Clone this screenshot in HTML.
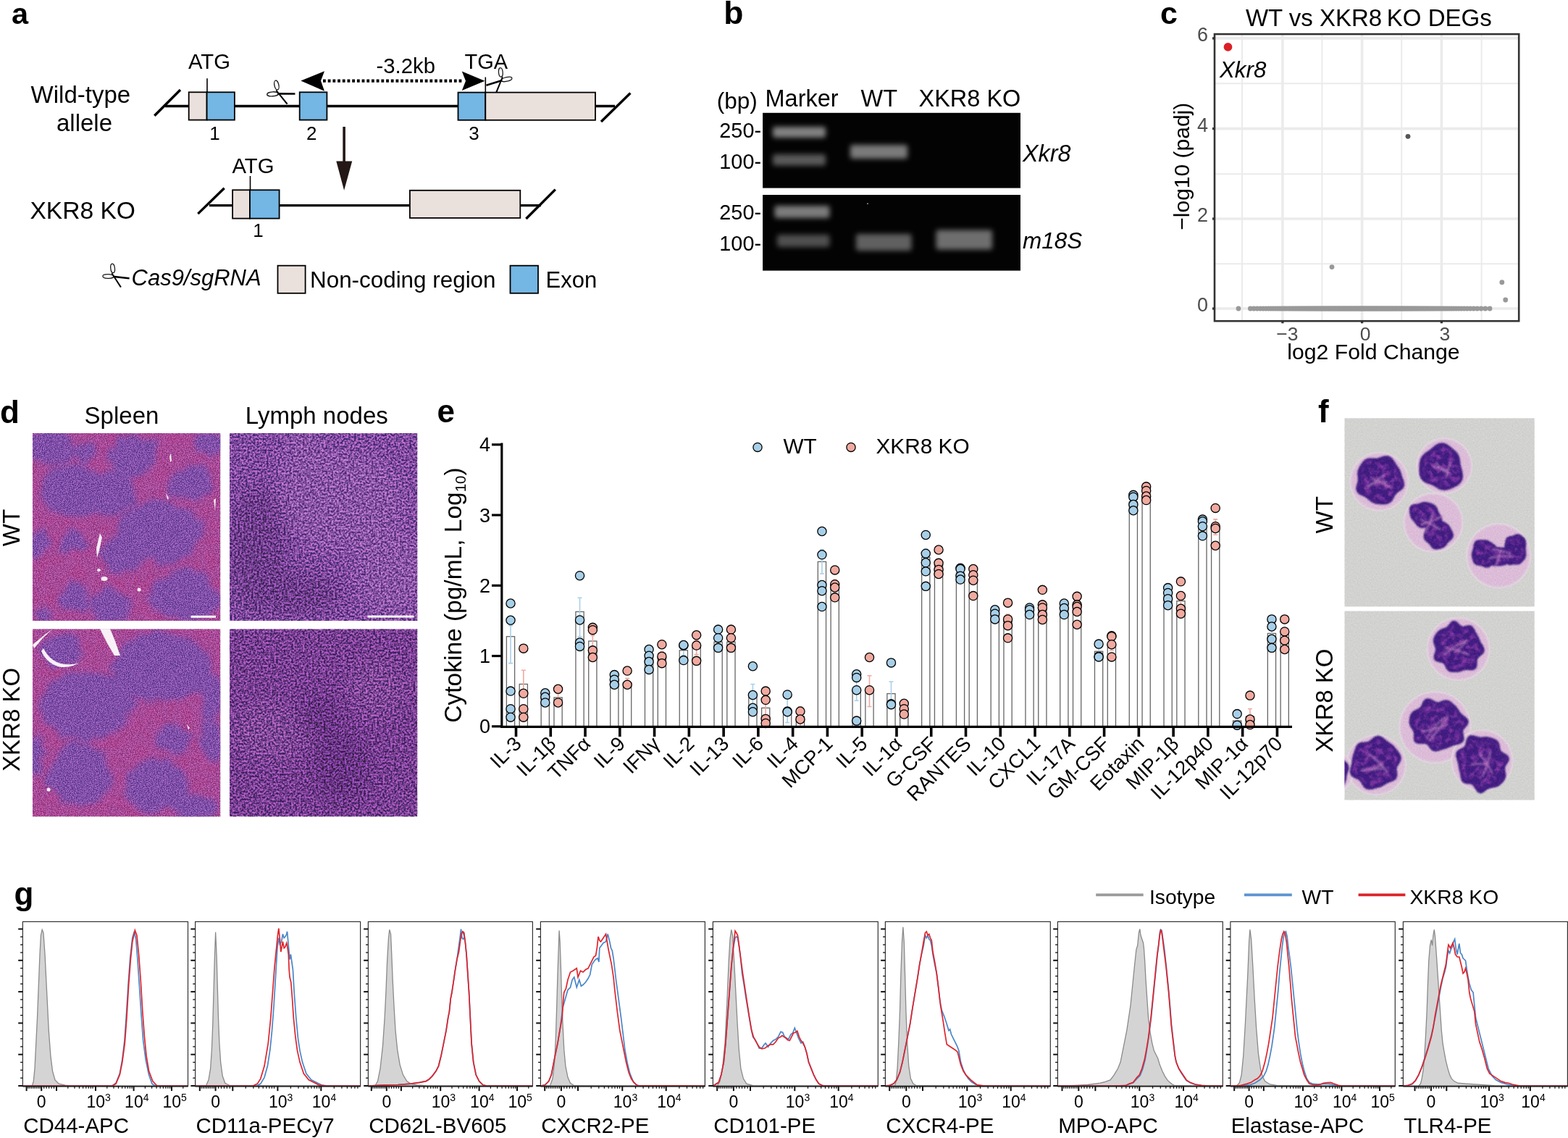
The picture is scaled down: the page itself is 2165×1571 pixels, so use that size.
<!DOCTYPE html>
<html><head><meta charset="utf-8"><title>Figure</title>
<style>
html,body{margin:0;padding:0;background:#fff;}
body{width:2165px;height:1571px;overflow:hidden;}
svg{display:block;}
</style></head>
<body>
<svg width="2165" height="1571" viewBox="0 0 2165 1571" font-family="'Liberation Sans', Arial, Helvetica, sans-serif">
<rect width="2165" height="1571" fill="#fff"/>
<defs>

<filter id="bandblur" x="-20%" y="-80%" width="140%" height="260%"><feGaussianBlur stdDeviation="3.6"/></filter>
<filter id="soft" x="-30%" y="-30%" width="160%" height="160%">
  <feTurbulence type="fractalNoise" baseFrequency="0.045" numOctaves="3" seed="7" result="t"/>
  <feDisplacementMap in="SourceGraphic" in2="t" scale="22" xChannelSelector="R" yChannelSelector="G" result="d"/>
  <feGaussianBlur in="d" stdDeviation="3.5"/>
</filter>
<filter id="soft2" x="-30%" y="-30%" width="160%" height="160%"><feGaussianBlur stdDeviation="12"/></filter>
<filter id="grain" x="0" y="0" width="100%" height="100%" color-interpolation-filters="sRGB">
  <feTurbulence type="fractalNoise" baseFrequency="0.7" numOctaves="3" seed="4"/>
  <feColorMatrix type="matrix" values="1 0 0 0 0  1 0 0 0 0  1 0 0 0 0  0 0 0 0 1"/>
  <feComponentTransfer><feFuncR type="linear" slope="2.4" intercept="-0.7"/><feFuncG type="linear" slope="2.4" intercept="-0.7"/><feFuncB type="linear" slope="2.4" intercept="-0.7"/></feComponentTransfer>
  <feGaussianBlur stdDeviation="0.45"/>
</filter>
<filter id="grain2" x="0" y="0" width="100%" height="100%" color-interpolation-filters="sRGB">
  <feTurbulence type="fractalNoise" baseFrequency="0.38" numOctaves="4" seed="11"/>
  <feColorMatrix type="matrix" values="1 0 0 0 0  1 0 0 0 0  1 0 0 0 0  0 0 0 0 1"/>
  <feComponentTransfer><feFuncR type="linear" slope="2.6" intercept="-0.8"/><feFuncG type="linear" slope="2.6" intercept="-0.8"/><feFuncB type="linear" slope="2.6" intercept="-0.8"/></feComponentTransfer>
  <feGaussianBlur stdDeviation="0.4"/>
</filter>
<filter id="mott" x="0" y="0" width="100%" height="100%" color-interpolation-filters="sRGB">
  <feTurbulence type="fractalNoise" baseFrequency="0.06" numOctaves="2" seed="2" result="n"/>
  <feColorMatrix in="n" type="matrix" values="0 0 0 0 0  0 0 0 0 0  0 0 0 0 0  3 0 0 0 -1.2" result="a"/>
  <feComposite in="SourceGraphic" in2="a" operator="in"/>
</filter>
<filter id="cellsoft" x="-20%" y="-20%" width="140%" height="140%"><feGaussianBlur stdDeviation="1.5"/></filter>
<filter id="nuc" x="-20%" y="-20%" width="140%" height="140%"><feGaussianBlur stdDeviation="1.2"/></filter>
<filter id="nucmot" x="-10%" y="-10%" width="120%" height="120%" color-interpolation-filters="sRGB">
  <feMorphology in="SourceAlpha" operator="erode" radius="3" result="er"/>
  <feGaussianBlur in="er" stdDeviation="2" result="erb"/>
  <feTurbulence type="fractalNoise" baseFrequency="0.12" numOctaves="2" seed="5" result="n"/>
  <feColorMatrix in="n" type="matrix" values="0 0 0 0 0  0 0 0 0 0  0 0 0 0 0  2.6 0 0 0 -1.05" result="na"/>
  <feComposite in="SourceGraphic" in2="na" operator="in" result="c1"/>
  <feComposite in="c1" in2="erb" operator="in"/>
</filter>
<filter id="grain3" x="0" y="0" width="100%" height="100%" color-interpolation-filters="sRGB">
  <feTurbulence type="fractalNoise" baseFrequency="0.5" numOctaves="2" seed="21"/>
  <feColorMatrix type="matrix" values="1 0 0 0 0  1 0 0 0 0  1 0 0 0 0  0 0 0 0 1"/>
</filter>
</defs>
<text x="16.0" y="33.0" font-size="41.5" font-weight="bold">a</text>
<text x="42.6" y="142.4" font-size="33">Wild-type</text>
<text x="116.5" y="180.8" font-size="33" text-anchor="middle">allele</text>
<text x="41.4" y="302.4" font-size="33.6">XKR8 KO</text>
<g stroke="#000" stroke-width="3.4" fill="none">
<line x1="228" y1="146.5" x2="849" y2="146.5"/>
<line x1="213.3" y1="159.8" x2="249" y2="124"/>
<line x1="830" y1="168" x2="870.4" y2="128.5"/>
<line x1="289" y1="283.6" x2="747" y2="283.6"/>
<line x1="273.3" y1="295.1" x2="309.7" y2="259.8"/>
<line x1="726.4" y1="302" x2="766.8" y2="261.6"/>
</g>
<g stroke="#000" stroke-width="1.8">
<rect x="260.7" y="127.3" width="24.9" height="38.3" fill="#ebe1dc"/>
<rect x="285.6" y="127.3" width="38.3" height="38.3" fill="#74b6e4"/>
<rect x="413.7" y="127.3" width="37.7" height="38.3" fill="#74b6e4"/>
<rect x="632.5" y="127.6" width="37.8" height="38.2" fill="#74b6e4"/>
<rect x="670.3" y="127.6" width="151.7" height="38.2" fill="#ebe1dc"/>
<rect x="321.1" y="262.3" width="23.9" height="39.3" fill="#ebe1dc"/>
<rect x="345" y="262.3" width="40.6" height="39.3" fill="#74b6e4"/>
<rect x="565.9" y="262.8" width="152.4" height="38.1" fill="#ebe1dc"/>
<rect x="383.5" y="366.7" width="38.1" height="38.1" fill="#ebe1dc"/>
<rect x="704.5" y="366.7" width="38.5" height="38.1" fill="#74b6e4"/>
</g>
<g stroke="#000" stroke-width="1.6">
<line x1="286" y1="108.2" x2="286" y2="127.3"/>
<line x1="670.3" y1="106.5" x2="670.3" y2="127.6"/>
<line x1="345.5" y1="243" x2="345.5" y2="262.3"/>
</g>
<text x="260.0" y="95.0" font-size="29.3">ATG</text>
<text x="320.5" y="239.0" font-size="29.3">ATG</text>
<text x="641.5" y="95.1" font-size="29">TGA</text>
<text x="519.5" y="101.2" font-size="29.3">-3.2kb</text>
<text x="296.5" y="193.0" font-size="26" text-anchor="middle">1</text>
<text x="430.3" y="193.0" font-size="26" text-anchor="middle">2</text>
<text x="654.5" y="193.0" font-size="26" text-anchor="middle">3</text>
<text x="356.5" y="327.3" font-size="26" text-anchor="middle">1</text>
<line x1="446" y1="111.7" x2="640" y2="111.7" stroke="#000" stroke-width="4.2" stroke-dasharray="3.8 2.9"/>
<polygon points="415.3,111.5 448,98.2 443,111.5 448,125.7" fill="#000"/>
<polygon points="669.4,111.8 637.8,98.6 643,111.8 637.8,125" fill="#000"/>
<line x1="475.1" y1="175" x2="475.1" y2="224" stroke="#231815" stroke-width="3.6"/>
<polygon points="464.3,222.4 486.2,222.4 475.1,262.8" fill="#231815"/>
<g transform="translate(384.5,128.5)">
  <ellipse cx="-2.6" cy="-11" rx="3" ry="6.6" transform="rotate(-12 -2.6 -11)" fill="none" stroke="#1a1a1a" stroke-width="1.35"/>
  <ellipse cx="-8" cy="1.3" rx="7.8" ry="3" transform="rotate(-4 -8 1.3)" fill="none" stroke="#1a1a1a" stroke-width="1.35"/>
  <path d="M-1,-0.5 L22.9,-0.3 L23,2.3 L-1,2.3Z" fill="#000"/>
  <path d="M-2.6,-4.4 L13,14.6 L11.2,15.8 L-4,-3.2Z" fill="#000"/>
</g>
<g transform="translate(692,110.5) rotate(-17) scale(-0.95,0.95)">
  <ellipse cx="-2.6" cy="-11" rx="3" ry="6.6" transform="rotate(-12 -2.6 -11)" fill="none" stroke="#1a1a1a" stroke-width="1.35"/>
  <ellipse cx="-8" cy="1.3" rx="7.8" ry="3" transform="rotate(-4 -8 1.3)" fill="none" stroke="#1a1a1a" stroke-width="1.35"/>
  <path d="M-1,-0.5 L22.9,-0.3 L23,2.3 L-1,2.3Z" fill="#000"/>
  <path d="M-2.6,-4.4 L13,14.6 L11.2,15.8 L-4,-3.2Z" fill="#000"/>
</g>
<g transform="translate(157,381) rotate(6) scale(0.95)">
  <ellipse cx="-2.6" cy="-11" rx="3" ry="6.6" transform="rotate(-12 -2.6 -11)" fill="none" stroke="#1a1a1a" stroke-width="1.35"/>
  <ellipse cx="-8" cy="1.3" rx="7.8" ry="3" transform="rotate(-4 -8 1.3)" fill="none" stroke="#1a1a1a" stroke-width="1.35"/>
  <path d="M-1,-0.5 L22.9,-0.3 L23,2.3 L-1,2.3Z" fill="#000"/>
  <path d="M-2.6,-4.4 L13,14.6 L11.2,15.8 L-4,-3.2Z" fill="#000"/>
</g>
<text x="181.5" y="393.8" font-size="31" font-style="italic">Cas9/sgRNA</text>
<text x="428.0" y="396.7" font-size="31.4">Non-coding region</text>
<text x="753.5" y="396.7" font-size="31">Exon</text>
<text x="999.3" y="33.1" font-size="44.5" font-weight="bold">b</text>
<text x="989.8" y="150.0" font-size="31.5">(bp)</text>
<text x="1056.5" y="147.0" font-size="32.5">Marker</text>
<text x="1188.5" y="147.0" font-size="32.5">WT</text>
<text x="1268.5" y="147.0" font-size="32.5">XKR8 KO</text>
<text x="1051.0" y="189.5" font-size="28.8" text-anchor="end">250-</text>
<text x="1051.0" y="232.9" font-size="28.8" text-anchor="end">100-</text>
<text x="1051.0" y="302.5" font-size="28.8" text-anchor="end">250-</text>
<text x="1051.0" y="346.0" font-size="28.8" text-anchor="end">100-</text>
<text x="1412.0" y="223.3" font-size="32.3" font-style="italic">Xkr8</text>
<text x="1412.0" y="343.0" font-size="31.5" font-style="italic">m18S</text>
<rect x="1053.1" y="155.8" width="355.9" height="103.8" fill="#030303"/>
<rect x="1053.1" y="269" width="355.9" height="104.6" fill="#030303"/>
<circle cx="1198" cy="281.2" r="0.9" fill="#aaa"/>
<g filter="url(#bandblur)">
<rect x="1067" y="175" width="73.0" height="15.0" rx="3" fill="#828282"/>
<rect x="1067" y="213" width="73.0" height="15.5" rx="3" fill="#5a5a5a"/>
<rect x="1174" y="200" width="79.0" height="19.0" rx="3" fill="#7a7a7a"/>
<rect x="1069.5" y="284" width="76.0" height="17.0" rx="3" fill="#7c7c7c"/>
<rect x="1073" y="324" width="72.5" height="17.0" rx="3" fill="#505050"/>
<rect x="1182" y="323" width="76.5" height="23.0" rx="3" fill="#606060"/>
<rect x="1292.5" y="317.5" width="77.5" height="27.0" rx="3" fill="#6e6e6e"/>
</g>
<text x="1602.0" y="32.5" font-size="43" font-weight="bold">c</text>
<text x="1889.8" y="35.7" font-size="33" text-anchor="middle">WT vs XKR8 KO DEGs</text>
<rect x="1677" y="47.1" width="420.1999999999998" height="396.09999999999997" fill="#fff"/>
<g stroke="#ebebeb"><line x1="1715" y1="47.1" x2="1715" y2="443.2" stroke-width="2"/><line x1="1825.4" y1="47.1" x2="1825.4" y2="443.2" stroke-width="2"/><line x1="1935.2" y1="47.1" x2="1935.2" y2="443.2" stroke-width="2"/><line x1="2045.6" y1="47.1" x2="2045.6" y2="443.2" stroke-width="2"/><line x1="1677" y1="115.3" x2="2097.2" y2="115.3" stroke-width="2"/><line x1="1677" y1="240.3" x2="2097.2" y2="240.3" stroke-width="2"/><line x1="1677" y1="364.3" x2="2097.2" y2="364.3" stroke-width="2"/><line x1="1770.9" y1="47.1" x2="1770.9" y2="443.2" stroke-width="3.6"/><line x1="1880.6" y1="47.1" x2="1880.6" y2="443.2" stroke-width="3.6"/><line x1="1990.4" y1="47.1" x2="1990.4" y2="443.2" stroke-width="3.6"/><line x1="1677" y1="52.9" x2="2097.2" y2="52.9" stroke-width="3.6"/><line x1="1677" y1="177.6" x2="2097.2" y2="177.6" stroke-width="3.6"/><line x1="1677" y1="302" x2="2097.2" y2="302" stroke-width="3.6"/><line x1="1677" y1="426" x2="2097.2" y2="426" stroke-width="3.6"/></g>
<g fill="#999"><circle cx="1710.0" cy="426" r="3.4"/><circle cx="1726.4" cy="426" r="3.4"/><circle cx="1731.3" cy="426" r="3.4"/><circle cx="1735.8" cy="426" r="3.4"/><circle cx="1740.1" cy="426" r="3.4"/><circle cx="1744.1" cy="426" r="3.4"/><circle cx="1747.8" cy="426" r="3.4"/><circle cx="1751.4" cy="426" r="3.4"/><circle cx="1754.7" cy="426" r="3.4"/><circle cx="1757.9" cy="426" r="3.4"/><circle cx="1761.0" cy="426" r="3.4"/><circle cx="1763.9" cy="426" r="3.4"/><circle cx="1766.7" cy="426" r="3.4"/><circle cx="1769.4" cy="426" r="3.4"/><circle cx="1772.0" cy="426" r="3.4"/><circle cx="1774.4" cy="426" r="3.4"/><circle cx="1776.8" cy="426" r="3.4"/><circle cx="1779.2" cy="426" r="3.4"/><circle cx="1781.4" cy="426" r="3.4"/><circle cx="1783.6" cy="426" r="3.4"/><circle cx="1785.7" cy="426" r="3.4"/><circle cx="1787.7" cy="426" r="3.4"/><circle cx="1789.7" cy="426" r="3.4"/><circle cx="1791.7" cy="426" r="3.4"/><circle cx="1793.6" cy="426" r="3.4"/><circle cx="1795.4" cy="426" r="3.4"/><circle cx="1797.3" cy="426" r="3.4"/><circle cx="1799.0" cy="426" r="3.4"/><circle cx="1800.8" cy="426" r="3.4"/><circle cx="1802.5" cy="426" r="3.4"/><circle cx="1804.2" cy="426" r="3.4"/><circle cx="1805.8" cy="426" r="3.4"/><circle cx="1807.4" cy="426" r="3.4"/><circle cx="1809.0" cy="426" r="3.4"/><circle cx="1810.6" cy="426" r="3.4"/><circle cx="1812.1" cy="426" r="3.4"/><circle cx="1813.6" cy="426" r="3.4"/><circle cx="1815.1" cy="426" r="3.4"/><circle cx="1816.6" cy="426" r="3.4"/><circle cx="1818.1" cy="426" r="3.4"/><circle cx="1819.5" cy="426" r="3.4"/><circle cx="1820.9" cy="426" r="3.4"/><circle cx="1822.3" cy="426" r="3.4"/><circle cx="1823.7" cy="426" r="3.4"/><circle cx="1825.1" cy="426" r="3.4"/><circle cx="1826.5" cy="426" r="3.4"/><circle cx="1827.8" cy="426" r="3.4"/><circle cx="1829.2" cy="426" r="3.4"/><circle cx="1830.5" cy="426" r="3.4"/><circle cx="1831.8" cy="426" r="3.4"/><circle cx="1833.2" cy="426" r="3.4"/><circle cx="1834.5" cy="426" r="3.4"/><circle cx="1835.8" cy="426" r="3.4"/><circle cx="1837.0" cy="426" r="3.4"/><circle cx="1838.3" cy="426" r="3.4"/><circle cx="1839.6" cy="426" r="3.4"/><circle cx="1840.9" cy="426" r="3.4"/><circle cx="1842.1" cy="426" r="3.4"/><circle cx="1843.4" cy="426" r="3.4"/><circle cx="1844.6" cy="426" r="3.4"/><circle cx="1845.9" cy="426" r="3.4"/><circle cx="1847.1" cy="426" r="3.4"/><circle cx="1848.4" cy="426" r="3.4"/><circle cx="1849.6" cy="426" r="3.4"/><circle cx="1850.8" cy="426" r="3.4"/><circle cx="1852.0" cy="426" r="3.4"/><circle cx="1853.3" cy="426" r="3.4"/><circle cx="1854.5" cy="426" r="3.4"/><circle cx="1855.7" cy="426" r="3.4"/><circle cx="1856.9" cy="426" r="3.4"/><circle cx="1858.1" cy="426" r="3.4"/><circle cx="1859.3" cy="426" r="3.4"/><circle cx="1860.5" cy="426" r="3.4"/><circle cx="1861.8" cy="426" r="3.4"/><circle cx="1863.0" cy="426" r="3.4"/><circle cx="1864.2" cy="426" r="3.4"/><circle cx="1865.4" cy="426" r="3.4"/><circle cx="1866.6" cy="426" r="3.4"/><circle cx="1867.8" cy="426" r="3.4"/><circle cx="1869.0" cy="426" r="3.4"/><circle cx="1870.2" cy="426" r="3.4"/><circle cx="1871.4" cy="426" r="3.4"/><circle cx="1872.6" cy="426" r="3.4"/><circle cx="1873.8" cy="426" r="3.4"/><circle cx="1875.0" cy="426" r="3.4"/><circle cx="1876.2" cy="426" r="3.4"/><circle cx="1877.4" cy="426" r="3.4"/><circle cx="1878.6" cy="426" r="3.4"/><circle cx="1879.8" cy="426" r="3.4"/><circle cx="1881.0" cy="426" r="3.4"/><circle cx="1882.2" cy="426" r="3.4"/><circle cx="1883.4" cy="426" r="3.4"/><circle cx="1884.6" cy="426" r="3.4"/><circle cx="1885.8" cy="426" r="3.4"/><circle cx="1887.0" cy="426" r="3.4"/><circle cx="1888.2" cy="426" r="3.4"/><circle cx="1889.4" cy="426" r="3.4"/><circle cx="1890.6" cy="426" r="3.4"/><circle cx="1891.8" cy="426" r="3.4"/><circle cx="1893.0" cy="426" r="3.4"/><circle cx="1894.2" cy="426" r="3.4"/><circle cx="1895.4" cy="426" r="3.4"/><circle cx="1896.6" cy="426" r="3.4"/><circle cx="1897.8" cy="426" r="3.4"/><circle cx="1899.0" cy="426" r="3.4"/><circle cx="1900.2" cy="426" r="3.4"/><circle cx="1901.4" cy="426" r="3.4"/><circle cx="1902.6" cy="426" r="3.4"/><circle cx="1903.8" cy="426" r="3.4"/><circle cx="1905.1" cy="426" r="3.4"/><circle cx="1906.3" cy="426" r="3.4"/><circle cx="1907.5" cy="426" r="3.4"/><circle cx="1908.7" cy="426" r="3.4"/><circle cx="1909.9" cy="426" r="3.4"/><circle cx="1911.2" cy="426" r="3.4"/><circle cx="1912.4" cy="426" r="3.4"/><circle cx="1913.6" cy="426" r="3.4"/><circle cx="1914.9" cy="426" r="3.4"/><circle cx="1916.1" cy="426" r="3.4"/><circle cx="1917.4" cy="426" r="3.4"/><circle cx="1918.6" cy="426" r="3.4"/><circle cx="1919.9" cy="426" r="3.4"/><circle cx="1921.1" cy="426" r="3.4"/><circle cx="1922.4" cy="426" r="3.4"/><circle cx="1923.7" cy="426" r="3.4"/><circle cx="1925.0" cy="426" r="3.4"/><circle cx="1926.3" cy="426" r="3.4"/><circle cx="1927.6" cy="426" r="3.4"/><circle cx="1928.9" cy="426" r="3.4"/><circle cx="1930.2" cy="426" r="3.4"/><circle cx="1931.5" cy="426" r="3.4"/><circle cx="1932.9" cy="426" r="3.4"/><circle cx="1934.2" cy="426" r="3.4"/><circle cx="1935.6" cy="426" r="3.4"/><circle cx="1936.9" cy="426" r="3.4"/><circle cx="1938.3" cy="426" r="3.4"/><circle cx="1939.7" cy="426" r="3.4"/><circle cx="1941.2" cy="426" r="3.4"/><circle cx="1942.6" cy="426" r="3.4"/><circle cx="1944.0" cy="426" r="3.4"/><circle cx="1945.5" cy="426" r="3.4"/><circle cx="1947.0" cy="426" r="3.4"/><circle cx="1948.5" cy="426" r="3.4"/><circle cx="1950.0" cy="426" r="3.4"/><circle cx="1951.6" cy="426" r="3.4"/><circle cx="1953.1" cy="426" r="3.4"/><circle cx="1954.7" cy="426" r="3.4"/><circle cx="1956.4" cy="426" r="3.4"/><circle cx="1958.0" cy="426" r="3.4"/><circle cx="1959.7" cy="426" r="3.4"/><circle cx="1961.4" cy="426" r="3.4"/><circle cx="1963.2" cy="426" r="3.4"/><circle cx="1965.0" cy="426" r="3.4"/><circle cx="1966.8" cy="426" r="3.4"/><circle cx="1968.6" cy="426" r="3.4"/><circle cx="1970.5" cy="426" r="3.4"/><circle cx="1972.5" cy="426" r="3.4"/><circle cx="1974.5" cy="426" r="3.4"/><circle cx="1976.6" cy="426" r="3.4"/><circle cx="1978.7" cy="426" r="3.4"/><circle cx="1980.9" cy="426" r="3.4"/><circle cx="1983.1" cy="426" r="3.4"/><circle cx="1985.4" cy="426" r="3.4"/><circle cx="1987.8" cy="426" r="3.4"/><circle cx="1990.3" cy="426" r="3.4"/><circle cx="1992.9" cy="426" r="3.4"/><circle cx="1995.5" cy="426" r="3.4"/><circle cx="1998.3" cy="426" r="3.4"/><circle cx="2001.2" cy="426" r="3.4"/><circle cx="2004.2" cy="426" r="3.4"/><circle cx="2007.3" cy="426" r="3.4"/><circle cx="2010.6" cy="426" r="3.4"/><circle cx="2014.1" cy="426" r="3.4"/><circle cx="2017.8" cy="426" r="3.4"/><circle cx="2021.6" cy="426" r="3.4"/><circle cx="2025.7" cy="426" r="3.4"/><circle cx="2030.1" cy="426" r="3.4"/><circle cx="2034.7" cy="426" r="3.4"/><circle cx="2039.7" cy="426" r="3.4"/><circle cx="2045.0" cy="426" r="3.4"/><circle cx="2050.8" cy="426" r="3.4"/><circle cx="2057.0" cy="426" r="3.4"/><circle cx="1839" cy="368.6" r="3.4"/><circle cx="2073.8" cy="389.7" r="3.4"/><circle cx="2078.7" cy="414" r="3.4"/></g>
<circle cx="1944" cy="188.3" r="3.4" fill="#555"/>
<circle cx="1695.5" cy="64.9" r="5.9" fill="#dc1f26"/>
<text x="1684.0" y="107.2" font-size="31.3" font-style="italic">Xkr8</text>
<rect x="1677" y="47.1" width="420.1999999999998" height="396.09999999999997" fill="none" stroke="#333" stroke-width="2.6"/>
<g stroke="#333" stroke-width="3.3"><line x1="1674" y1="52.9" x2="1677" y2="52.9"/><line x1="1674" y1="177.6" x2="1677" y2="177.6"/><line x1="1674" y1="302" x2="1677" y2="302"/><line x1="1674" y1="426" x2="1677" y2="426"/><line x1="1770.9" y1="443.2" x2="1770.9" y2="446.3"/><line x1="1880.6" y1="443.2" x2="1880.6" y2="446.3"/><line x1="1990.4" y1="443.2" x2="1990.4" y2="446.3"/></g>
<text x="1668.0" y="57.2" font-size="27" text-anchor="end" fill="#4d4d4d">6</text>
<text x="1668.0" y="181.9" font-size="27" text-anchor="end" fill="#4d4d4d">4</text>
<text x="1668.0" y="306.3" font-size="27" text-anchor="end" fill="#4d4d4d">2</text>
<text x="1668.0" y="430.3" font-size="27" text-anchor="end" fill="#4d4d4d">0</text>
<text x="1777.4" y="469.8" font-size="26.5" text-anchor="middle" fill="#4d4d4d">−3</text>
<text x="1885.1" y="469.8" font-size="26.5" text-anchor="middle" fill="#4d4d4d">0</text>
<text x="1994.9" y="469.8" font-size="26.5" text-anchor="middle" fill="#4d4d4d">3</text>
<text x="1896.5" y="495.8" font-size="30.2" text-anchor="middle">log2 Fold Change</text>
<text transform="translate(1641.5,229.7) rotate(-90)" font-size="30" text-anchor="middle">−log10 (padj)</text>
<text x="0.0" y="584.0" font-size="44" font-weight="bold">d</text>
<text x="168.0" y="585.0" font-size="33" text-anchor="middle">Spleen</text>
<text x="437.3" y="585.0" font-size="33" text-anchor="middle">Lymph nodes</text>
<text transform="translate(26.6,728.5) rotate(-90)" font-size="33" text-anchor="middle">WT</text>
<text transform="translate(26.6,993.4) rotate(-90)" font-size="33" text-anchor="middle">XKR8 KO</text>
<defs><clipPath id="c_sp1"><rect x="45" y="598" width="259.4" height="259.1"/></clipPath><clipPath id="c_ln1"><rect x="317" y="598" width="259.4" height="259.1"/></clipPath><clipPath id="c_sp2"><rect x="45" y="868.3" width="259.4" height="259.1"/></clipPath><clipPath id="c_ln2"><rect x="317" y="868.3" width="259.4" height="259.1"/></clipPath></defs>
<g clip-path="url(#c_sp1)" style="isolation:isolate">
<rect x="45" y="598" width="259.4" height="259.1" fill="#a64b98"/>
<rect x="45" y="598" width="259.4" height="259.1" fill="#b83c86" filter="url(#mott)" opacity="0.3"/>
<g filter="url(#soft)" fill="#8050a8">
<ellipse cx="69.8" cy="616.3" rx="33.0" ry="24.2"/>
<ellipse cx="117" cy="625" rx="16.5" ry="15.4"/>
<ellipse cx="183.6" cy="628.5" rx="33.0" ry="28.6"/>
<ellipse cx="101.3" cy="677.5" rx="46.2" ry="36.3"/>
<ellipse cx="150" cy="680" rx="37.4" ry="33.0"/>
<ellipse cx="262.4" cy="667" rx="30.8" ry="25.3"/>
<ellipse cx="290" cy="612.8" rx="22.0" ry="17.6"/>
<ellipse cx="220.3" cy="735.3" rx="57.2" ry="44.0"/>
<ellipse cx="166" cy="765" rx="29.7" ry="25.3"/>
<ellipse cx="52" cy="751" rx="15.4" ry="19.8"/>
<ellipse cx="101.3" cy="747.6" rx="19.8" ry="15.4"/>
<ellipse cx="103" cy="826" rx="20.9" ry="19.8"/>
<ellipse cx="152" cy="840" rx="29.7" ry="24.2"/>
<ellipse cx="255.4" cy="823" rx="46.2" ry="35.2"/>
<ellipse cx="60" cy="850" rx="15.4" ry="11.0"/>
</g>
<rect x="45" y="598" width="259.4" height="259.1" filter="url(#grain)" style="mix-blend-mode:overlay" opacity="0.42"/>
</g>
<g clip-path="url(#c_sp2)" style="isolation:isolate">
<rect x="45" y="868.3" width="259.4" height="259.1" fill="#a64b98"/>
<rect x="45" y="868.3" width="259.4" height="259.1" fill="#b83c86" filter="url(#mott)" opacity="0.3"/>
<g filter="url(#soft)" fill="#8050a8">
<ellipse cx="85.5" cy="898.5" rx="28.6" ry="20.9"/>
<ellipse cx="223.9" cy="920" rx="68.2" ry="49.5"/>
<ellipse cx="118.8" cy="973.8" rx="63.8" ry="48.4"/>
<ellipse cx="237.9" cy="1021" rx="26.4" ry="19.8"/>
<ellipse cx="292" cy="1021" rx="15.4" ry="28.6"/>
<ellipse cx="110" cy="1070" rx="44.0" ry="44.0"/>
<ellipse cx="215" cy="1084" rx="44.0" ry="38.5"/>
<ellipse cx="267.6" cy="1114" rx="29.7" ry="19.8"/>
<ellipse cx="48.8" cy="1044" rx="11.0" ry="27.5"/>
<ellipse cx="290" cy="960" rx="16.5" ry="33.0"/>
</g>
<rect x="45" y="868.3" width="259.4" height="259.1" filter="url(#grain)" style="mix-blend-mode:overlay" opacity="0.42"/>
</g>
<g fill="#fff" opacity="0.9" clip-path="url(#c_sp1)"><path d="M138,736 L141,742 L137,760 L134,770 L133,757 Z"/><ellipse cx="144" cy="799" rx="4.5" ry="3"/><ellipse cx="136.5" cy="787" rx="2.5" ry="2"/><circle cx="192" cy="814" r="2.5"/><path d="M234,630 L236,626 L237,636 L235,638 Z"/><path d="M229,680 L233,688 L231,690 Z"/><path d="M295,690 L298,688 L297,705 Z"/></g>
<g fill="#fff" opacity="0.92" clip-path="url(#c_sp2)"><path d="M138,868 L152,868 L159,885 L166,905 L158,905 L148,888 Z"/><path d="M45,890 L62,876 L73,868 L60,880 L47,895 Z"/><path d="M60,895 Q70,915 90,917 Q110,918 115,912 Q100,922 85,921 Q66,918 57,899 Z"/><circle cx="67" cy="1090" r="2.5"/><path d="M258,1000 L262,1005 L260,1007 Z"/></g>
<g clip-path="url(#c_ln1)" style="isolation:isolate">
<rect x="317" y="598" width="259.4" height="259.1" fill="#804b9f"/>
<g filter="url(#soft2)" fill="#8e5aa8" opacity="0.7"><ellipse cx="470" cy="690" rx="90" ry="70"/><ellipse cx="540" cy="790" rx="50" ry="60"/><ellipse cx="420" cy="650" rx="30" ry="60"/></g>
<g filter="url(#soft2)" fill="#64347f" opacity="0.6"><ellipse cx="355" cy="760" rx="40" ry="90"/><ellipse cx="410" cy="820" rx="60" ry="30"/></g>
<rect x="317" y="598" width="259.4" height="259.1" filter="url(#grain2)" style="mix-blend-mode:overlay" opacity="0.55"/>
</g>
<g clip-path="url(#c_ln2)" style="isolation:isolate">
<rect x="317" y="868.3" width="259.4" height="259.1" fill="#773f91"/>
<g filter="url(#soft2)" fill="#86509c" opacity="0.5"><ellipse cx="380" cy="1010" rx="60" ry="40"/><ellipse cx="520" cy="950" rx="40" ry="40"/></g>
<g filter="url(#soft2)" fill="#5a2a76" opacity="0.5"><ellipse cx="470" cy="1060" rx="40" ry="50"/><ellipse cx="440" cy="990" rx="30" ry="30"/></g>
<rect x="317" y="868.3" width="259.4" height="259.1" filter="url(#grain2)" style="mix-blend-mode:overlay" opacity="0.55"/>
</g>
<rect x="263.5" y="849.8" width="34.5" height="3" fill="#fff"/>
<rect x="507.5" y="849.6" width="64" height="3" fill="#fff"/>
<text x="603.5" y="583.2" font-size="44" font-weight="bold">e</text>
<g fill="#fff" stroke="#666" stroke-width="1.3"><rect x="699.40" y="878.71" width="11.2" height="124.09"/><rect x="717.20" y="944.45" width="11.2" height="58.35"/><rect x="747.17" y="962.93" width="11.2" height="39.87"/><rect x="764.97" y="962.93" width="11.2" height="39.87"/><rect x="794.94" y="844.48" width="11.2" height="158.32"/><rect x="812.74" y="885.03" width="11.2" height="117.77"/><rect x="842.71" y="938.62" width="11.2" height="64.19"/><rect x="860.51" y="942.50" width="11.2" height="60.30"/><rect x="890.48" y="909.44" width="11.2" height="93.36"/><rect x="908.28" y="907.50" width="11.2" height="95.30"/><rect x="938.25" y="897.77" width="11.2" height="105.03"/><rect x="956.05" y="893.88" width="11.2" height="108.92"/><rect x="986.02" y="886.10" width="11.2" height="116.70"/><rect x="1003.82" y="886.10" width="11.2" height="116.70"/><rect x="1033.79" y="960.98" width="11.2" height="41.82"/><rect x="1051.59" y="977.32" width="11.2" height="25.48"/><rect x="1081.56" y="980.04" width="11.2" height="22.76"/><rect x="1099.36" y="989.18" width="11.2" height="13.62"/><rect x="1129.33" y="775.43" width="11.2" height="227.37"/><rect x="1147.13" y="808.30" width="11.2" height="194.50"/><rect x="1177.10" y="952.72" width="11.2" height="50.08"/><rect x="1194.90" y="954.17" width="11.2" height="48.62"/><rect x="1224.87" y="957.58" width="11.2" height="45.22"/><rect x="1242.67" y="978.49" width="11.2" height="24.31"/><rect x="1272.64" y="769.40" width="11.2" height="233.40"/><rect x="1290.44" y="779.12" width="11.2" height="223.67"/><rect x="1320.41" y="790.79" width="11.2" height="212.01"/><rect x="1338.21" y="798.57" width="11.2" height="204.23"/><rect x="1368.18" y="848.17" width="11.2" height="154.63"/><rect x="1385.98" y="857.90" width="11.2" height="144.90"/><rect x="1415.95" y="843.31" width="11.2" height="159.49"/><rect x="1433.75" y="838.45" width="11.2" height="164.35"/><rect x="1463.72" y="840.39" width="11.2" height="162.41"/><rect x="1481.52" y="840.39" width="11.2" height="162.41"/><rect x="1511.49" y="899.23" width="11.2" height="103.57"/><rect x="1529.29" y="890.96" width="11.2" height="111.84"/><rect x="1559.26" y="692.57" width="11.2" height="310.23"/><rect x="1577.06" y="681.88" width="11.2" height="320.92"/><rect x="1607.03" y="822.89" width="11.2" height="179.91"/><rect x="1624.83" y="829.69" width="11.2" height="173.10"/><rect x="1654.80" y="725.64" width="11.2" height="277.16"/><rect x="1672.60" y="727.58" width="11.2" height="275.22"/><rect x="1702.57" y="995.02" width="11.2" height="7.78"/><rect x="1720.37" y="989.18" width="11.2" height="13.62"/><rect x="1750.34" y="874.43" width="11.2" height="128.37"/><rect x="1768.14" y="876.38" width="11.2" height="126.43"/></g>
<g fill="none" stroke-width="1.6"><path d="M705.00,915.66V863.73M702.00,863.73h6M702.00,915.66h6" stroke="#a9d0e8"/><path d="M722.80,961.95V925.29M719.80,925.29h6M719.80,961.95h6" stroke="#f0aaa0"/><path d="M752.77,966.82V959.04M749.77,959.04h6M749.77,966.82h6" stroke="#a9d0e8"/><path d="M770.57,968.76V957.09M767.57,957.09h6M767.57,968.76h6" stroke="#f0aaa0"/><path d="M800.54,878.71V825.32M797.54,825.32h6M797.54,878.71h6" stroke="#a9d0e8"/><path d="M818.34,892.91V877.35M815.34,877.35h6M815.34,892.91h6" stroke="#f0aaa0"/><path d="M848.31,942.50V934.72M845.31,934.72h6M845.31,942.50h6" stroke="#a9d0e8"/><path d="M866.11,948.34V936.67M863.11,936.67h6M863.11,948.34h6" stroke="#f0aaa0"/><path d="M896.08,915.27V903.60M893.08,903.60h6M893.08,915.27h6" stroke="#a9d0e8"/><path d="M913.88,915.27V899.71M910.88,899.71h6M910.88,915.27h6" stroke="#f0aaa0"/><path d="M943.85,904.58V890.96M940.85,890.96h6M940.85,904.58h6" stroke="#a9d0e8"/><path d="M961.65,903.60V884.15M958.65,884.15h6M958.65,903.60h6" stroke="#f0aaa0"/><path d="M991.62,892.91V879.29M988.62,879.29h6M988.62,892.91h6" stroke="#a9d0e8"/><path d="M1009.42,892.91V879.29M1006.42,879.29h6M1006.42,892.91h6" stroke="#f0aaa0"/><path d="M1039.39,977.51V944.45M1036.39,944.45h6M1036.39,977.51h6" stroke="#a9d0e8"/><path d="M1057.19,987.05V967.60M1054.19,967.60h6M1054.19,987.05h6" stroke="#f0aaa0"/><path d="M1087.16,997.55V962.54M1084.16,962.54h6M1084.16,997.55h6" stroke="#a9d0e8"/><path d="M1104.96,1002.80V975.57M1101.96,975.57h6M1101.96,1002.80h6" stroke="#f0aaa0"/><path d="M1134.93,791.96V758.90M1131.93,758.90h6M1131.93,791.96h6" stroke="#a9d0e8"/><path d="M1152.73,816.08V800.52M1149.73,800.52h6M1149.73,816.08h6" stroke="#f0aaa0"/><path d="M1182.70,967.30V938.13M1179.70,938.13h6M1179.70,967.30h6" stroke="#a9d0e8"/><path d="M1200.50,975.57V932.78M1197.50,932.78h6M1197.50,975.57h6" stroke="#f0aaa0"/><path d="M1230.47,974.11V941.05M1227.47,941.05h6M1227.47,974.11h6" stroke="#a9d0e8"/><path d="M1248.27,988.21V968.76M1245.27,968.76h6M1245.27,988.21h6" stroke="#f0aaa0"/><path d="M1278.24,781.07V757.73M1275.24,757.73h6M1275.24,781.07h6" stroke="#a9d0e8"/><path d="M1296.04,785.93V772.32M1293.04,772.32h6M1293.04,785.93h6" stroke="#f0aaa0"/><path d="M1326.01,794.68V786.90M1323.01,786.90h6M1323.01,794.68h6" stroke="#a9d0e8"/><path d="M1343.81,806.36V790.79M1340.81,790.79h6M1340.81,806.36h6" stroke="#f0aaa0"/><path d="M1373.78,852.06V844.28M1370.78,844.28h6M1370.78,852.06h6" stroke="#a9d0e8"/><path d="M1391.58,867.62V848.17M1388.58,848.17h6M1388.58,867.62h6" stroke="#f0aaa0"/><path d="M1421.55,846.23V840.39M1418.55,840.39h6M1418.55,846.23h6" stroke="#a9d0e8"/><path d="M1439.35,846.23V830.67M1436.35,830.67h6M1436.35,846.23h6" stroke="#f0aaa0"/><path d="M1469.32,845.25V835.53M1466.32,835.53h6M1466.32,845.25h6" stroke="#a9d0e8"/><path d="M1487.12,847.20V833.58M1484.12,833.58h6M1484.12,847.20h6" stroke="#f0aaa0"/><path d="M1517.09,905.06V893.39M1514.09,893.39h6M1514.09,905.06h6" stroke="#a9d0e8"/><path d="M1534.89,897.77V884.15M1531.89,884.15h6M1531.89,897.77h6" stroke="#f0aaa0"/><path d="M1564.86,697.43V687.71M1561.86,687.71h6M1561.86,697.43h6" stroke="#a9d0e8"/><path d="M1582.66,685.76V677.98M1579.66,677.98h6M1579.66,685.76h6" stroke="#f0aaa0"/><path d="M1612.63,828.72V817.05M1609.63,817.05h6M1609.63,828.72h6" stroke="#a9d0e8"/><path d="M1630.43,839.42V819.97M1627.43,819.97h6M1627.43,839.42h6" stroke="#f0aaa0"/><path d="M1660.40,730.50V720.77M1657.40,720.77h6M1657.40,730.50h6" stroke="#a9d0e8"/><path d="M1678.20,738.28V716.88M1675.20,716.88h6M1675.20,738.28h6" stroke="#f0aaa0"/><path d="M1708.17,999.88V990.16M1705.17,990.16h6M1705.17,999.88h6" stroke="#a9d0e8"/><path d="M1725.97,999.88V978.49M1722.97,978.49h6M1722.97,999.88h6" stroke="#f0aaa0"/><path d="M1755.94,882.21V866.65M1752.94,866.65h6M1752.94,882.21h6" stroke="#a9d0e8"/><path d="M1773.74,885.13V867.62M1770.74,867.62h6M1770.74,885.13h6" stroke="#f0aaa0"/></g>
<g stroke="#000" stroke-width="1.3"><circle cx="705.00" cy="833.00" r="6.1" fill="#a7cfe8"/><circle cx="705.00" cy="856.24" r="6.1" fill="#a7cfe8"/><circle cx="705.00" cy="954.08" r="6.1" fill="#a7cfe8"/><circle cx="705.00" cy="978.68" r="6.1" fill="#a7cfe8"/><circle cx="705.00" cy="990.16" r="6.1" fill="#a7cfe8"/><circle cx="722.80" cy="895.14" r="6.1" fill="#f0aaa0"/><circle cx="722.80" cy="957.29" r="6.1" fill="#f0aaa0"/><circle cx="722.80" cy="978.68" r="6.1" fill="#f0aaa0"/><circle cx="722.80" cy="990.16" r="6.1" fill="#f0aaa0"/><circle cx="752.77" cy="956.80" r="6.1" fill="#a7cfe8"/><circle cx="752.77" cy="962.25" r="6.1" fill="#a7cfe8"/><circle cx="752.77" cy="969.93" r="6.1" fill="#a7cfe8"/><circle cx="770.57" cy="951.26" r="6.1" fill="#f0aaa0"/><circle cx="770.57" cy="969.93" r="6.1" fill="#f0aaa0"/><circle cx="800.54" cy="794.68" r="6.1" fill="#a7cfe8"/><circle cx="800.54" cy="855.95" r="6.1" fill="#a7cfe8"/><circle cx="800.54" cy="887.07" r="6.1" fill="#a7cfe8"/><circle cx="800.54" cy="892.42" r="6.1" fill="#a7cfe8"/><circle cx="818.34" cy="866.36" r="6.1" fill="#f0aaa0"/><circle cx="818.34" cy="869.66" r="6.1" fill="#f0aaa0"/><circle cx="818.34" cy="897.87" r="6.1" fill="#f0aaa0"/><circle cx="818.34" cy="907.50" r="6.1" fill="#f0aaa0"/><circle cx="848.31" cy="931.61" r="6.1" fill="#a7cfe8"/><circle cx="848.31" cy="938.13" r="6.1" fill="#a7cfe8"/><circle cx="848.31" cy="945.23" r="6.1" fill="#a7cfe8"/><circle cx="866.11" cy="926.07" r="6.1" fill="#f0aaa0"/><circle cx="866.11" cy="945.23" r="6.1" fill="#f0aaa0"/><circle cx="896.08" cy="896.51" r="6.1" fill="#a7cfe8"/><circle cx="896.08" cy="905.26" r="6.1" fill="#a7cfe8"/><circle cx="896.08" cy="913.52" r="6.1" fill="#a7cfe8"/><circle cx="896.08" cy="924.42" r="6.1" fill="#a7cfe8"/><circle cx="913.88" cy="889.70" r="6.1" fill="#f0aaa0"/><circle cx="913.88" cy="906.13" r="6.1" fill="#f0aaa0"/><circle cx="913.88" cy="915.66" r="6.1" fill="#f0aaa0"/><circle cx="943.85" cy="891.06" r="6.1" fill="#a7cfe8"/><circle cx="943.85" cy="890.48" r="6.1" fill="#a7cfe8"/><circle cx="943.85" cy="911.58" r="6.1" fill="#a7cfe8"/><circle cx="961.65" cy="876.76" r="6.1" fill="#f0aaa0"/><circle cx="961.65" cy="891.06" r="6.1" fill="#f0aaa0"/><circle cx="961.65" cy="912.36" r="6.1" fill="#f0aaa0"/><circle cx="991.62" cy="869.08" r="6.1" fill="#a7cfe8"/><circle cx="991.62" cy="880.65" r="6.1" fill="#a7cfe8"/><circle cx="991.62" cy="894.37" r="6.1" fill="#a7cfe8"/><circle cx="1009.42" cy="869.08" r="6.1" fill="#f0aaa0"/><circle cx="1009.42" cy="880.65" r="6.1" fill="#f0aaa0"/><circle cx="1009.42" cy="894.37" r="6.1" fill="#f0aaa0"/><circle cx="1039.39" cy="919.75" r="6.1" fill="#a7cfe8"/><circle cx="1039.39" cy="959.52" r="6.1" fill="#a7cfe8"/><circle cx="1039.39" cy="977.32" r="6.1" fill="#a7cfe8"/><circle cx="1039.39" cy="982.77" r="6.1" fill="#a7cfe8"/><circle cx="1057.19" cy="954.08" r="6.1" fill="#f0aaa0"/><circle cx="1057.19" cy="966.33" r="6.1" fill="#f0aaa0"/><circle cx="1057.19" cy="992.39" r="6.1" fill="#f0aaa0"/><circle cx="1057.19" cy="998.42" r="6.1" fill="#f0aaa0"/><circle cx="1087.16" cy="958.94" r="6.1" fill="#a7cfe8"/><circle cx="1087.16" cy="981.99" r="6.1" fill="#a7cfe8"/><circle cx="1087.16" cy="982.77" r="6.1" fill="#a7cfe8"/><circle cx="1104.96" cy="981.99" r="6.1" fill="#f0aaa0"/><circle cx="1104.96" cy="992.98" r="6.1" fill="#f0aaa0"/><circle cx="1134.93" cy="733.51" r="6.1" fill="#a7cfe8"/><circle cx="1134.93" cy="765.80" r="6.1" fill="#a7cfe8"/><circle cx="1134.93" cy="807.52" r="6.1" fill="#a7cfe8"/><circle cx="1134.93" cy="815.69" r="6.1" fill="#a7cfe8"/><circle cx="1134.93" cy="837.57" r="6.1" fill="#a7cfe8"/><circle cx="1152.73" cy="786.90" r="6.1" fill="#f0aaa0"/><circle cx="1152.73" cy="806.65" r="6.1" fill="#f0aaa0"/><circle cx="1152.73" cy="811.02" r="6.1" fill="#f0aaa0"/><circle cx="1152.73" cy="824.83" r="6.1" fill="#f0aaa0"/><circle cx="1182.70" cy="930.74" r="6.1" fill="#a7cfe8"/><circle cx="1182.70" cy="935.41" r="6.1" fill="#a7cfe8"/><circle cx="1182.70" cy="952.72" r="6.1" fill="#a7cfe8"/><circle cx="1182.70" cy="995.12" r="6.1" fill="#a7cfe8"/><circle cx="1200.50" cy="907.50" r="6.1" fill="#f0aaa0"/><circle cx="1200.50" cy="952.72" r="6.1" fill="#f0aaa0"/><circle cx="1230.47" cy="914.89" r="6.1" fill="#a7cfe8"/><circle cx="1230.47" cy="971.87" r="6.1" fill="#a7cfe8"/><circle cx="1230.47" cy="972.65" r="6.1" fill="#a7cfe8"/><circle cx="1248.27" cy="971.29" r="6.1" fill="#f0aaa0"/><circle cx="1248.27" cy="978.68" r="6.1" fill="#f0aaa0"/><circle cx="1248.27" cy="986.07" r="6.1" fill="#f0aaa0"/><circle cx="1278.24" cy="738.47" r="6.1" fill="#a7cfe8"/><circle cx="1278.24" cy="764.15" r="6.1" fill="#a7cfe8"/><circle cx="1278.24" cy="776.79" r="6.1" fill="#a7cfe8"/><circle cx="1278.24" cy="788.85" r="6.1" fill="#a7cfe8"/><circle cx="1278.24" cy="809.37" r="6.1" fill="#a7cfe8"/><circle cx="1296.04" cy="758.99" r="6.1" fill="#f0aaa0"/><circle cx="1296.04" cy="777.37" r="6.1" fill="#f0aaa0"/><circle cx="1296.04" cy="786.42" r="6.1" fill="#f0aaa0"/><circle cx="1296.04" cy="792.45" r="6.1" fill="#f0aaa0"/><circle cx="1326.01" cy="784.18" r="6.1" fill="#a7cfe8"/><circle cx="1326.01" cy="785.54" r="6.1" fill="#a7cfe8"/><circle cx="1326.01" cy="795.17" r="6.1" fill="#a7cfe8"/><circle cx="1326.01" cy="800.03" r="6.1" fill="#a7cfe8"/><circle cx="1343.81" cy="785.54" r="6.1" fill="#f0aaa0"/><circle cx="1343.81" cy="793.81" r="6.1" fill="#f0aaa0"/><circle cx="1343.81" cy="801.20" r="6.1" fill="#f0aaa0"/><circle cx="1343.81" cy="822.60" r="6.1" fill="#f0aaa0"/><circle cx="1373.78" cy="841.75" r="6.1" fill="#a7cfe8"/><circle cx="1373.78" cy="847.20" r="6.1" fill="#a7cfe8"/><circle cx="1373.78" cy="854.88" r="6.1" fill="#a7cfe8"/><circle cx="1391.58" cy="832.13" r="6.1" fill="#f0aaa0"/><circle cx="1391.58" cy="854.88" r="6.1" fill="#f0aaa0"/><circle cx="1391.58" cy="863.64" r="6.1" fill="#f0aaa0"/><circle cx="1391.58" cy="880.85" r="6.1" fill="#f0aaa0"/><circle cx="1421.55" cy="838.93" r="6.1" fill="#a7cfe8"/><circle cx="1421.55" cy="841.75" r="6.1" fill="#a7cfe8"/><circle cx="1421.55" cy="848.56" r="6.1" fill="#a7cfe8"/><circle cx="1439.35" cy="814.33" r="6.1" fill="#f0aaa0"/><circle cx="1439.35" cy="834.85" r="6.1" fill="#f0aaa0"/><circle cx="1439.35" cy="838.93" r="6.1" fill="#f0aaa0"/><circle cx="1439.35" cy="848.56" r="6.1" fill="#f0aaa0"/><circle cx="1439.35" cy="855.47" r="6.1" fill="#f0aaa0"/><circle cx="1469.32" cy="833.00" r="6.1" fill="#a7cfe8"/><circle cx="1469.32" cy="839.52" r="6.1" fill="#a7cfe8"/><circle cx="1469.32" cy="848.56" r="6.1" fill="#a7cfe8"/><circle cx="1487.12" cy="823.37" r="6.1" fill="#f0aaa0"/><circle cx="1487.12" cy="834.85" r="6.1" fill="#f0aaa0"/><circle cx="1487.12" cy="837.57" r="6.1" fill="#f0aaa0"/><circle cx="1487.12" cy="844.48" r="6.1" fill="#f0aaa0"/><circle cx="1487.12" cy="862.27" r="6.1" fill="#f0aaa0"/><circle cx="1517.09" cy="889.11" r="6.1" fill="#a7cfe8"/><circle cx="1517.09" cy="906.13" r="6.1" fill="#a7cfe8"/><circle cx="1517.09" cy="906.91" r="6.1" fill="#a7cfe8"/><circle cx="1534.89" cy="877.83" r="6.1" fill="#f0aaa0"/><circle cx="1534.89" cy="878.71" r="6.1" fill="#f0aaa0"/><circle cx="1534.89" cy="889.70" r="6.1" fill="#f0aaa0"/><circle cx="1534.89" cy="906.91" r="6.1" fill="#f0aaa0"/><circle cx="1564.86" cy="683.33" r="6.1" fill="#a7cfe8"/><circle cx="1564.86" cy="686.15" r="6.1" fill="#a7cfe8"/><circle cx="1564.86" cy="696.56" r="6.1" fill="#a7cfe8"/><circle cx="1564.86" cy="704.73" r="6.1" fill="#a7cfe8"/><circle cx="1582.66" cy="671.86" r="6.1" fill="#f0aaa0"/><circle cx="1582.66" cy="677.40" r="6.1" fill="#f0aaa0"/><circle cx="1582.66" cy="684.99" r="6.1" fill="#f0aaa0"/><circle cx="1582.66" cy="690.53" r="6.1" fill="#f0aaa0"/><circle cx="1612.63" cy="811.61" r="6.1" fill="#a7cfe8"/><circle cx="1612.63" cy="818.41" r="6.1" fill="#a7cfe8"/><circle cx="1612.63" cy="826.68" r="6.1" fill="#a7cfe8"/><circle cx="1612.63" cy="835.72" r="6.1" fill="#a7cfe8"/><circle cx="1630.43" cy="802.85" r="6.1" fill="#f0aaa0"/><circle cx="1630.43" cy="822.50" r="6.1" fill="#f0aaa0"/><circle cx="1630.43" cy="840.30" r="6.1" fill="#f0aaa0"/><circle cx="1630.43" cy="847.20" r="6.1" fill="#f0aaa0"/><circle cx="1660.40" cy="717.08" r="6.1" fill="#a7cfe8"/><circle cx="1660.40" cy="719.80" r="6.1" fill="#a7cfe8"/><circle cx="1660.40" cy="726.71" r="6.1" fill="#a7cfe8"/><circle cx="1660.40" cy="739.84" r="6.1" fill="#a7cfe8"/><circle cx="1678.20" cy="701.42" r="6.1" fill="#f0aaa0"/><circle cx="1678.20" cy="726.71" r="6.1" fill="#f0aaa0"/><circle cx="1678.20" cy="729.43" r="6.1" fill="#f0aaa0"/><circle cx="1678.20" cy="753.26" r="6.1" fill="#f0aaa0"/><circle cx="1708.17" cy="985.59" r="6.1" fill="#a7cfe8"/><circle cx="1708.17" cy="1001.15" r="6.1" fill="#a7cfe8"/><circle cx="1725.97" cy="960.11" r="6.1" fill="#f0aaa0"/><circle cx="1725.97" cy="992.98" r="6.1" fill="#f0aaa0"/><circle cx="1725.97" cy="1000.56" r="6.1" fill="#f0aaa0"/><circle cx="1755.94" cy="854.88" r="6.1" fill="#a7cfe8"/><circle cx="1755.94" cy="865.00" r="6.1" fill="#a7cfe8"/><circle cx="1755.94" cy="882.31" r="6.1" fill="#a7cfe8"/><circle cx="1755.94" cy="894.37" r="6.1" fill="#a7cfe8"/><circle cx="1773.74" cy="854.88" r="6.1" fill="#f0aaa0"/><circle cx="1773.74" cy="871.90" r="6.1" fill="#f0aaa0"/><circle cx="1773.74" cy="884.15" r="6.1" fill="#f0aaa0"/><circle cx="1773.74" cy="896.51" r="6.1" fill="#f0aaa0"/></g>
<g stroke="#000" stroke-width="3.2"><line x1="692.8" y1="611.5" x2="692.8" y2="1005"/><line x1="691" y1="1003.4" x2="1784" y2="1003.4"/><line x1="679" y1="1002.80" x2="692.8" y2="1002.80"/><line x1="679" y1="905.55" x2="692.8" y2="905.55"/><line x1="679" y1="808.30" x2="692.8" y2="808.30"/><line x1="679" y1="711.05" x2="692.8" y2="711.05"/><line x1="679" y1="613.80" x2="692.8" y2="613.80"/><line x1="712.50" y1="1003" x2="712.50" y2="1017" stroke-width="3.6"/><line x1="760.27" y1="1003" x2="760.27" y2="1017" stroke-width="3.6"/><line x1="808.04" y1="1003" x2="808.04" y2="1017" stroke-width="3.6"/><line x1="855.81" y1="1003" x2="855.81" y2="1017" stroke-width="3.6"/><line x1="903.58" y1="1003" x2="903.58" y2="1017" stroke-width="3.6"/><line x1="951.35" y1="1003" x2="951.35" y2="1017" stroke-width="3.6"/><line x1="999.12" y1="1003" x2="999.12" y2="1017" stroke-width="3.6"/><line x1="1046.89" y1="1003" x2="1046.89" y2="1017" stroke-width="3.6"/><line x1="1094.66" y1="1003" x2="1094.66" y2="1017" stroke-width="3.6"/><line x1="1142.43" y1="1003" x2="1142.43" y2="1017" stroke-width="3.6"/><line x1="1190.20" y1="1003" x2="1190.20" y2="1017" stroke-width="3.6"/><line x1="1237.97" y1="1003" x2="1237.97" y2="1017" stroke-width="3.6"/><line x1="1285.74" y1="1003" x2="1285.74" y2="1017" stroke-width="3.6"/><line x1="1333.51" y1="1003" x2="1333.51" y2="1017" stroke-width="3.6"/><line x1="1381.28" y1="1003" x2="1381.28" y2="1017" stroke-width="3.6"/><line x1="1429.05" y1="1003" x2="1429.05" y2="1017" stroke-width="3.6"/><line x1="1476.82" y1="1003" x2="1476.82" y2="1017" stroke-width="3.6"/><line x1="1524.59" y1="1003" x2="1524.59" y2="1017" stroke-width="3.6"/><line x1="1572.36" y1="1003" x2="1572.36" y2="1017" stroke-width="3.6"/><line x1="1620.13" y1="1003" x2="1620.13" y2="1017" stroke-width="3.6"/><line x1="1667.90" y1="1003" x2="1667.90" y2="1017" stroke-width="3.6"/><line x1="1715.67" y1="1003" x2="1715.67" y2="1017" stroke-width="3.6"/><line x1="1763.44" y1="1003" x2="1763.44" y2="1017" stroke-width="3.6"/></g>
<text x="677.0" y="1012.4" font-size="27" text-anchor="end">0</text>
<text x="677.0" y="915.1" font-size="27" text-anchor="end">1</text>
<text x="677.0" y="817.9" font-size="27" text-anchor="end">2</text>
<text x="677.0" y="720.6" font-size="27" text-anchor="end">3</text>
<text x="677.0" y="623.4" font-size="27" text-anchor="end">4</text>
<text transform="translate(721.5,1028.5) rotate(-45)" font-size="27.5" text-anchor="end">IL-3</text>
<text transform="translate(769.3,1028.5) rotate(-45)" font-size="27.5" text-anchor="end">IL-1β</text>
<text transform="translate(817.0,1028.5) rotate(-45)" font-size="27.5" text-anchor="end">TNFα</text>
<text transform="translate(864.8,1028.5) rotate(-45)" font-size="27.5" text-anchor="end">IL-9</text>
<text transform="translate(912.6,1028.5) rotate(-45)" font-size="27.5" text-anchor="end">IFNγ</text>
<text transform="translate(960.4,1028.5) rotate(-45)" font-size="27.5" text-anchor="end">IL-2</text>
<text transform="translate(1008.1,1028.5) rotate(-45)" font-size="27.5" text-anchor="end">IL-13</text>
<text transform="translate(1055.9,1028.5) rotate(-45)" font-size="27.5" text-anchor="end">IL-6</text>
<text transform="translate(1103.7,1028.5) rotate(-45)" font-size="27.5" text-anchor="end">IL-4</text>
<text transform="translate(1151.4,1028.5) rotate(-45)" font-size="27.5" text-anchor="end">MCP-1</text>
<text transform="translate(1199.2,1028.5) rotate(-45)" font-size="27.5" text-anchor="end">IL-5</text>
<text transform="translate(1247.0,1028.5) rotate(-45)" font-size="27.5" text-anchor="end">IL-1α</text>
<text transform="translate(1294.7,1028.5) rotate(-45)" font-size="27.5" text-anchor="end">G-CSF</text>
<text transform="translate(1342.5,1028.5) rotate(-45)" font-size="27.5" text-anchor="end">RANTES</text>
<text transform="translate(1390.3,1028.5) rotate(-45)" font-size="27.5" text-anchor="end">IL-10</text>
<text transform="translate(1438.1,1028.5) rotate(-45)" font-size="27.5" text-anchor="end">CXCL1</text>
<text transform="translate(1485.8,1028.5) rotate(-45)" font-size="27.5" text-anchor="end">IL-17A</text>
<text transform="translate(1533.6,1028.5) rotate(-45)" font-size="27.5" text-anchor="end">GM-CSF</text>
<text transform="translate(1581.4,1028.5) rotate(-45)" font-size="27.5" text-anchor="end">Eotaxin</text>
<text transform="translate(1629.1,1028.5) rotate(-45)" font-size="27.5" text-anchor="end">MIP-1β</text>
<text transform="translate(1676.9,1028.5) rotate(-45)" font-size="27.5" text-anchor="end">IL-12p40</text>
<text transform="translate(1724.7,1028.5) rotate(-45)" font-size="27.5" text-anchor="end">MIP-1α</text>
<text transform="translate(1772.4,1028.5) rotate(-45)" font-size="27.5" text-anchor="end">IL-12p70</text>
<text transform="translate(636.5,821.5) rotate(-90)" font-size="33.5" text-anchor="middle">Cytokine (pg/mL, Log<tspan font-size="20.5" dy="6.5">10</tspan><tspan dy="-6.5">)</tspan></text>
<circle cx="1046" cy="617.4" r="6.1" fill="#a7cfe8" stroke="#000" stroke-width="1.3"/>
<circle cx="1175" cy="617.4" r="6.1" fill="#f0aaa0" stroke="#000" stroke-width="1.3"/>
<text x="1081.5" y="625.8" font-size="29.8">WT</text>
<text x="1209.5" y="625.8" font-size="29.8">XKR8 KO</text>
<text x="1820.0" y="582.5" font-size="44" font-weight="bold">f</text>
<text transform="translate(1839.5,710.8) rotate(-90)" font-size="33" text-anchor="middle">WT</text>
<text transform="translate(1839.5,967) rotate(-90)" font-size="33" text-anchor="middle">XKR8 KO</text>
<defs><clipPath id="c_f1"><rect x="1856.4" y="577.2" width="262.4" height="260.3"/></clipPath></defs>
<g clip-path="url(#c_f1)" style="isolation:isolate">
<rect x="1856.4" y="577.2" width="262.4" height="260.3" fill="#d2d2d0"/>
<circle cx="1904.3" cy="664.7" r="41.2" fill="#e2dadf"/>
<circle cx="1904.3" cy="664.7" r="39.2" fill="#dcbcd8" filter="url(#cellsoft)"/>
<circle cx="1994.2" cy="643.3" r="39.2" fill="#e2dadf"/>
<circle cx="1994.2" cy="643.3" r="37.2" fill="#dcbcd8" filter="url(#cellsoft)"/>
<circle cx="1979" cy="721.4" r="41.7" fill="#e2dadf"/>
<circle cx="1979" cy="721.4" r="39.7" fill="#dcbcd8" filter="url(#cellsoft)"/>
<circle cx="2069.2" cy="767.3" r="45.2" fill="#e2dadf"/>
<circle cx="2069.2" cy="767.3" r="43.2" fill="#dcbcd8" filter="url(#cellsoft)"/>
<path d="M1937.8,662.7 L1938.7,665.5 L1939.1,668.5 L1938.7,671.4 L1937.4,674.0 L1935.3,676.3 L1932.7,678.1 L1930.3,679.7 L1928.2,681.4 L1926.6,683.5 L1925.2,686.0 L1923.9,688.7 L1922.1,691.4 L1919.9,693.7 L1917.2,695.3 L1914.2,696.2 L1911.0,696.5 L1907.9,696.5 L1904.8,696.3 L1901.8,696.0 L1898.8,695.4 L1895.9,694.3 L1893.3,692.9 L1890.9,691.1 L1888.8,689.2 L1886.6,687.5 L1884.3,686.0 L1881.7,684.8 L1878.8,683.5 L1876.1,681.9 L1873.9,679.7 L1872.6,677.1 L1872.2,674.0 L1872.7,670.9 L1873.6,668.0 L1874.4,665.2 L1874.8,662.7 L1874.8,660.2 L1874.4,657.6 L1874.1,654.9 L1874.2,652.1 L1874.8,649.3 L1875.8,646.7 L1877.1,644.2 L1878.6,641.7 L1880.2,639.2 L1882.1,636.9 L1884.4,634.8 L1887.0,633.3 L1890.1,632.5 L1893.2,632.3 L1896.3,632.5 L1899.3,632.6 L1902.0,632.4 L1904.8,631.6 L1907.7,630.5 L1910.9,629.5 L1914.2,629.0 L1917.5,629.5 L1920.3,630.9 L1922.7,633.1 L1924.6,635.7 L1926.2,638.3 L1927.8,640.8 L1929.3,643.1 L1930.9,645.3 L1932.3,647.5 L1933.5,649.9 L1934.4,652.4 L1935.2,654.9 L1935.9,657.5 L1936.8,660.0Z" fill="#3f1f80" filter="url(#nuc)"/>
<path d="M1937.8,662.7 L1938.7,665.5 L1939.1,668.5 L1938.7,671.4 L1937.4,674.0 L1935.3,676.3 L1932.7,678.1 L1930.3,679.7 L1928.2,681.4 L1926.6,683.5 L1925.2,686.0 L1923.9,688.7 L1922.1,691.4 L1919.9,693.7 L1917.2,695.3 L1914.2,696.2 L1911.0,696.5 L1907.9,696.5 L1904.8,696.3 L1901.8,696.0 L1898.8,695.4 L1895.9,694.3 L1893.3,692.9 L1890.9,691.1 L1888.8,689.2 L1886.6,687.5 L1884.3,686.0 L1881.7,684.8 L1878.8,683.5 L1876.1,681.9 L1873.9,679.7 L1872.6,677.1 L1872.2,674.0 L1872.7,670.9 L1873.6,668.0 L1874.4,665.2 L1874.8,662.7 L1874.8,660.2 L1874.4,657.6 L1874.1,654.9 L1874.2,652.1 L1874.8,649.3 L1875.8,646.7 L1877.1,644.2 L1878.6,641.7 L1880.2,639.2 L1882.1,636.9 L1884.4,634.8 L1887.0,633.3 L1890.1,632.5 L1893.2,632.3 L1896.3,632.5 L1899.3,632.6 L1902.0,632.4 L1904.8,631.6 L1907.7,630.5 L1910.9,629.5 L1914.2,629.0 L1917.5,629.5 L1920.3,630.9 L1922.7,633.1 L1924.6,635.7 L1926.2,638.3 L1927.8,640.8 L1929.3,643.1 L1930.9,645.3 L1932.3,647.5 L1933.5,649.9 L1934.4,652.4 L1935.2,654.9 L1935.9,657.5 L1936.8,660.0Z" fill="#8a3aa8" filter="url(#nucmot)" opacity="0.9"/>
<path d="M1895.3,661.1 Q1909.9,666.5 1919.8,673.2 M1910.8,655.8 Q1894.7,668.5 1887.7,672.6 M1914.5,665.8 Q1899.1,664.7 1889.5,670.0" fill="none" stroke="#c98cc6" stroke-width="2.2" stroke-linecap="round" opacity="0.75" filter="url(#cellsoft)"/>
<path d="M2019.1,650.4 L2019.7,653.4 L2020.0,656.5 L2019.8,659.7 L2019.0,662.7 L2017.5,665.4 L2015.6,667.7 L2013.3,669.7 L2010.8,671.3 L2008.2,672.6 L2005.6,673.8 L2003.0,674.9 L2000.4,675.8 L1997.7,676.5 L1995.1,676.9 L1992.4,676.8 L1989.7,676.3 L1987.2,675.4 L1984.9,674.1 L1982.8,672.8 L1980.7,671.4 L1978.7,670.3 L1976.6,669.4 L1974.3,668.6 L1971.9,667.8 L1969.4,666.9 L1966.9,665.7 L1964.6,664.1 L1962.6,662.0 L1961.2,659.6 L1960.2,656.9 L1959.7,654.0 L1959.5,651.2 L1959.4,648.4 L1959.5,645.6 L1959.6,642.8 L1959.8,640.0 L1960.2,637.2 L1960.9,634.4 L1962.0,631.8 L1963.5,629.5 L1965.4,627.4 L1967.5,625.6 L1969.7,624.0 L1971.8,622.6 L1973.9,621.1 L1975.9,619.5 L1977.9,617.8 L1980.0,615.9 L1982.3,614.2 L1984.8,612.7 L1987.5,611.7 L1990.3,611.2 L1993.1,611.5 L1995.8,612.3 L1998.4,613.6 L2000.7,615.1 L2002.9,616.8 L2004.9,618.5 L2006.9,620.2 L2008.9,621.9 L2010.7,623.6 L2012.4,625.6 L2013.8,627.8 L2014.8,630.2 L2015.5,632.7 L2016.0,635.2 L2016.3,637.7 L2016.5,640.2 L2016.9,642.6 L2017.5,645.1 L2018.3,647.6Z" fill="#3f1f80" filter="url(#nuc)"/>
<path d="M2019.1,650.4 L2019.7,653.4 L2020.0,656.5 L2019.8,659.7 L2019.0,662.7 L2017.5,665.4 L2015.6,667.7 L2013.3,669.7 L2010.8,671.3 L2008.2,672.6 L2005.6,673.8 L2003.0,674.9 L2000.4,675.8 L1997.7,676.5 L1995.1,676.9 L1992.4,676.8 L1989.7,676.3 L1987.2,675.4 L1984.9,674.1 L1982.8,672.8 L1980.7,671.4 L1978.7,670.3 L1976.6,669.4 L1974.3,668.6 L1971.9,667.8 L1969.4,666.9 L1966.9,665.7 L1964.6,664.1 L1962.6,662.0 L1961.2,659.6 L1960.2,656.9 L1959.7,654.0 L1959.5,651.2 L1959.4,648.4 L1959.5,645.6 L1959.6,642.8 L1959.8,640.0 L1960.2,637.2 L1960.9,634.4 L1962.0,631.8 L1963.5,629.5 L1965.4,627.4 L1967.5,625.6 L1969.7,624.0 L1971.8,622.6 L1973.9,621.1 L1975.9,619.5 L1977.9,617.8 L1980.0,615.9 L1982.3,614.2 L1984.8,612.7 L1987.5,611.7 L1990.3,611.2 L1993.1,611.5 L1995.8,612.3 L1998.4,613.6 L2000.7,615.1 L2002.9,616.8 L2004.9,618.5 L2006.9,620.2 L2008.9,621.9 L2010.7,623.6 L2012.4,625.6 L2013.8,627.8 L2014.8,630.2 L2015.5,632.7 L2016.0,635.2 L2016.3,637.7 L2016.5,640.2 L2016.9,642.6 L2017.5,645.1 L2018.3,647.6Z" fill="#8a3aa8" filter="url(#nucmot)" opacity="0.9"/>
<path d="M2002.6,637.8 Q1999.5,650.0 1997.0,659.0 M1982.9,638.6 Q1988.8,650.3 2000.4,652.6 M1978.6,644.1 Q1987.9,646.3 2000.0,648.9" fill="none" stroke="#c98cc6" stroke-width="2.2" stroke-linecap="round" opacity="0.75" filter="url(#cellsoft)"/>
<path d="M1989.5,721.0 L1988.3,722.3 L1987.0,723.4 L1985.6,724.4 L1984.2,725.4 L1982.8,726.3 L1981.3,727.0 L1979.6,727.5 L1977.9,727.8 L1976.1,727.8 L1974.4,727.8 L1972.7,727.8 L1971.1,727.9 L1969.4,728.2 L1967.7,728.6 L1965.8,729.0 L1963.9,729.2 L1961.9,729.0 L1959.9,728.3 L1958.2,727.3 L1956.7,726.0 L1955.4,724.5 L1954.3,722.9 L1953.2,721.5 L1952.1,720.1 L1950.9,718.8 L1949.8,717.4 L1948.7,715.9 L1947.8,714.4 L1947.2,712.8 L1946.8,711.1 L1946.5,709.5 L1946.3,707.8 L1946.1,706.1 L1946.0,704.3 L1945.9,702.6 L1946.2,700.8 L1946.8,699.2 L1947.9,697.9 L1949.5,696.9 L1951.4,696.2 L1953.3,695.9 L1955.3,695.7 L1957.1,695.5 L1958.7,695.2 L1960.1,694.7 L1961.6,694.1 L1963.1,693.4 L1964.8,693.0 L1966.5,692.7 L1968.3,692.7 L1970.2,693.0 L1972.0,693.5 L1973.8,694.0 L1975.6,694.6 L1977.5,695.3 L1979.3,696.1 L1981.0,697.1 L1982.5,698.4 L1983.7,699.9 L1984.6,701.5 L1985.2,703.2 L1985.7,704.8 L1986.3,706.3 L1987.0,707.8 L1987.9,709.3 L1988.9,710.9 L1990.0,712.6 L1990.8,714.4 L1991.2,716.2 L1991.1,718.0 L1990.5,719.6Z M2006.9,738.0 L2006.9,739.9 L2006.4,741.8 L2005.4,743.5 L2004.1,744.9 L2002.7,746.2 L2001.4,747.3 L2000.1,748.4 L1999.1,749.6 L1998.2,750.8 L1997.3,752.2 L1996.3,753.4 L1995.1,754.6 L1993.8,755.6 L1992.3,756.4 L1990.8,756.9 L1989.3,757.4 L1987.7,757.9 L1986.0,758.3 L1984.3,758.6 L1982.5,758.6 L1980.8,758.4 L1979.2,757.7 L1977.7,756.6 L1976.5,755.3 L1975.4,753.9 L1974.4,752.5 L1973.4,751.3 L1972.2,750.2 L1970.9,749.1 L1969.5,748.0 L1968.1,746.8 L1966.9,745.3 L1966.1,743.6 L1965.6,741.8 L1965.6,739.9 L1965.8,738.0 L1966.2,736.2 L1966.7,734.4 L1967.3,732.7 L1967.9,731.1 L1968.7,729.5 L1969.7,728.1 L1970.9,726.9 L1972.3,725.9 L1973.7,725.0 L1975.1,724.3 L1976.3,723.4 L1977.4,722.4 L1978.6,721.2 L1979.7,719.9 L1981.1,718.6 L1982.6,717.6 L1984.2,716.9 L1986.0,716.8 L1987.7,717.1 L1989.4,717.7 L1990.9,718.6 L1992.4,719.4 L1993.8,720.3 L1995.3,721.1 L1996.7,721.9 L1998.1,722.8 L1999.4,723.9 L2000.6,725.1 L2001.6,726.5 L2002.4,728.0 L2003.2,729.5 L2004.1,731.1 L2004.9,732.7 L2005.8,734.3 L2006.5,736.1Z" fill="#3f1f80" filter="url(#nuc)"/>
<path d="M1989.5,721.0 L1988.3,722.3 L1987.0,723.4 L1985.6,724.4 L1984.2,725.4 L1982.8,726.3 L1981.3,727.0 L1979.6,727.5 L1977.9,727.8 L1976.1,727.8 L1974.4,727.8 L1972.7,727.8 L1971.1,727.9 L1969.4,728.2 L1967.7,728.6 L1965.8,729.0 L1963.9,729.2 L1961.9,729.0 L1959.9,728.3 L1958.2,727.3 L1956.7,726.0 L1955.4,724.5 L1954.3,722.9 L1953.2,721.5 L1952.1,720.1 L1950.9,718.8 L1949.8,717.4 L1948.7,715.9 L1947.8,714.4 L1947.2,712.8 L1946.8,711.1 L1946.5,709.5 L1946.3,707.8 L1946.1,706.1 L1946.0,704.3 L1945.9,702.6 L1946.2,700.8 L1946.8,699.2 L1947.9,697.9 L1949.5,696.9 L1951.4,696.2 L1953.3,695.9 L1955.3,695.7 L1957.1,695.5 L1958.7,695.2 L1960.1,694.7 L1961.6,694.1 L1963.1,693.4 L1964.8,693.0 L1966.5,692.7 L1968.3,692.7 L1970.2,693.0 L1972.0,693.5 L1973.8,694.0 L1975.6,694.6 L1977.5,695.3 L1979.3,696.1 L1981.0,697.1 L1982.5,698.4 L1983.7,699.9 L1984.6,701.5 L1985.2,703.2 L1985.7,704.8 L1986.3,706.3 L1987.0,707.8 L1987.9,709.3 L1988.9,710.9 L1990.0,712.6 L1990.8,714.4 L1991.2,716.2 L1991.1,718.0 L1990.5,719.6Z M2006.9,738.0 L2006.9,739.9 L2006.4,741.8 L2005.4,743.5 L2004.1,744.9 L2002.7,746.2 L2001.4,747.3 L2000.1,748.4 L1999.1,749.6 L1998.2,750.8 L1997.3,752.2 L1996.3,753.4 L1995.1,754.6 L1993.8,755.6 L1992.3,756.4 L1990.8,756.9 L1989.3,757.4 L1987.7,757.9 L1986.0,758.3 L1984.3,758.6 L1982.5,758.6 L1980.8,758.4 L1979.2,757.7 L1977.7,756.6 L1976.5,755.3 L1975.4,753.9 L1974.4,752.5 L1973.4,751.3 L1972.2,750.2 L1970.9,749.1 L1969.5,748.0 L1968.1,746.8 L1966.9,745.3 L1966.1,743.6 L1965.6,741.8 L1965.6,739.9 L1965.8,738.0 L1966.2,736.2 L1966.7,734.4 L1967.3,732.7 L1967.9,731.1 L1968.7,729.5 L1969.7,728.1 L1970.9,726.9 L1972.3,725.9 L1973.7,725.0 L1975.1,724.3 L1976.3,723.4 L1977.4,722.4 L1978.6,721.2 L1979.7,719.9 L1981.1,718.6 L1982.6,717.6 L1984.2,716.9 L1986.0,716.8 L1987.7,717.1 L1989.4,717.7 L1990.9,718.6 L1992.4,719.4 L1993.8,720.3 L1995.3,721.1 L1996.7,721.9 L1998.1,722.8 L1999.4,723.9 L2000.6,725.1 L2001.6,726.5 L2002.4,728.0 L2003.2,729.5 L2004.1,731.1 L2004.9,732.7 L2005.8,734.3 L2006.5,736.1Z" fill="#8a3aa8" filter="url(#nucmot)" opacity="0.9"/>
<path d="M1961.5,717.2 Q1976.1,722.8 1988.5,730.7 M1978.8,708.0 Q1974.7,722.0 1968.2,735.5 M1992.5,712.2 Q1973.8,721.2 1962.6,724.1" fill="none" stroke="#c98cc6" stroke-width="2.2" stroke-linecap="round" opacity="0.75" filter="url(#cellsoft)"/>
<path d="M2065.1,764.0 L2064.9,765.5 L2064.9,767.0 L2065.0,768.5 L2065.1,770.2 L2065.0,771.9 L2064.6,773.5 L2064.0,775.1 L2063.1,776.5 L2062.1,777.9 L2061.0,779.1 L2059.9,780.4 L2058.6,781.6 L2057.2,782.6 L2055.7,783.4 L2054.0,783.8 L2052.3,783.8 L2050.6,783.5 L2049.0,782.9 L2047.5,782.2 L2046.1,781.6 L2044.6,781.2 L2043.2,781.0 L2041.6,780.8 L2039.9,780.5 L2038.3,780.1 L2036.8,779.3 L2035.6,778.2 L2034.6,776.8 L2033.9,775.2 L2033.3,773.6 L2032.9,771.9 L2032.5,770.4 L2032.1,768.8 L2031.8,767.2 L2031.7,765.6 L2031.8,764.0 L2032.2,762.4 L2032.6,761.0 L2033.2,759.5 L2033.6,758.1 L2034.0,756.6 L2034.2,755.0 L2034.4,753.2 L2034.8,751.4 L2035.4,749.6 L2036.3,748.0 L2037.6,746.7 L2039.1,745.9 L2040.8,745.4 L2042.5,745.3 L2044.2,745.2 L2045.9,745.2 L2047.4,745.2 L2049.0,745.2 L2050.6,745.2 L2052.1,745.3 L2053.6,745.7 L2055.1,746.3 L2056.5,747.1 L2057.8,747.9 L2059.1,748.7 L2060.5,749.6 L2061.8,750.4 L2063.2,751.4 L2064.5,752.6 L2065.5,754.0 L2066.1,755.6 L2066.4,757.3 L2066.2,759.1 L2065.9,760.9 L2065.4,762.5Z M2106.7,759.0 L2106.9,760.8 L2107.1,762.7 L2107.3,764.6 L2107.3,766.6 L2106.9,768.6 L2106.3,770.3 L2105.4,771.9 L2104.3,773.2 L2103.2,774.5 L2102.1,775.6 L2101.0,776.7 L2099.8,777.7 L2098.6,778.5 L2097.3,779.2 L2096.0,779.5 L2094.6,779.6 L2093.3,779.5 L2092.0,779.4 L2090.7,779.3 L2089.4,779.5 L2088.0,779.8 L2086.4,780.1 L2084.8,780.2 L2083.2,779.9 L2081.7,779.1 L2080.5,777.9 L2079.5,776.2 L2078.8,774.2 L2078.3,772.2 L2077.9,770.2 L2077.5,768.3 L2077.2,766.4 L2076.8,764.6 L2076.5,762.8 L2076.4,760.9 L2076.4,759.0 L2076.7,757.2 L2077.0,755.4 L2077.3,753.6 L2077.6,751.8 L2077.9,750.0 L2078.2,748.0 L2078.6,746.1 L2079.2,744.3 L2080.1,742.7 L2081.3,741.4 L2082.7,740.7 L2084.1,740.2 L2085.6,740.1 L2087.0,740.0 L2088.2,739.7 L2089.5,739.3 L2090.7,738.7 L2092.0,738.1 L2093.4,737.5 L2094.8,737.2 L2096.2,737.3 L2097.7,737.6 L2099.0,738.3 L2100.4,739.0 L2101.7,739.9 L2103.0,741.0 L2104.3,742.1 L2105.4,743.5 L2106.3,745.2 L2106.9,747.1 L2107.2,749.2 L2107.2,751.4 L2107.0,753.5 L2106.8,755.4 L2106.7,757.2Z M2092.9,768.0 L2092.7,769.2 L2092.1,770.3 L2091.3,771.4 L2090.2,772.3 L2089.0,773.2 L2087.7,774.0 L2086.5,774.8 L2085.4,775.6 L2084.3,776.5 L2083.2,777.3 L2082.0,778.1 L2080.7,778.9 L2079.2,779.7 L2077.5,780.2 L2075.8,780.7 L2073.9,781.0 L2072.0,781.2 L2070.0,781.3 L2068.0,781.4 L2066.0,781.4 L2063.9,781.3 L2061.9,781.2 L2059.9,780.8 L2058.0,780.3 L2056.3,779.6 L2054.8,778.7 L2053.7,777.6 L2052.8,776.5 L2052.2,775.4 L2051.7,774.2 L2051.3,773.2 L2050.8,772.1 L2050.3,771.1 L2049.8,770.1 L2049.4,769.1 L2049.1,768.0 L2049.0,766.9 L2049.1,765.8 L2049.4,764.7 L2050.0,763.7 L2050.6,762.7 L2051.4,761.7 L2052.3,760.7 L2053.2,759.7 L2054.2,758.7 L2055.4,757.7 L2056.7,756.8 L2058.3,756.0 L2060.1,755.5 L2062.0,755.1 L2064.1,754.9 L2066.1,754.9 L2068.1,755.0 L2070.0,755.2 L2071.9,755.5 L2073.7,755.7 L2075.5,755.8 L2077.4,756.1 L2079.2,756.3 L2081.0,756.7 L2082.8,757.2 L2084.4,757.9 L2085.8,758.7 L2087.1,759.5 L2088.2,760.5 L2089.1,761.5 L2090.1,762.5 L2090.9,763.5 L2091.7,764.6 L2092.3,765.7 L2092.8,766.8Z" fill="#3f1f80" filter="url(#nuc)"/>
<path d="M2065.1,764.0 L2064.9,765.5 L2064.9,767.0 L2065.0,768.5 L2065.1,770.2 L2065.0,771.9 L2064.6,773.5 L2064.0,775.1 L2063.1,776.5 L2062.1,777.9 L2061.0,779.1 L2059.9,780.4 L2058.6,781.6 L2057.2,782.6 L2055.7,783.4 L2054.0,783.8 L2052.3,783.8 L2050.6,783.5 L2049.0,782.9 L2047.5,782.2 L2046.1,781.6 L2044.6,781.2 L2043.2,781.0 L2041.6,780.8 L2039.9,780.5 L2038.3,780.1 L2036.8,779.3 L2035.6,778.2 L2034.6,776.8 L2033.9,775.2 L2033.3,773.6 L2032.9,771.9 L2032.5,770.4 L2032.1,768.8 L2031.8,767.2 L2031.7,765.6 L2031.8,764.0 L2032.2,762.4 L2032.6,761.0 L2033.2,759.5 L2033.6,758.1 L2034.0,756.6 L2034.2,755.0 L2034.4,753.2 L2034.8,751.4 L2035.4,749.6 L2036.3,748.0 L2037.6,746.7 L2039.1,745.9 L2040.8,745.4 L2042.5,745.3 L2044.2,745.2 L2045.9,745.2 L2047.4,745.2 L2049.0,745.2 L2050.6,745.2 L2052.1,745.3 L2053.6,745.7 L2055.1,746.3 L2056.5,747.1 L2057.8,747.9 L2059.1,748.7 L2060.5,749.6 L2061.8,750.4 L2063.2,751.4 L2064.5,752.6 L2065.5,754.0 L2066.1,755.6 L2066.4,757.3 L2066.2,759.1 L2065.9,760.9 L2065.4,762.5Z M2106.7,759.0 L2106.9,760.8 L2107.1,762.7 L2107.3,764.6 L2107.3,766.6 L2106.9,768.6 L2106.3,770.3 L2105.4,771.9 L2104.3,773.2 L2103.2,774.5 L2102.1,775.6 L2101.0,776.7 L2099.8,777.7 L2098.6,778.5 L2097.3,779.2 L2096.0,779.5 L2094.6,779.6 L2093.3,779.5 L2092.0,779.4 L2090.7,779.3 L2089.4,779.5 L2088.0,779.8 L2086.4,780.1 L2084.8,780.2 L2083.2,779.9 L2081.7,779.1 L2080.5,777.9 L2079.5,776.2 L2078.8,774.2 L2078.3,772.2 L2077.9,770.2 L2077.5,768.3 L2077.2,766.4 L2076.8,764.6 L2076.5,762.8 L2076.4,760.9 L2076.4,759.0 L2076.7,757.2 L2077.0,755.4 L2077.3,753.6 L2077.6,751.8 L2077.9,750.0 L2078.2,748.0 L2078.6,746.1 L2079.2,744.3 L2080.1,742.7 L2081.3,741.4 L2082.7,740.7 L2084.1,740.2 L2085.6,740.1 L2087.0,740.0 L2088.2,739.7 L2089.5,739.3 L2090.7,738.7 L2092.0,738.1 L2093.4,737.5 L2094.8,737.2 L2096.2,737.3 L2097.7,737.6 L2099.0,738.3 L2100.4,739.0 L2101.7,739.9 L2103.0,741.0 L2104.3,742.1 L2105.4,743.5 L2106.3,745.2 L2106.9,747.1 L2107.2,749.2 L2107.2,751.4 L2107.0,753.5 L2106.8,755.4 L2106.7,757.2Z M2092.9,768.0 L2092.7,769.2 L2092.1,770.3 L2091.3,771.4 L2090.2,772.3 L2089.0,773.2 L2087.7,774.0 L2086.5,774.8 L2085.4,775.6 L2084.3,776.5 L2083.2,777.3 L2082.0,778.1 L2080.7,778.9 L2079.2,779.7 L2077.5,780.2 L2075.8,780.7 L2073.9,781.0 L2072.0,781.2 L2070.0,781.3 L2068.0,781.4 L2066.0,781.4 L2063.9,781.3 L2061.9,781.2 L2059.9,780.8 L2058.0,780.3 L2056.3,779.6 L2054.8,778.7 L2053.7,777.6 L2052.8,776.5 L2052.2,775.4 L2051.7,774.2 L2051.3,773.2 L2050.8,772.1 L2050.3,771.1 L2049.8,770.1 L2049.4,769.1 L2049.1,768.0 L2049.0,766.9 L2049.1,765.8 L2049.4,764.7 L2050.0,763.7 L2050.6,762.7 L2051.4,761.7 L2052.3,760.7 L2053.2,759.7 L2054.2,758.7 L2055.4,757.7 L2056.7,756.8 L2058.3,756.0 L2060.1,755.5 L2062.0,755.1 L2064.1,754.9 L2066.1,754.9 L2068.1,755.0 L2070.0,755.2 L2071.9,755.5 L2073.7,755.7 L2075.5,755.8 L2077.4,756.1 L2079.2,756.3 L2081.0,756.7 L2082.8,757.2 L2084.4,757.9 L2085.8,758.7 L2087.1,759.5 L2088.2,760.5 L2089.1,761.5 L2090.1,762.5 L2090.9,763.5 L2091.7,764.6 L2092.3,765.7 L2092.8,766.8Z" fill="#8a3aa8" filter="url(#nucmot)" opacity="0.9"/>
<path d="M2086.8,769.1 Q2069.0,765.9 2056.8,771.1 M2071.6,760.5 Q2071.5,768.2 2064.0,783.4 M2060.6,758.3 Q2070.4,757.7 2085.7,764.9" fill="none" stroke="#c98cc6" stroke-width="2.2" stroke-linecap="round" opacity="0.75" filter="url(#cellsoft)"/>
<rect x="1856.4" y="577.2" width="262.4" height="260.3" filter="url(#grain3)" style="mix-blend-mode:overlay" opacity="0.25"/>
</g>
<defs><clipPath id="c_f2"><rect x="1856.4" y="843.4" width="262.4" height="261.0"/></clipPath></defs>
<g clip-path="url(#c_f2)" style="isolation:isolate">
<rect x="1856.4" y="843.4" width="262.4" height="261.0" fill="#d2d2d0"/>
<circle cx="2013.6" cy="896" r="44.2" fill="#e2dadf"/>
<circle cx="2013.6" cy="896" r="42.2" fill="#dcbcd8" filter="url(#cellsoft)"/>
<circle cx="1981.5" cy="1004" r="50.2" fill="#e2dadf"/>
<circle cx="1981.5" cy="1004" r="48.2" fill="#dcbcd8" filter="url(#cellsoft)"/>
<circle cx="1900" cy="1056" r="42.2" fill="#e2dadf"/>
<circle cx="1900" cy="1056" r="40.2" fill="#dcbcd8" filter="url(#cellsoft)"/>
<circle cx="2046.5" cy="1050" r="43.2" fill="#e2dadf"/>
<circle cx="2046.5" cy="1050" r="41.2" fill="#dcbcd8" filter="url(#cellsoft)"/>
<circle cx="1838" cy="1066" r="31.2" fill="#e2dadf"/>
<circle cx="1838" cy="1066" r="29.2" fill="#dcbcd8" filter="url(#cellsoft)"/>
<path d="M2049.0,894.0 L2049.8,897.4 L2049.0,900.7 L2046.7,903.6 L2043.7,905.9 L2041.3,908.0 L2039.9,910.5 L2039.6,913.8 L2039.6,917.7 L2038.8,921.4 L2036.7,924.0 L2033.6,925.2 L2030.0,925.2 L2026.6,924.9 L2023.6,924.9 L2021.0,925.6 L2018.4,926.6 L2015.8,927.4 L2013.0,927.9 L2010.2,928.0 L2007.3,928.1 L2004.4,928.0 L2001.6,927.4 L1999.0,925.8 L1997.0,923.3 L1995.6,920.3 L1994.3,917.6 L1992.5,915.8 L1989.6,914.8 L1986.0,914.1 L1982.4,912.7 L1980.1,910.3 L1979.4,907.0 L1980.2,903.3 L1981.4,899.9 L1982.0,896.9 L1981.6,894.0 L1980.4,891.0 L1979.2,887.7 L1978.8,884.3 L1979.4,881.0 L1980.7,878.0 L1982.4,875.2 L1984.3,872.7 L1986.5,870.4 L1989.2,868.7 L1992.1,867.6 L1995.0,866.7 L1997.5,865.5 L1999.6,863.4 L2001.6,860.7 L2003.9,858.1 L2006.8,856.7 L2010.0,857.2 L2013.0,859.4 L2015.6,862.2 L2018.0,864.2 L2020.4,864.7 L2023.3,864.1 L2026.5,863.2 L2029.8,863.1 L2032.6,864.3 L2034.6,866.6 L2036.2,869.4 L2037.5,872.2 L2039.0,874.7 L2040.4,877.2 L2041.8,879.8 L2042.9,882.5 L2044.0,885.2 L2045.5,887.9 L2047.3,890.8Z" fill="#3f1f80" filter="url(#nuc)"/>
<path d="M2049.0,894.0 L2049.8,897.4 L2049.0,900.7 L2046.7,903.6 L2043.7,905.9 L2041.3,908.0 L2039.9,910.5 L2039.6,913.8 L2039.6,917.7 L2038.8,921.4 L2036.7,924.0 L2033.6,925.2 L2030.0,925.2 L2026.6,924.9 L2023.6,924.9 L2021.0,925.6 L2018.4,926.6 L2015.8,927.4 L2013.0,927.9 L2010.2,928.0 L2007.3,928.1 L2004.4,928.0 L2001.6,927.4 L1999.0,925.8 L1997.0,923.3 L1995.6,920.3 L1994.3,917.6 L1992.5,915.8 L1989.6,914.8 L1986.0,914.1 L1982.4,912.7 L1980.1,910.3 L1979.4,907.0 L1980.2,903.3 L1981.4,899.9 L1982.0,896.9 L1981.6,894.0 L1980.4,891.0 L1979.2,887.7 L1978.8,884.3 L1979.4,881.0 L1980.7,878.0 L1982.4,875.2 L1984.3,872.7 L1986.5,870.4 L1989.2,868.7 L1992.1,867.6 L1995.0,866.7 L1997.5,865.5 L1999.6,863.4 L2001.6,860.7 L2003.9,858.1 L2006.8,856.7 L2010.0,857.2 L2013.0,859.4 L2015.6,862.2 L2018.0,864.2 L2020.4,864.7 L2023.3,864.1 L2026.5,863.2 L2029.8,863.1 L2032.6,864.3 L2034.6,866.6 L2036.2,869.4 L2037.5,872.2 L2039.0,874.7 L2040.4,877.2 L2041.8,879.8 L2042.9,882.5 L2044.0,885.2 L2045.5,887.9 L2047.3,890.8Z" fill="#8a3aa8" filter="url(#nucmot)" opacity="0.9"/>
<path d="M2025.5,883.9 Q2009.6,890.3 1994.2,903.3 M1995.2,894.0 Q2015.9,898.3 2028.0,903.8 M2025.4,883.8 Q2020.8,891.6 2009.6,899.6" fill="none" stroke="#c98cc6" stroke-width="2.2" stroke-linecap="round" opacity="0.75" filter="url(#cellsoft)"/>
<path d="M2026.5,1000.6 L2023.9,1003.7 L2021.3,1006.5 L2020.1,1009.3 L2020.4,1012.5 L2021.3,1016.2 L2021.7,1020.2 L2020.6,1023.6 L2017.9,1026.0 L2014.2,1027.5 L2010.5,1028.4 L2007.1,1029.3 L2004.0,1030.5 L2001.2,1031.8 L1998.2,1033.0 L1995.2,1033.9 L1992.1,1034.7 L1989.0,1035.7 L1985.7,1036.8 L1982.3,1037.4 L1978.9,1036.8 L1976.0,1034.9 L1973.6,1031.9 L1971.6,1029.1 L1969.4,1027.3 L1966.3,1026.7 L1962.2,1026.9 L1957.9,1026.8 L1954.3,1025.4 L1952.3,1022.7 L1951.7,1019.1 L1952.0,1015.4 L1952.0,1012.2 L1951.1,1009.3 L1949.4,1006.6 L1947.5,1003.7 L1946.1,1000.6 L1945.6,997.3 L1945.7,994.0 L1946.2,990.6 L1947.0,987.3 L1948.6,984.3 L1951.0,981.7 L1954.2,979.9 L1957.6,978.4 L1960.4,976.7 L1962.3,974.3 L1963.7,971.0 L1965.4,967.5 L1968.0,964.9 L1971.6,964.0 L1975.6,965.0 L1979.4,967.1 L1982.7,968.8 L1985.7,969.3 L1988.7,968.5 L1992.0,967.1 L1995.5,966.2 L1998.9,966.5 L2001.9,967.8 L2004.6,969.8 L2007.0,971.9 L2009.4,974.0 L2011.5,976.3 L2013.3,978.7 L2014.9,981.4 L2016.5,983.8 L2018.7,986.1 L2021.6,988.3 L2024.8,990.7 L2027.2,993.7 L2027.9,997.1Z" fill="#3f1f80" filter="url(#nuc)"/>
<path d="M2026.5,1000.6 L2023.9,1003.7 L2021.3,1006.5 L2020.1,1009.3 L2020.4,1012.5 L2021.3,1016.2 L2021.7,1020.2 L2020.6,1023.6 L2017.9,1026.0 L2014.2,1027.5 L2010.5,1028.4 L2007.1,1029.3 L2004.0,1030.5 L2001.2,1031.8 L1998.2,1033.0 L1995.2,1033.9 L1992.1,1034.7 L1989.0,1035.7 L1985.7,1036.8 L1982.3,1037.4 L1978.9,1036.8 L1976.0,1034.9 L1973.6,1031.9 L1971.6,1029.1 L1969.4,1027.3 L1966.3,1026.7 L1962.2,1026.9 L1957.9,1026.8 L1954.3,1025.4 L1952.3,1022.7 L1951.7,1019.1 L1952.0,1015.4 L1952.0,1012.2 L1951.1,1009.3 L1949.4,1006.6 L1947.5,1003.7 L1946.1,1000.6 L1945.6,997.3 L1945.7,994.0 L1946.2,990.6 L1947.0,987.3 L1948.6,984.3 L1951.0,981.7 L1954.2,979.9 L1957.6,978.4 L1960.4,976.7 L1962.3,974.3 L1963.7,971.0 L1965.4,967.5 L1968.0,964.9 L1971.6,964.0 L1975.6,965.0 L1979.4,967.1 L1982.7,968.8 L1985.7,969.3 L1988.7,968.5 L1992.0,967.1 L1995.5,966.2 L1998.9,966.5 L2001.9,967.8 L2004.6,969.8 L2007.0,971.9 L2009.4,974.0 L2011.5,976.3 L2013.3,978.7 L2014.9,981.4 L2016.5,983.8 L2018.7,986.1 L2021.6,988.3 L2024.8,990.7 L2027.2,993.7 L2027.9,997.1Z" fill="#8a3aa8" filter="url(#nucmot)" opacity="0.9"/>
<path d="M1999.3,989.2 Q1984.0,1010.3 1974.5,1022.0 M1998.3,1000.3 Q1980.6,1007.9 1963.8,1009.4 M1994.7,990.5 Q1978.8,1002.7 1970.2,1018.9" fill="none" stroke="#c98cc6" stroke-width="2.2" stroke-linecap="round" opacity="0.75" filter="url(#cellsoft)"/>
<path d="M1932.5,1053.4 L1930.6,1056.2 L1929.1,1058.7 L1928.5,1061.3 L1928.8,1064.3 L1929.3,1067.6 L1929.4,1071.0 L1928.4,1074.1 L1926.4,1076.5 L1923.7,1078.2 L1920.7,1079.3 L1917.8,1080.4 L1915.2,1081.6 L1912.7,1083.1 L1910.3,1084.6 L1907.6,1085.9 L1904.8,1086.9 L1901.9,1087.8 L1898.9,1088.5 L1895.8,1089.4 L1892.4,1090.0 L1889.1,1090.0 L1885.9,1089.0 L1883.3,1086.9 L1881.2,1084.1 L1879.5,1081.1 L1877.8,1078.5 L1875.7,1076.6 L1872.9,1075.2 L1869.7,1073.8 L1866.8,1071.9 L1864.7,1069.4 L1863.8,1066.2 L1864.0,1062.8 L1864.8,1059.4 L1865.6,1056.3 L1866.2,1053.4 L1866.6,1050.6 L1866.9,1047.7 L1867.4,1044.9 L1868.2,1042.2 L1869.1,1039.5 L1870.0,1036.7 L1871.0,1033.8 L1872.1,1030.9 L1873.6,1028.1 L1875.9,1026.0 L1878.9,1024.8 L1882.2,1024.4 L1885.3,1024.3 L1888.2,1024.0 L1890.7,1022.8 L1893.1,1020.8 L1895.8,1018.4 L1898.9,1016.4 L1902.2,1015.5 L1905.5,1015.9 L1908.5,1017.5 L1911.2,1019.6 L1913.7,1021.7 L1916.1,1023.5 L1918.7,1025.2 L1921.2,1026.9 L1923.5,1028.8 L1925.6,1031.0 L1927.5,1033.4 L1929.4,1035.8 L1931.3,1038.3 L1933.2,1040.9 L1934.5,1043.9 L1934.9,1047.1 L1934.1,1050.3Z" fill="#3f1f80" filter="url(#nuc)"/>
<path d="M1932.5,1053.4 L1930.6,1056.2 L1929.1,1058.7 L1928.5,1061.3 L1928.8,1064.3 L1929.3,1067.6 L1929.4,1071.0 L1928.4,1074.1 L1926.4,1076.5 L1923.7,1078.2 L1920.7,1079.3 L1917.8,1080.4 L1915.2,1081.6 L1912.7,1083.1 L1910.3,1084.6 L1907.6,1085.9 L1904.8,1086.9 L1901.9,1087.8 L1898.9,1088.5 L1895.8,1089.4 L1892.4,1090.0 L1889.1,1090.0 L1885.9,1089.0 L1883.3,1086.9 L1881.2,1084.1 L1879.5,1081.1 L1877.8,1078.5 L1875.7,1076.6 L1872.9,1075.2 L1869.7,1073.8 L1866.8,1071.9 L1864.7,1069.4 L1863.8,1066.2 L1864.0,1062.8 L1864.8,1059.4 L1865.6,1056.3 L1866.2,1053.4 L1866.6,1050.6 L1866.9,1047.7 L1867.4,1044.9 L1868.2,1042.2 L1869.1,1039.5 L1870.0,1036.7 L1871.0,1033.8 L1872.1,1030.9 L1873.6,1028.1 L1875.9,1026.0 L1878.9,1024.8 L1882.2,1024.4 L1885.3,1024.3 L1888.2,1024.0 L1890.7,1022.8 L1893.1,1020.8 L1895.8,1018.4 L1898.9,1016.4 L1902.2,1015.5 L1905.5,1015.9 L1908.5,1017.5 L1911.2,1019.6 L1913.7,1021.7 L1916.1,1023.5 L1918.7,1025.2 L1921.2,1026.9 L1923.5,1028.8 L1925.6,1031.0 L1927.5,1033.4 L1929.4,1035.8 L1931.3,1038.3 L1933.2,1040.9 L1934.5,1043.9 L1934.9,1047.1 L1934.1,1050.3Z" fill="#8a3aa8" filter="url(#nucmot)" opacity="0.9"/>
<path d="M1909.2,1060.7 Q1898.7,1062.9 1882.3,1062.6 M1909.0,1054.5 Q1895.3,1062.7 1879.6,1063.7 M1889.6,1040.8 Q1903.1,1048.9 1915.7,1066.3" fill="none" stroke="#c98cc6" stroke-width="2.2" stroke-linecap="round" opacity="0.75" filter="url(#cellsoft)"/>
<path d="M2081.5,1053.7 L2079.4,1056.7 L2078.2,1059.6 L2078.2,1062.7 L2078.9,1066.2 L2079.4,1069.9 L2079.0,1073.6 L2077.6,1076.8 L2075.6,1079.5 L2073.2,1082.0 L2070.6,1084.2 L2067.8,1086.0 L2064.7,1087.1 L2061.4,1087.6 L2058.3,1088.0 L2055.4,1088.9 L2052.6,1090.6 L2049.7,1093.0 L2046.5,1094.9 L2043.1,1095.3 L2039.9,1093.5 L2037.3,1090.1 L2035.2,1086.5 L2033.3,1083.7 L2030.8,1082.5 L2027.6,1082.3 L2024.0,1082.1 L2020.8,1081.0 L2018.5,1078.6 L2017.2,1075.4 L2016.6,1072.0 L2016.1,1068.7 L2015.4,1065.7 L2014.6,1062.8 L2014.0,1059.8 L2013.5,1056.8 L2013.0,1053.7 L2012.1,1050.5 L2010.9,1047.1 L2010.0,1043.3 L2010.2,1039.7 L2011.9,1036.6 L2015.0,1034.4 L2018.4,1032.8 L2021.2,1031.2 L2022.9,1028.7 L2023.8,1025.1 L2024.8,1020.9 L2026.6,1017.2 L2029.5,1015.1 L2033.2,1014.9 L2036.9,1015.8 L2040.4,1017.0 L2043.5,1017.6 L2046.5,1017.5 L2049.5,1017.1 L2052.6,1017.0 L2055.7,1017.5 L2058.7,1018.3 L2061.7,1019.2 L2064.6,1020.4 L2067.3,1022.2 L2069.4,1024.8 L2070.6,1028.2 L2071.1,1031.8 L2071.8,1035.0 L2073.2,1037.3 L2076.0,1039.2 L2079.4,1041.0 L2082.4,1043.5 L2083.9,1046.7 L2083.4,1050.3Z" fill="#3f1f80" filter="url(#nuc)"/>
<path d="M2081.5,1053.7 L2079.4,1056.7 L2078.2,1059.6 L2078.2,1062.7 L2078.9,1066.2 L2079.4,1069.9 L2079.0,1073.6 L2077.6,1076.8 L2075.6,1079.5 L2073.2,1082.0 L2070.6,1084.2 L2067.8,1086.0 L2064.7,1087.1 L2061.4,1087.6 L2058.3,1088.0 L2055.4,1088.9 L2052.6,1090.6 L2049.7,1093.0 L2046.5,1094.9 L2043.1,1095.3 L2039.9,1093.5 L2037.3,1090.1 L2035.2,1086.5 L2033.3,1083.7 L2030.8,1082.5 L2027.6,1082.3 L2024.0,1082.1 L2020.8,1081.0 L2018.5,1078.6 L2017.2,1075.4 L2016.6,1072.0 L2016.1,1068.7 L2015.4,1065.7 L2014.6,1062.8 L2014.0,1059.8 L2013.5,1056.8 L2013.0,1053.7 L2012.1,1050.5 L2010.9,1047.1 L2010.0,1043.3 L2010.2,1039.7 L2011.9,1036.6 L2015.0,1034.4 L2018.4,1032.8 L2021.2,1031.2 L2022.9,1028.7 L2023.8,1025.1 L2024.8,1020.9 L2026.6,1017.2 L2029.5,1015.1 L2033.2,1014.9 L2036.9,1015.8 L2040.4,1017.0 L2043.5,1017.6 L2046.5,1017.5 L2049.5,1017.1 L2052.6,1017.0 L2055.7,1017.5 L2058.7,1018.3 L2061.7,1019.2 L2064.6,1020.4 L2067.3,1022.2 L2069.4,1024.8 L2070.6,1028.2 L2071.1,1031.8 L2071.8,1035.0 L2073.2,1037.3 L2076.0,1039.2 L2079.4,1041.0 L2082.4,1043.5 L2083.9,1046.7 L2083.4,1050.3Z" fill="#8a3aa8" filter="url(#nucmot)" opacity="0.9"/>
<path d="M2054.8,1054.0 Q2047.6,1054.9 2032.5,1054.5 M2057.5,1037.9 Q2055.3,1054.7 2046.9,1071.4 M2042.5,1039.8 Q2054.7,1056.3 2060.1,1066.7" fill="none" stroke="#c98cc6" stroke-width="2.2" stroke-linecap="round" opacity="0.75" filter="url(#cellsoft)"/>
<path d="M1861.1,1066.0 L1860.3,1068.2 L1859.8,1070.3 L1859.4,1072.4 L1859.1,1074.6 L1858.7,1076.9 L1858.1,1079.0 L1857.2,1081.1 L1856.1,1083.1 L1854.9,1085.0 L1853.6,1086.9 L1852.1,1088.7 L1850.5,1090.4 L1848.7,1091.8 L1846.6,1092.7 L1844.4,1092.9 L1842.2,1092.7 L1840.0,1092.2 L1838.0,1091.8 L1836.0,1091.7 L1833.9,1091.9 L1831.7,1092.3 L1829.4,1092.5 L1827.1,1092.3 L1825.0,1091.4 L1823.1,1089.9 L1821.6,1088.0 L1820.4,1085.8 L1819.4,1083.5 L1818.5,1081.4 L1817.6,1079.2 L1816.8,1077.1 L1816.2,1074.9 L1815.8,1072.7 L1815.6,1070.4 L1815.5,1068.2 L1815.3,1066.0 L1815.0,1063.7 L1814.7,1061.4 L1814.5,1058.9 L1814.7,1056.4 L1815.4,1054.1 L1816.6,1052.1 L1818.4,1050.5 L1820.3,1049.3 L1822.1,1048.2 L1823.8,1046.9 L1825.2,1045.5 L1826.6,1043.7 L1828.0,1041.9 L1829.6,1040.2 L1831.5,1038.8 L1833.6,1038.0 L1835.8,1037.6 L1838.0,1037.5 L1840.2,1037.7 L1842.4,1038.1 L1844.5,1038.6 L1846.6,1039.5 L1848.5,1040.8 L1850.1,1042.4 L1851.6,1044.2 L1852.9,1046.1 L1854.2,1047.8 L1855.7,1049.3 L1857.4,1050.8 L1859.1,1052.3 L1860.7,1054.1 L1861.9,1056.2 L1862.5,1058.6 L1862.4,1061.2 L1861.9,1063.7Z" fill="#3f1f80" filter="url(#nuc)"/>
<path d="M1861.1,1066.0 L1860.3,1068.2 L1859.8,1070.3 L1859.4,1072.4 L1859.1,1074.6 L1858.7,1076.9 L1858.1,1079.0 L1857.2,1081.1 L1856.1,1083.1 L1854.9,1085.0 L1853.6,1086.9 L1852.1,1088.7 L1850.5,1090.4 L1848.7,1091.8 L1846.6,1092.7 L1844.4,1092.9 L1842.2,1092.7 L1840.0,1092.2 L1838.0,1091.8 L1836.0,1091.7 L1833.9,1091.9 L1831.7,1092.3 L1829.4,1092.5 L1827.1,1092.3 L1825.0,1091.4 L1823.1,1089.9 L1821.6,1088.0 L1820.4,1085.8 L1819.4,1083.5 L1818.5,1081.4 L1817.6,1079.2 L1816.8,1077.1 L1816.2,1074.9 L1815.8,1072.7 L1815.6,1070.4 L1815.5,1068.2 L1815.3,1066.0 L1815.0,1063.7 L1814.7,1061.4 L1814.5,1058.9 L1814.7,1056.4 L1815.4,1054.1 L1816.6,1052.1 L1818.4,1050.5 L1820.3,1049.3 L1822.1,1048.2 L1823.8,1046.9 L1825.2,1045.5 L1826.6,1043.7 L1828.0,1041.9 L1829.6,1040.2 L1831.5,1038.8 L1833.6,1038.0 L1835.8,1037.6 L1838.0,1037.5 L1840.2,1037.7 L1842.4,1038.1 L1844.5,1038.6 L1846.6,1039.5 L1848.5,1040.8 L1850.1,1042.4 L1851.6,1044.2 L1852.9,1046.1 L1854.2,1047.8 L1855.7,1049.3 L1857.4,1050.8 L1859.1,1052.3 L1860.7,1054.1 L1861.9,1056.2 L1862.5,1058.6 L1862.4,1061.2 L1861.9,1063.7Z" fill="#8a3aa8" filter="url(#nucmot)" opacity="0.9"/>
<path d="M1826.0,1062.2 Q1835.9,1065.0 1847.0,1077.7 M1835.3,1055.7 Q1837.9,1063.3 1839.0,1079.9 M1849.2,1053.9 Q1840.6,1061.1 1834.2,1067.6" fill="none" stroke="#c98cc6" stroke-width="2.2" stroke-linecap="round" opacity="0.75" filter="url(#cellsoft)"/>
<rect x="1856.4" y="843.4" width="262.4" height="261.0" filter="url(#grain3)" style="mix-blend-mode:overlay" opacity="0.25"/>
</g>
<text x="19.5" y="1249.0" font-size="44" font-weight="bold">g</text>
<line x1="1513.2" y1="1235.3" x2="1578.7" y2="1235.3" stroke="#9a9a9a" stroke-width="3.8"/>
<line x1="1718" y1="1235.3" x2="1783.8" y2="1235.3" stroke="#5b93d0" stroke-width="3.8"/>
<line x1="1875.6" y1="1235.3" x2="1940.4" y2="1235.3" stroke="#dd2228" stroke-width="3.8"/>
<text x="1587.0" y="1248.0" font-size="28.3">Isotype</text>
<text x="1797.5" y="1248.0" font-size="28.3">WT</text>
<text x="1946.5" y="1248.0" font-size="28.3">XKR8 KO</text>
<path d="M31.40,1499.07 L44.51,1498.72 L46.26,1492.59 L48.01,1475.08 L49.76,1440.07 L51.51,1405.06 L53.26,1361.29 L55.01,1317.52 L56.41,1291.26 L58.17,1283.38 L59.92,1287.76 L62.02,1317.52 L63.77,1352.54 L65.52,1387.55 L67.27,1422.56 L69.89,1457.58 L72.52,1478.59 L76.02,1490.84 L81.27,1496.09 L90.03,1498.19 L97.03,1498.89 L259.50,1499.07Z" fill="#d4d4d4" stroke="#8a8a8a" stroke-width="1.3"/>
<path d="M31.40,1499.07 L154.80,1499.07 L160.06,1495.22 L165.31,1482.09 L168.81,1462.83 L171.96,1436.57 L174.41,1401.55 L177.04,1359.54 L179.66,1322.77 L182.82,1294.76 L185.44,1286.01 L187.72,1296.51 L189.82,1322.77 L192.44,1361.29 L195.07,1401.55 L197.70,1436.57 L201.20,1462.83 L205.57,1483.84 L209.95,1496.09 L214.33,1499.07 L259.50,1499.07" fill="none" stroke="#4a86c8" stroke-width="1.7"/>
<path d="M31.40,1499.07 L154.80,1499.07 L160.06,1496.09 L165.31,1483.84 L168.81,1466.33 L172.31,1440.07 L174.94,1405.06 L177.56,1361.29 L180.19,1326.27 L182.82,1300.01 L186.32,1284.26 L188.94,1291.26 L191.57,1317.52 L194.19,1352.54 L196.82,1396.30 L199.45,1431.32 L202.07,1457.58 L205.57,1478.59 L210.83,1492.59 L216.95,1499.07 L259.50,1499.07" fill="none" stroke="#e0242c" stroke-width="1.7"/>
<rect x="31.4" y="1272.4" width="228.1" height="227.2" fill="none" stroke="#333" stroke-width="1.2"/>
<line x1="31.4" y1="1499.6" x2="259.5" y2="1499.6" stroke="#222" stroke-width="1.8"/>
<g stroke="#111"><line x1="25.2" y1="1282.5" x2="31.4" y2="1282.5" stroke-width="2"/><line x1="25.2" y1="1325.8" x2="31.4" y2="1325.8" stroke-width="2"/><line x1="25.2" y1="1369.1" x2="31.4" y2="1369.1" stroke-width="2"/><line x1="25.2" y1="1412.4" x2="31.4" y2="1412.4" stroke-width="2"/><line x1="25.2" y1="1455.7" x2="31.4" y2="1455.7" stroke-width="2"/><line x1="25.2" y1="1499.0" x2="31.4" y2="1499.0" stroke-width="2"/><line x1="28.1" y1="1293.3" x2="31.4" y2="1293.3" stroke-width="1.3"/><line x1="28.1" y1="1304.2" x2="31.4" y2="1304.2" stroke-width="1.3"/><line x1="28.1" y1="1315.0" x2="31.4" y2="1315.0" stroke-width="1.3"/><line x1="28.1" y1="1336.6" x2="31.4" y2="1336.6" stroke-width="1.3"/><line x1="28.1" y1="1347.5" x2="31.4" y2="1347.5" stroke-width="1.3"/><line x1="28.1" y1="1358.3" x2="31.4" y2="1358.3" stroke-width="1.3"/><line x1="28.1" y1="1379.9" x2="31.4" y2="1379.9" stroke-width="1.3"/><line x1="28.1" y1="1390.8" x2="31.4" y2="1390.8" stroke-width="1.3"/><line x1="28.1" y1="1401.6" x2="31.4" y2="1401.6" stroke-width="1.3"/><line x1="28.1" y1="1423.2" x2="31.4" y2="1423.2" stroke-width="1.3"/><line x1="28.1" y1="1434.0" x2="31.4" y2="1434.0" stroke-width="1.3"/><line x1="28.1" y1="1444.9" x2="31.4" y2="1444.9" stroke-width="1.3"/><line x1="28.1" y1="1466.5" x2="31.4" y2="1466.5" stroke-width="1.3"/><line x1="28.1" y1="1477.3" x2="31.4" y2="1477.3" stroke-width="1.3"/><line x1="28.1" y1="1488.2" x2="31.4" y2="1488.2" stroke-width="1.3"/><line x1="36.6" y1="1499.6" x2="36.6" y2="1506.1" stroke-width="2"/><line x1="57.2" y1="1499.6" x2="57.2" y2="1506.1" stroke-width="2"/><line x1="38.9" y1="1499.6" x2="38.9" y2="1502.8" stroke-width="1.2"/><line x1="41.2" y1="1499.6" x2="41.2" y2="1502.8" stroke-width="1.2"/><line x1="43.5" y1="1499.6" x2="43.5" y2="1502.8" stroke-width="1.2"/><line x1="45.8" y1="1499.6" x2="45.8" y2="1502.8" stroke-width="1.2"/><line x1="48.0" y1="1499.6" x2="48.0" y2="1502.8" stroke-width="1.2"/><line x1="50.3" y1="1499.6" x2="50.3" y2="1502.8" stroke-width="1.2"/><line x1="52.6" y1="1499.6" x2="52.6" y2="1502.8" stroke-width="1.2"/><line x1="54.9" y1="1499.6" x2="54.9" y2="1502.8" stroke-width="1.2"/><line x1="60.7" y1="1499.6" x2="60.7" y2="1502.8" stroke-width="1.2"/><line x1="64.1" y1="1499.6" x2="64.1" y2="1502.8" stroke-width="1.2"/><line x1="67.6" y1="1499.6" x2="67.6" y2="1502.8" stroke-width="1.2"/><line x1="71.1" y1="1499.6" x2="71.1" y2="1502.8" stroke-width="1.2"/><line x1="74.5" y1="1499.6" x2="74.5" y2="1502.8" stroke-width="1.2"/><line x1="78.0" y1="1499.6" x2="78.0" y2="1506.1" stroke-width="2"/><line x1="132.0" y1="1499.6" x2="132.0" y2="1506.1" stroke-width="2"/><line x1="184.6" y1="1499.6" x2="184.6" y2="1506.1" stroke-width="2"/><line x1="237.0" y1="1499.6" x2="237.0" y2="1506.1" stroke-width="2"/><line x1="93.8" y1="1499.6" x2="93.8" y2="1502.8" stroke-width="1.2"/><line x1="103.0" y1="1499.6" x2="103.0" y2="1502.8" stroke-width="1.2"/><line x1="109.5" y1="1499.6" x2="109.5" y2="1502.8" stroke-width="1.2"/><line x1="114.6" y1="1499.6" x2="114.6" y2="1502.8" stroke-width="1.2"/><line x1="118.8" y1="1499.6" x2="118.8" y2="1502.8" stroke-width="1.2"/><line x1="122.3" y1="1499.6" x2="122.3" y2="1502.8" stroke-width="1.2"/><line x1="125.3" y1="1499.6" x2="125.3" y2="1502.8" stroke-width="1.2"/><line x1="128.0" y1="1499.6" x2="128.0" y2="1502.8" stroke-width="1.2"/><line x1="147.8" y1="1499.6" x2="147.8" y2="1502.8" stroke-width="1.2"/><line x1="157.0" y1="1499.6" x2="157.0" y2="1502.8" stroke-width="1.2"/><line x1="163.5" y1="1499.6" x2="163.5" y2="1502.8" stroke-width="1.2"/><line x1="168.6" y1="1499.6" x2="168.6" y2="1502.8" stroke-width="1.2"/><line x1="172.8" y1="1499.6" x2="172.8" y2="1502.8" stroke-width="1.2"/><line x1="176.3" y1="1499.6" x2="176.3" y2="1502.8" stroke-width="1.2"/><line x1="179.3" y1="1499.6" x2="179.3" y2="1502.8" stroke-width="1.2"/><line x1="182.0" y1="1499.6" x2="182.0" y2="1502.8" stroke-width="1.2"/><line x1="200.4" y1="1499.6" x2="200.4" y2="1502.8" stroke-width="1.2"/><line x1="209.6" y1="1499.6" x2="209.6" y2="1502.8" stroke-width="1.2"/><line x1="216.1" y1="1499.6" x2="216.1" y2="1502.8" stroke-width="1.2"/><line x1="221.2" y1="1499.6" x2="221.2" y2="1502.8" stroke-width="1.2"/><line x1="225.4" y1="1499.6" x2="225.4" y2="1502.8" stroke-width="1.2"/><line x1="228.9" y1="1499.6" x2="228.9" y2="1502.8" stroke-width="1.2"/><line x1="231.9" y1="1499.6" x2="231.9" y2="1502.8" stroke-width="1.2"/><line x1="234.6" y1="1499.6" x2="234.6" y2="1502.8" stroke-width="1.2"/><line x1="252.8" y1="1499.6" x2="252.8" y2="1502.8" stroke-width="1.2"/></g>
<text x="57.2" y="1528.6" font-size="23" text-anchor="middle">0</text>
<text x="119.5" y="1528.6" font-size="23">10<tspan font-size="14" dy="-8.5">3</tspan></text>
<text x="172.1" y="1528.6" font-size="23">10<tspan font-size="14" dy="-8.5">4</tspan></text>
<text x="224.5" y="1528.6" font-size="23">10<tspan font-size="14" dy="-8.5">5</tspan></text>
<text x="32.2" y="1563.8" font-size="29.5">CD44-APC</text>
<path d="M269.63,1499.07 L284.51,1498.72 L288.01,1490.84 L290.64,1475.08 L292.39,1448.82 L293.79,1413.81 L295.01,1370.04 L296.24,1326.27 L297.64,1286.88 L299.04,1317.52 L300.27,1361.29 L301.49,1405.06 L302.89,1440.07 L304.64,1466.33 L307.27,1485.59 L310.77,1495.22 L317.77,1498.72 L497.57,1499.07Z" fill="#d4d4d4" stroke="#8a8a8a" stroke-width="1.3"/>
<path d="M269.63,1499.07 L354.54,1499.07 L359.79,1496.09 L365.04,1487.34 L369.42,1471.58 L372.92,1448.82 L375.55,1422.56 L378.17,1387.55 L380.80,1343.78 L382.90,1308.77 L384.82,1294.76 L386.40,1303.52 L388.68,1300.01 L390.43,1289.51 L392.18,1294.76 L393.93,1293.01 L395.68,1289.51 L396.55,1286.01 L398.31,1305.27 L400.06,1324.52 L401.46,1317.52 L402.68,1326.27 L404.43,1338.53 L406.18,1370.04 L408.81,1405.06 L411.44,1433.07 L414.06,1450.57 L417.56,1466.33 L422.82,1482.09 L429.82,1490.84 L436.82,1494.34 L443.82,1497.84 L452.58,1499.07 L497.57,1499.07" fill="none" stroke="#4a86c8" stroke-width="1.7"/>
<path d="M269.63,1499.07 L349.29,1499.07 L355.41,1496.09 L359.79,1489.09 L365.04,1471.58 L370.29,1440.07 L373.80,1405.06 L376.42,1370.04 L379.05,1335.03 L381.67,1308.77 L383.42,1291.26 L384.82,1281.63 L386.40,1296.51 L387.80,1314.02 L389.20,1307.02 L390.43,1300.01 L392.18,1308.77 L393.93,1307.02 L395.68,1301.76 L396.90,1307.02 L398.31,1317.52 L399.18,1338.53 L400.06,1349.03 L401.81,1356.04 L403.56,1378.80 L405.31,1405.06 L407.93,1431.32 L410.56,1450.57 L414.06,1466.33 L419.31,1482.09 L426.32,1490.84 L433.32,1494.34 L440.32,1497.84 L449.08,1499.07 L497.57,1499.07" fill="none" stroke="#e0242c" stroke-width="1.7"/>
<rect x="269.6" y="1272.4" width="228.0" height="227.2" fill="none" stroke="#333" stroke-width="1.2"/>
<line x1="269.6" y1="1499.6" x2="497.6" y2="1499.6" stroke="#222" stroke-width="1.8"/>
<g stroke="#111"><line x1="263.4" y1="1282.5" x2="269.6" y2="1282.5" stroke-width="2"/><line x1="263.4" y1="1325.8" x2="269.6" y2="1325.8" stroke-width="2"/><line x1="263.4" y1="1369.1" x2="269.6" y2="1369.1" stroke-width="2"/><line x1="263.4" y1="1412.4" x2="269.6" y2="1412.4" stroke-width="2"/><line x1="263.4" y1="1455.7" x2="269.6" y2="1455.7" stroke-width="2"/><line x1="263.4" y1="1499.0" x2="269.6" y2="1499.0" stroke-width="2"/><line x1="266.3" y1="1293.3" x2="269.6" y2="1293.3" stroke-width="1.3"/><line x1="266.3" y1="1304.2" x2="269.6" y2="1304.2" stroke-width="1.3"/><line x1="266.3" y1="1315.0" x2="269.6" y2="1315.0" stroke-width="1.3"/><line x1="266.3" y1="1336.6" x2="269.6" y2="1336.6" stroke-width="1.3"/><line x1="266.3" y1="1347.5" x2="269.6" y2="1347.5" stroke-width="1.3"/><line x1="266.3" y1="1358.3" x2="269.6" y2="1358.3" stroke-width="1.3"/><line x1="266.3" y1="1379.9" x2="269.6" y2="1379.9" stroke-width="1.3"/><line x1="266.3" y1="1390.8" x2="269.6" y2="1390.8" stroke-width="1.3"/><line x1="266.3" y1="1401.6" x2="269.6" y2="1401.6" stroke-width="1.3"/><line x1="266.3" y1="1423.2" x2="269.6" y2="1423.2" stroke-width="1.3"/><line x1="266.3" y1="1434.0" x2="269.6" y2="1434.0" stroke-width="1.3"/><line x1="266.3" y1="1444.9" x2="269.6" y2="1444.9" stroke-width="1.3"/><line x1="266.3" y1="1466.5" x2="269.6" y2="1466.5" stroke-width="1.3"/><line x1="266.3" y1="1477.3" x2="269.6" y2="1477.3" stroke-width="1.3"/><line x1="266.3" y1="1488.2" x2="269.6" y2="1488.2" stroke-width="1.3"/><line x1="275.8" y1="1499.6" x2="275.8" y2="1506.1" stroke-width="2"/><line x1="297.6" y1="1499.6" x2="297.6" y2="1506.1" stroke-width="2"/><line x1="278.2" y1="1499.6" x2="278.2" y2="1502.8" stroke-width="1.2"/><line x1="280.6" y1="1499.6" x2="280.6" y2="1502.8" stroke-width="1.2"/><line x1="283.1" y1="1499.6" x2="283.1" y2="1502.8" stroke-width="1.2"/><line x1="285.5" y1="1499.6" x2="285.5" y2="1502.8" stroke-width="1.2"/><line x1="287.9" y1="1499.6" x2="287.9" y2="1502.8" stroke-width="1.2"/><line x1="290.3" y1="1499.6" x2="290.3" y2="1502.8" stroke-width="1.2"/><line x1="292.8" y1="1499.6" x2="292.8" y2="1502.8" stroke-width="1.2"/><line x1="295.2" y1="1499.6" x2="295.2" y2="1502.8" stroke-width="1.2"/><line x1="301.6" y1="1499.6" x2="301.6" y2="1502.8" stroke-width="1.2"/><line x1="305.5" y1="1499.6" x2="305.5" y2="1502.8" stroke-width="1.2"/><line x1="309.5" y1="1499.6" x2="309.5" y2="1502.8" stroke-width="1.2"/><line x1="313.4" y1="1499.6" x2="313.4" y2="1502.8" stroke-width="1.2"/><line x1="317.4" y1="1499.6" x2="317.4" y2="1502.8" stroke-width="1.2"/><line x1="321.3" y1="1499.6" x2="321.3" y2="1506.1" stroke-width="2"/><line x1="383.4" y1="1499.6" x2="383.4" y2="1506.1" stroke-width="2"/><line x1="443.3" y1="1499.6" x2="443.3" y2="1506.1" stroke-width="2"/><line x1="339.3" y1="1499.6" x2="339.3" y2="1502.8" stroke-width="1.2"/><line x1="349.9" y1="1499.6" x2="349.9" y2="1502.8" stroke-width="1.2"/><line x1="357.4" y1="1499.6" x2="357.4" y2="1502.8" stroke-width="1.2"/><line x1="363.2" y1="1499.6" x2="363.2" y2="1502.8" stroke-width="1.2"/><line x1="367.9" y1="1499.6" x2="367.9" y2="1502.8" stroke-width="1.2"/><line x1="371.9" y1="1499.6" x2="371.9" y2="1502.8" stroke-width="1.2"/><line x1="375.4" y1="1499.6" x2="375.4" y2="1502.8" stroke-width="1.2"/><line x1="378.5" y1="1499.6" x2="378.5" y2="1502.8" stroke-width="1.2"/><line x1="401.4" y1="1499.6" x2="401.4" y2="1502.8" stroke-width="1.2"/><line x1="412.0" y1="1499.6" x2="412.0" y2="1502.8" stroke-width="1.2"/><line x1="419.5" y1="1499.6" x2="419.5" y2="1502.8" stroke-width="1.2"/><line x1="425.3" y1="1499.6" x2="425.3" y2="1502.8" stroke-width="1.2"/><line x1="430.0" y1="1499.6" x2="430.0" y2="1502.8" stroke-width="1.2"/><line x1="434.0" y1="1499.6" x2="434.0" y2="1502.8" stroke-width="1.2"/><line x1="437.5" y1="1499.6" x2="437.5" y2="1502.8" stroke-width="1.2"/><line x1="440.6" y1="1499.6" x2="440.6" y2="1502.8" stroke-width="1.2"/><line x1="461.3" y1="1499.6" x2="461.3" y2="1502.8" stroke-width="1.2"/><line x1="471.9" y1="1499.6" x2="471.9" y2="1502.8" stroke-width="1.2"/><line x1="479.4" y1="1499.6" x2="479.4" y2="1502.8" stroke-width="1.2"/><line x1="485.2" y1="1499.6" x2="485.2" y2="1502.8" stroke-width="1.2"/><line x1="489.9" y1="1499.6" x2="489.9" y2="1502.8" stroke-width="1.2"/><line x1="493.9" y1="1499.6" x2="493.9" y2="1502.8" stroke-width="1.2"/></g>
<text x="297.6" y="1528.6" font-size="23" text-anchor="middle">0</text>
<text x="370.9" y="1528.6" font-size="23">10<tspan font-size="14" dy="-8.5">3</tspan></text>
<text x="430.8" y="1528.6" font-size="23">10<tspan font-size="14" dy="-8.5">4</tspan></text>
<text x="270.4" y="1563.8" font-size="29.5">CD11a-PECy7</text>
<path d="M508.40,1499.07 L518.01,1498.72 L521.51,1492.59 L525.01,1475.08 L528.51,1443.57 L531.14,1405.06 L532.89,1370.04 L534.64,1326.27 L536.39,1296.51 L537.79,1283.38 L539.54,1289.51 L540.77,1317.52 L542.17,1352.54 L543.92,1387.55 L546.02,1422.56 L548.65,1448.82 L552.15,1469.83 L556.52,1483.84 L561.78,1492.59 L567.03,1496.09 L575.78,1497.84 L588.04,1498.72 L735.40,1499.07Z" fill="#d4d4d4" stroke="#8a8a8a" stroke-width="1.3"/>
<path d="M508.40,1499.07 L532.01,1497.84 L549.52,1497.49 L567.03,1496.09 L579.28,1494.34 L588.04,1492.59 L592.41,1489.96 L596.79,1485.59 L602.04,1478.59 L605.54,1471.58 L609.04,1457.58 L612.55,1440.07 L616.05,1422.56 L618.67,1405.06 L620.42,1396.30 L622.18,1378.80 L623.93,1370.04 L626.55,1352.54 L628.30,1340.28 L629.18,1335.03 L630.93,1324.52 L635.31,1293.01 L636.53,1282.51 L637.93,1294.76 L639.68,1296.51 L641.43,1293.01 L638.81,1286.01 L640.56,1287.76 L642.31,1300.01 L644.06,1317.52 L645.81,1343.78 L647.56,1370.04 L649.31,1405.06 L651.06,1440.07 L653.69,1466.33 L657.19,1483.84 L661.57,1492.59 L666.82,1497.84 L672.07,1499.07 L735.40,1499.07" fill="none" stroke="#4a86c8" stroke-width="1.7"/>
<path d="M508.40,1499.07 L532.01,1497.84 L549.52,1497.49 L567.03,1496.09 L579.28,1494.34 L588.04,1492.59 L592.41,1489.96 L596.79,1485.59 L602.04,1478.59 L605.54,1471.58 L609.04,1457.58 L612.55,1440.07 L616.05,1422.56 L618.67,1405.06 L620.42,1396.30 L622.18,1378.80 L623.93,1370.04 L626.55,1352.54 L628.30,1340.28 L629.18,1335.03 L630.93,1324.52 L633.55,1314.02 L635.66,1298.26 L637.06,1289.51 L638.81,1286.01 L640.56,1287.76 L642.31,1300.01 L644.06,1317.52 L645.81,1343.78 L647.56,1370.04 L649.31,1405.06 L651.06,1440.07 L653.69,1466.33 L657.19,1483.84 L661.57,1492.59 L666.82,1497.84 L672.07,1499.07 L735.40,1499.07" fill="none" stroke="#e0242c" stroke-width="1.7"/>
<rect x="508.4" y="1272.4" width="227.0" height="227.2" fill="none" stroke="#333" stroke-width="1.2"/>
<line x1="508.4" y1="1499.6" x2="735.4" y2="1499.6" stroke="#222" stroke-width="1.8"/>
<g stroke="#111"><line x1="502.2" y1="1282.5" x2="508.4" y2="1282.5" stroke-width="2"/><line x1="502.2" y1="1325.8" x2="508.4" y2="1325.8" stroke-width="2"/><line x1="502.2" y1="1369.1" x2="508.4" y2="1369.1" stroke-width="2"/><line x1="502.2" y1="1412.4" x2="508.4" y2="1412.4" stroke-width="2"/><line x1="502.2" y1="1455.7" x2="508.4" y2="1455.7" stroke-width="2"/><line x1="502.2" y1="1499.0" x2="508.4" y2="1499.0" stroke-width="2"/><line x1="505.1" y1="1293.3" x2="508.4" y2="1293.3" stroke-width="1.3"/><line x1="505.1" y1="1304.2" x2="508.4" y2="1304.2" stroke-width="1.3"/><line x1="505.1" y1="1315.0" x2="508.4" y2="1315.0" stroke-width="1.3"/><line x1="505.1" y1="1336.6" x2="508.4" y2="1336.6" stroke-width="1.3"/><line x1="505.1" y1="1347.5" x2="508.4" y2="1347.5" stroke-width="1.3"/><line x1="505.1" y1="1358.3" x2="508.4" y2="1358.3" stroke-width="1.3"/><line x1="505.1" y1="1379.9" x2="508.4" y2="1379.9" stroke-width="1.3"/><line x1="505.1" y1="1390.8" x2="508.4" y2="1390.8" stroke-width="1.3"/><line x1="505.1" y1="1401.6" x2="508.4" y2="1401.6" stroke-width="1.3"/><line x1="505.1" y1="1423.2" x2="508.4" y2="1423.2" stroke-width="1.3"/><line x1="505.1" y1="1434.0" x2="508.4" y2="1434.0" stroke-width="1.3"/><line x1="505.1" y1="1444.9" x2="508.4" y2="1444.9" stroke-width="1.3"/><line x1="505.1" y1="1466.5" x2="508.4" y2="1466.5" stroke-width="1.3"/><line x1="505.1" y1="1477.3" x2="508.4" y2="1477.3" stroke-width="1.3"/><line x1="505.1" y1="1488.2" x2="508.4" y2="1488.2" stroke-width="1.3"/><line x1="512.8" y1="1499.6" x2="512.8" y2="1506.1" stroke-width="2"/><line x1="533.8" y1="1499.6" x2="533.8" y2="1506.1" stroke-width="2"/><line x1="515.1" y1="1499.6" x2="515.1" y2="1502.8" stroke-width="1.2"/><line x1="517.5" y1="1499.6" x2="517.5" y2="1502.8" stroke-width="1.2"/><line x1="519.8" y1="1499.6" x2="519.8" y2="1502.8" stroke-width="1.2"/><line x1="522.1" y1="1499.6" x2="522.1" y2="1502.8" stroke-width="1.2"/><line x1="524.5" y1="1499.6" x2="524.5" y2="1502.8" stroke-width="1.2"/><line x1="526.8" y1="1499.6" x2="526.8" y2="1502.8" stroke-width="1.2"/><line x1="529.1" y1="1499.6" x2="529.1" y2="1502.8" stroke-width="1.2"/><line x1="531.5" y1="1499.6" x2="531.5" y2="1502.8" stroke-width="1.2"/><line x1="537.1" y1="1499.6" x2="537.1" y2="1502.8" stroke-width="1.2"/><line x1="540.5" y1="1499.6" x2="540.5" y2="1502.8" stroke-width="1.2"/><line x1="543.8" y1="1499.6" x2="543.8" y2="1502.8" stroke-width="1.2"/><line x1="547.2" y1="1499.6" x2="547.2" y2="1502.8" stroke-width="1.2"/><line x1="550.5" y1="1499.6" x2="550.5" y2="1502.8" stroke-width="1.2"/><line x1="553.9" y1="1499.6" x2="553.9" y2="1506.1" stroke-width="2"/><line x1="608.2" y1="1499.6" x2="608.2" y2="1506.1" stroke-width="2"/><line x1="661.6" y1="1499.6" x2="661.6" y2="1506.1" stroke-width="2"/><line x1="714.0" y1="1499.6" x2="714.0" y2="1506.1" stroke-width="2"/><line x1="569.7" y1="1499.6" x2="569.7" y2="1502.8" stroke-width="1.2"/><line x1="578.9" y1="1499.6" x2="578.9" y2="1502.8" stroke-width="1.2"/><line x1="585.4" y1="1499.6" x2="585.4" y2="1502.8" stroke-width="1.2"/><line x1="590.5" y1="1499.6" x2="590.5" y2="1502.8" stroke-width="1.2"/><line x1="594.7" y1="1499.6" x2="594.7" y2="1502.8" stroke-width="1.2"/><line x1="598.2" y1="1499.6" x2="598.2" y2="1502.8" stroke-width="1.2"/><line x1="601.2" y1="1499.6" x2="601.2" y2="1502.8" stroke-width="1.2"/><line x1="603.9" y1="1499.6" x2="603.9" y2="1502.8" stroke-width="1.2"/><line x1="624.0" y1="1499.6" x2="624.0" y2="1502.8" stroke-width="1.2"/><line x1="633.2" y1="1499.6" x2="633.2" y2="1502.8" stroke-width="1.2"/><line x1="639.7" y1="1499.6" x2="639.7" y2="1502.8" stroke-width="1.2"/><line x1="644.8" y1="1499.6" x2="644.8" y2="1502.8" stroke-width="1.2"/><line x1="649.0" y1="1499.6" x2="649.0" y2="1502.8" stroke-width="1.2"/><line x1="652.5" y1="1499.6" x2="652.5" y2="1502.8" stroke-width="1.2"/><line x1="655.5" y1="1499.6" x2="655.5" y2="1502.8" stroke-width="1.2"/><line x1="658.2" y1="1499.6" x2="658.2" y2="1502.8" stroke-width="1.2"/><line x1="677.4" y1="1499.6" x2="677.4" y2="1502.8" stroke-width="1.2"/><line x1="686.6" y1="1499.6" x2="686.6" y2="1502.8" stroke-width="1.2"/><line x1="693.1" y1="1499.6" x2="693.1" y2="1502.8" stroke-width="1.2"/><line x1="698.2" y1="1499.6" x2="698.2" y2="1502.8" stroke-width="1.2"/><line x1="702.4" y1="1499.6" x2="702.4" y2="1502.8" stroke-width="1.2"/><line x1="705.9" y1="1499.6" x2="705.9" y2="1502.8" stroke-width="1.2"/><line x1="708.9" y1="1499.6" x2="708.9" y2="1502.8" stroke-width="1.2"/><line x1="711.6" y1="1499.6" x2="711.6" y2="1502.8" stroke-width="1.2"/><line x1="729.8" y1="1499.6" x2="729.8" y2="1502.8" stroke-width="1.2"/></g>
<text x="533.8" y="1528.6" font-size="23" text-anchor="middle">0</text>
<text x="595.7" y="1528.6" font-size="23">10<tspan font-size="14" dy="-8.5">3</tspan></text>
<text x="649.1" y="1528.6" font-size="23">10<tspan font-size="14" dy="-8.5">4</tspan></text>
<text x="701.5" y="1528.6" font-size="23">10<tspan font-size="14" dy="-8.5">5</tspan></text>
<text x="509.2" y="1563.8" font-size="29.5">CD62L-BV605</text>
<path d="M746.40,1499.07 L759.51,1498.72 L763.01,1489.09 L765.64,1466.33 L767.39,1431.32 L768.79,1387.55 L770.01,1343.78 L771.24,1308.77 L772.11,1284.61 L773.17,1300.01 L774.39,1335.03 L775.62,1378.80 L777.02,1413.81 L778.77,1448.82 L780.87,1471.58 L784.02,1487.34 L787.52,1495.22 L792.77,1498.72 L973.40,1499.07Z" fill="#d4d4d4" stroke="#8a8a8a" stroke-width="1.3"/>
<path d="M746.40,1499.07 L752.51,1497.84 L757.76,1492.59 L761.26,1483.84 L765.64,1461.08 L770.01,1440.07 L773.52,1419.06 L777.02,1391.05 L780.52,1378.80 L784.02,1366.54 L787.52,1363.04 L790.15,1352.54 L792.77,1349.03 L796.27,1363.04 L799.78,1352.54 L802.40,1361.29 L805.03,1359.54 L808.53,1356.04 L812.03,1350.78 L814.66,1345.53 L817.28,1331.53 L820.78,1326.27 L822.54,1324.52 L825.16,1322.77 L826.91,1328.03 L827.79,1308.77 L830.41,1305.27 L833.04,1301.76 L836.54,1300.01 L839.17,1289.51 L841.79,1300.01 L843.54,1308.77 L845.29,1312.27 L847.04,1322.77 L850.55,1352.54 L854.05,1378.80 L857.55,1405.06 L862.80,1448.82 L866.30,1468.08 L869.80,1482.09 L874.18,1492.59 L878.56,1497.84 L883.81,1499.07 L973.40,1499.07" fill="none" stroke="#4a86c8" stroke-width="1.7"/>
<path d="M746.40,1499.07 L752.51,1497.84 L757.76,1492.59 L761.26,1483.84 L765.64,1461.08 L770.01,1440.07 L773.52,1419.06 L776.14,1405.06 L777.89,1378.80 L778.77,1370.04 L781.39,1364.79 L784.02,1352.54 L787.52,1342.03 L791.02,1340.28 L796.27,1336.78 L798.03,1349.03 L801.53,1340.28 L805.03,1342.03 L808.53,1338.53 L812.03,1336.78 L815.53,1329.78 L817.28,1326.27 L819.91,1321.02 L822.54,1319.27 L824.29,1308.77 L826.04,1293.01 L827.79,1298.26 L829.54,1300.01 L833.04,1294.76 L836.54,1289.51 L838.29,1300.01 L840.04,1310.52 L844.42,1331.53 L847.04,1349.03 L848.80,1366.54 L852.30,1396.30 L855.80,1422.56 L861.05,1448.82 L864.55,1466.33 L868.05,1480.34 L871.55,1489.09 L875.06,1494.34 L880.31,1498.72 L973.40,1499.07" fill="none" stroke="#e0242c" stroke-width="1.7"/>
<rect x="746.4" y="1272.4" width="227.0" height="227.2" fill="none" stroke="#333" stroke-width="1.2"/>
<line x1="746.4" y1="1499.6" x2="973.4" y2="1499.6" stroke="#222" stroke-width="1.8"/>
<g stroke="#111"><line x1="740.2" y1="1282.5" x2="746.4" y2="1282.5" stroke-width="2"/><line x1="740.2" y1="1325.8" x2="746.4" y2="1325.8" stroke-width="2"/><line x1="740.2" y1="1369.1" x2="746.4" y2="1369.1" stroke-width="2"/><line x1="740.2" y1="1412.4" x2="746.4" y2="1412.4" stroke-width="2"/><line x1="740.2" y1="1455.7" x2="746.4" y2="1455.7" stroke-width="2"/><line x1="740.2" y1="1499.0" x2="746.4" y2="1499.0" stroke-width="2"/><line x1="743.1" y1="1293.3" x2="746.4" y2="1293.3" stroke-width="1.3"/><line x1="743.1" y1="1304.2" x2="746.4" y2="1304.2" stroke-width="1.3"/><line x1="743.1" y1="1315.0" x2="746.4" y2="1315.0" stroke-width="1.3"/><line x1="743.1" y1="1336.6" x2="746.4" y2="1336.6" stroke-width="1.3"/><line x1="743.1" y1="1347.5" x2="746.4" y2="1347.5" stroke-width="1.3"/><line x1="743.1" y1="1358.3" x2="746.4" y2="1358.3" stroke-width="1.3"/><line x1="743.1" y1="1379.9" x2="746.4" y2="1379.9" stroke-width="1.3"/><line x1="743.1" y1="1390.8" x2="746.4" y2="1390.8" stroke-width="1.3"/><line x1="743.1" y1="1401.6" x2="746.4" y2="1401.6" stroke-width="1.3"/><line x1="743.1" y1="1423.2" x2="746.4" y2="1423.2" stroke-width="1.3"/><line x1="743.1" y1="1434.0" x2="746.4" y2="1434.0" stroke-width="1.3"/><line x1="743.1" y1="1444.9" x2="746.4" y2="1444.9" stroke-width="1.3"/><line x1="743.1" y1="1466.5" x2="746.4" y2="1466.5" stroke-width="1.3"/><line x1="743.1" y1="1477.3" x2="746.4" y2="1477.3" stroke-width="1.3"/><line x1="743.1" y1="1488.2" x2="746.4" y2="1488.2" stroke-width="1.3"/><line x1="752.2" y1="1499.6" x2="752.2" y2="1506.1" stroke-width="2"/><line x1="774.9" y1="1499.6" x2="774.9" y2="1506.1" stroke-width="2"/><line x1="754.7" y1="1499.6" x2="754.7" y2="1502.8" stroke-width="1.2"/><line x1="757.2" y1="1499.6" x2="757.2" y2="1502.8" stroke-width="1.2"/><line x1="759.8" y1="1499.6" x2="759.8" y2="1502.8" stroke-width="1.2"/><line x1="762.3" y1="1499.6" x2="762.3" y2="1502.8" stroke-width="1.2"/><line x1="764.8" y1="1499.6" x2="764.8" y2="1502.8" stroke-width="1.2"/><line x1="767.3" y1="1499.6" x2="767.3" y2="1502.8" stroke-width="1.2"/><line x1="769.9" y1="1499.6" x2="769.9" y2="1502.8" stroke-width="1.2"/><line x1="772.4" y1="1499.6" x2="772.4" y2="1502.8" stroke-width="1.2"/><line x1="778.8" y1="1499.6" x2="778.8" y2="1502.8" stroke-width="1.2"/><line x1="782.6" y1="1499.6" x2="782.6" y2="1502.8" stroke-width="1.2"/><line x1="786.5" y1="1499.6" x2="786.5" y2="1502.8" stroke-width="1.2"/><line x1="790.3" y1="1499.6" x2="790.3" y2="1502.8" stroke-width="1.2"/><line x1="794.1" y1="1499.6" x2="794.1" y2="1502.8" stroke-width="1.2"/><line x1="798.0" y1="1499.6" x2="798.0" y2="1506.1" stroke-width="2"/><line x1="859.3" y1="1499.6" x2="859.3" y2="1506.1" stroke-width="2"/><line x1="919.7" y1="1499.6" x2="919.7" y2="1506.1" stroke-width="2"/><line x1="816.2" y1="1499.6" x2="816.2" y2="1502.8" stroke-width="1.2"/><line x1="826.8" y1="1499.6" x2="826.8" y2="1502.8" stroke-width="1.2"/><line x1="834.4" y1="1499.6" x2="834.4" y2="1502.8" stroke-width="1.2"/><line x1="840.2" y1="1499.6" x2="840.2" y2="1502.8" stroke-width="1.2"/><line x1="845.0" y1="1499.6" x2="845.0" y2="1502.8" stroke-width="1.2"/><line x1="849.0" y1="1499.6" x2="849.0" y2="1502.8" stroke-width="1.2"/><line x1="852.5" y1="1499.6" x2="852.5" y2="1502.8" stroke-width="1.2"/><line x1="855.6" y1="1499.6" x2="855.6" y2="1502.8" stroke-width="1.2"/><line x1="877.5" y1="1499.6" x2="877.5" y2="1502.8" stroke-width="1.2"/><line x1="888.1" y1="1499.6" x2="888.1" y2="1502.8" stroke-width="1.2"/><line x1="895.7" y1="1499.6" x2="895.7" y2="1502.8" stroke-width="1.2"/><line x1="901.5" y1="1499.6" x2="901.5" y2="1502.8" stroke-width="1.2"/><line x1="906.3" y1="1499.6" x2="906.3" y2="1502.8" stroke-width="1.2"/><line x1="910.3" y1="1499.6" x2="910.3" y2="1502.8" stroke-width="1.2"/><line x1="913.8" y1="1499.6" x2="913.8" y2="1502.8" stroke-width="1.2"/><line x1="916.9" y1="1499.6" x2="916.9" y2="1502.8" stroke-width="1.2"/><line x1="937.9" y1="1499.6" x2="937.9" y2="1502.8" stroke-width="1.2"/><line x1="948.5" y1="1499.6" x2="948.5" y2="1502.8" stroke-width="1.2"/><line x1="956.1" y1="1499.6" x2="956.1" y2="1502.8" stroke-width="1.2"/><line x1="961.9" y1="1499.6" x2="961.9" y2="1502.8" stroke-width="1.2"/><line x1="966.7" y1="1499.6" x2="966.7" y2="1502.8" stroke-width="1.2"/><line x1="970.7" y1="1499.6" x2="970.7" y2="1502.8" stroke-width="1.2"/></g>
<text x="774.9" y="1528.6" font-size="23" text-anchor="middle">0</text>
<text x="846.8" y="1528.6" font-size="23">10<tspan font-size="14" dy="-8.5">3</tspan></text>
<text x="907.2" y="1528.6" font-size="23">10<tspan font-size="14" dy="-8.5">4</tspan></text>
<text x="747.2" y="1563.8" font-size="29.5">CXCR2-PE</text>
<path d="M984.40,1499.07 L990.51,1498.72 L994.01,1492.59 L997.51,1475.08 L1001.01,1440.07 L1003.64,1387.55 L1006.26,1326.27 L1008.01,1296.51 L1009.76,1283.38 L1011.52,1291.26 L1013.62,1326.27 L1015.89,1370.04 L1018.17,1413.81 L1020.27,1448.82 L1022.89,1475.08 L1026.40,1489.09 L1030.77,1496.09 L1039.53,1498.72 L1212.30,1499.07Z" fill="#d4d4d4" stroke="#8a8a8a" stroke-width="1.3"/>
<path d="M984.40,1499.07 L992.26,1494.34 L995.76,1483.84 L999.26,1466.33 L1001.89,1440.07 L1004.51,1405.06 L1007.14,1370.04 L1009.76,1335.03 L1012.39,1308.77 L1015.02,1294.76 L1016.77,1293.01 L1018.52,1294.76 L1020.27,1305.27 L1022.02,1317.52 L1024.65,1343.78 L1027.27,1359.54 L1029.90,1377.04 L1033.40,1398.05 L1036.90,1419.06 L1039.53,1431.32 L1043.03,1435.69 L1048.28,1447.07 L1051.78,1447.07 L1055.28,1441.82 L1057.03,1440.07 L1060.54,1445.32 L1064.04,1440.07 L1067.54,1436.57 L1071.04,1434.82 L1074.54,1431.32 L1078.04,1424.31 L1080.67,1425.19 L1083.29,1431.32 L1085.92,1433.07 L1088.55,1434.82 L1092.05,1427.82 L1094.67,1426.06 L1097.30,1419.06 L1099.93,1426.06 L1102.55,1433.07 L1106.05,1440.07 L1108.68,1438.32 L1111.31,1445.32 L1113.93,1454.08 L1116.56,1466.33 L1120.06,1475.08 L1123.56,1483.84 L1127.06,1490.84 L1130.56,1496.09 L1135.82,1498.72 L1139.32,1499.07 L1212.30,1499.07" fill="none" stroke="#4a86c8" stroke-width="1.7"/>
<path d="M984.40,1499.07 L992.26,1494.34 L995.76,1483.84 L999.26,1466.33 L1001.89,1440.07 L1004.51,1405.06 L1007.14,1370.04 L1009.76,1335.03 L1012.39,1308.77 L1015.02,1285.13 L1016.77,1287.76 L1018.52,1291.26 L1020.27,1303.52 L1022.02,1317.52 L1025.52,1343.78 L1028.15,1361.29 L1030.77,1378.80 L1034.27,1401.55 L1037.78,1422.56 L1040.40,1431.32 L1043.03,1436.57 L1048.28,1445.32 L1051.78,1447.95 L1056.16,1447.07 L1060.54,1443.57 L1064.04,1441.82 L1067.54,1441.82 L1071.04,1438.32 L1074.54,1433.07 L1078.04,1431.32 L1079.79,1429.57 L1082.42,1431.32 L1085.04,1433.07 L1087.67,1435.69 L1090.30,1436.57 L1092.92,1431.32 L1095.55,1426.06 L1098.18,1425.19 L1100.80,1423.44 L1103.43,1431.32 L1106.05,1436.57 L1108.68,1440.07 L1111.31,1445.32 L1113.93,1454.08 L1116.56,1466.33 L1120.06,1475.08 L1123.56,1483.84 L1127.06,1490.84 L1130.56,1496.09 L1135.82,1498.72 L1139.32,1499.07 L1212.30,1499.07" fill="none" stroke="#e0242c" stroke-width="1.7"/>
<rect x="984.4" y="1272.4" width="227.9" height="227.2" fill="none" stroke="#333" stroke-width="1.2"/>
<line x1="984.4" y1="1499.6" x2="1212.3" y2="1499.6" stroke="#222" stroke-width="1.8"/>
<g stroke="#111"><line x1="978.2" y1="1282.5" x2="984.4" y2="1282.5" stroke-width="2"/><line x1="978.2" y1="1325.8" x2="984.4" y2="1325.8" stroke-width="2"/><line x1="978.2" y1="1369.1" x2="984.4" y2="1369.1" stroke-width="2"/><line x1="978.2" y1="1412.4" x2="984.4" y2="1412.4" stroke-width="2"/><line x1="978.2" y1="1455.7" x2="984.4" y2="1455.7" stroke-width="2"/><line x1="978.2" y1="1499.0" x2="984.4" y2="1499.0" stroke-width="2"/><line x1="981.1" y1="1293.3" x2="984.4" y2="1293.3" stroke-width="1.3"/><line x1="981.1" y1="1304.2" x2="984.4" y2="1304.2" stroke-width="1.3"/><line x1="981.1" y1="1315.0" x2="984.4" y2="1315.0" stroke-width="1.3"/><line x1="981.1" y1="1336.6" x2="984.4" y2="1336.6" stroke-width="1.3"/><line x1="981.1" y1="1347.5" x2="984.4" y2="1347.5" stroke-width="1.3"/><line x1="981.1" y1="1358.3" x2="984.4" y2="1358.3" stroke-width="1.3"/><line x1="981.1" y1="1379.9" x2="984.4" y2="1379.9" stroke-width="1.3"/><line x1="981.1" y1="1390.8" x2="984.4" y2="1390.8" stroke-width="1.3"/><line x1="981.1" y1="1401.6" x2="984.4" y2="1401.6" stroke-width="1.3"/><line x1="981.1" y1="1423.2" x2="984.4" y2="1423.2" stroke-width="1.3"/><line x1="981.1" y1="1434.0" x2="984.4" y2="1434.0" stroke-width="1.3"/><line x1="981.1" y1="1444.9" x2="984.4" y2="1444.9" stroke-width="1.3"/><line x1="981.1" y1="1466.5" x2="984.4" y2="1466.5" stroke-width="1.3"/><line x1="981.1" y1="1477.3" x2="984.4" y2="1477.3" stroke-width="1.3"/><line x1="981.1" y1="1488.2" x2="984.4" y2="1488.2" stroke-width="1.3"/><line x1="990.2" y1="1499.6" x2="990.2" y2="1506.1" stroke-width="2"/><line x1="1012.9" y1="1499.6" x2="1012.9" y2="1506.1" stroke-width="2"/><line x1="992.7" y1="1499.6" x2="992.7" y2="1502.8" stroke-width="1.2"/><line x1="995.2" y1="1499.6" x2="995.2" y2="1502.8" stroke-width="1.2"/><line x1="997.8" y1="1499.6" x2="997.8" y2="1502.8" stroke-width="1.2"/><line x1="1000.3" y1="1499.6" x2="1000.3" y2="1502.8" stroke-width="1.2"/><line x1="1002.8" y1="1499.6" x2="1002.8" y2="1502.8" stroke-width="1.2"/><line x1="1005.3" y1="1499.6" x2="1005.3" y2="1502.8" stroke-width="1.2"/><line x1="1007.9" y1="1499.6" x2="1007.9" y2="1502.8" stroke-width="1.2"/><line x1="1010.4" y1="1499.6" x2="1010.4" y2="1502.8" stroke-width="1.2"/><line x1="1016.8" y1="1499.6" x2="1016.8" y2="1502.8" stroke-width="1.2"/><line x1="1020.6" y1="1499.6" x2="1020.6" y2="1502.8" stroke-width="1.2"/><line x1="1024.5" y1="1499.6" x2="1024.5" y2="1502.8" stroke-width="1.2"/><line x1="1028.3" y1="1499.6" x2="1028.3" y2="1502.8" stroke-width="1.2"/><line x1="1032.2" y1="1499.6" x2="1032.2" y2="1502.8" stroke-width="1.2"/><line x1="1036.0" y1="1499.6" x2="1036.0" y2="1506.1" stroke-width="2"/><line x1="1097.3" y1="1499.6" x2="1097.3" y2="1506.1" stroke-width="2"/><line x1="1157.7" y1="1499.6" x2="1157.7" y2="1506.1" stroke-width="2"/><line x1="1054.2" y1="1499.6" x2="1054.2" y2="1502.8" stroke-width="1.2"/><line x1="1064.8" y1="1499.6" x2="1064.8" y2="1502.8" stroke-width="1.2"/><line x1="1072.4" y1="1499.6" x2="1072.4" y2="1502.8" stroke-width="1.2"/><line x1="1078.2" y1="1499.6" x2="1078.2" y2="1502.8" stroke-width="1.2"/><line x1="1083.0" y1="1499.6" x2="1083.0" y2="1502.8" stroke-width="1.2"/><line x1="1087.0" y1="1499.6" x2="1087.0" y2="1502.8" stroke-width="1.2"/><line x1="1090.5" y1="1499.6" x2="1090.5" y2="1502.8" stroke-width="1.2"/><line x1="1093.6" y1="1499.6" x2="1093.6" y2="1502.8" stroke-width="1.2"/><line x1="1115.5" y1="1499.6" x2="1115.5" y2="1502.8" stroke-width="1.2"/><line x1="1126.1" y1="1499.6" x2="1126.1" y2="1502.8" stroke-width="1.2"/><line x1="1133.7" y1="1499.6" x2="1133.7" y2="1502.8" stroke-width="1.2"/><line x1="1139.5" y1="1499.6" x2="1139.5" y2="1502.8" stroke-width="1.2"/><line x1="1144.3" y1="1499.6" x2="1144.3" y2="1502.8" stroke-width="1.2"/><line x1="1148.3" y1="1499.6" x2="1148.3" y2="1502.8" stroke-width="1.2"/><line x1="1151.8" y1="1499.6" x2="1151.8" y2="1502.8" stroke-width="1.2"/><line x1="1154.9" y1="1499.6" x2="1154.9" y2="1502.8" stroke-width="1.2"/><line x1="1175.9" y1="1499.6" x2="1175.9" y2="1502.8" stroke-width="1.2"/><line x1="1186.5" y1="1499.6" x2="1186.5" y2="1502.8" stroke-width="1.2"/><line x1="1194.1" y1="1499.6" x2="1194.1" y2="1502.8" stroke-width="1.2"/><line x1="1199.9" y1="1499.6" x2="1199.9" y2="1502.8" stroke-width="1.2"/><line x1="1204.7" y1="1499.6" x2="1204.7" y2="1502.8" stroke-width="1.2"/><line x1="1208.7" y1="1499.6" x2="1208.7" y2="1502.8" stroke-width="1.2"/></g>
<text x="1012.9" y="1528.6" font-size="23" text-anchor="middle">0</text>
<text x="1084.8" y="1528.6" font-size="23">10<tspan font-size="14" dy="-8.5">3</tspan></text>
<text x="1145.2" y="1528.6" font-size="23">10<tspan font-size="14" dy="-8.5">4</tspan></text>
<text x="985.2" y="1563.8" font-size="29.5">CD101-PE</text>
<path d="M1222.40,1499.07 L1235.51,1498.72 L1237.26,1492.59 L1239.01,1475.08 L1240.76,1440.07 L1242.51,1396.30 L1243.91,1343.78 L1245.49,1300.01 L1246.89,1279.88 L1248.29,1300.01 L1249.52,1343.78 L1250.92,1396.30 L1252.67,1440.07 L1254.77,1471.58 L1257.39,1489.09 L1260.89,1496.09 L1265.27,1498.72 L1450.30,1499.07Z" fill="#d4d4d4" stroke="#8a8a8a" stroke-width="1.3"/>
<path d="M1222.40,1499.07 L1228.51,1498.37 L1233.76,1496.09 L1238.14,1490.84 L1242.51,1480.34 L1246.01,1466.33 L1249.52,1448.82 L1253.02,1431.32 L1256.52,1413.81 L1260.02,1391.05 L1263.52,1370.04 L1267.02,1349.03 L1269.65,1331.53 L1272.27,1317.52 L1274.90,1307.02 L1277.53,1291.26 L1279.28,1294.76 L1281.03,1291.26 L1282.78,1296.51 L1284.53,1298.26 L1286.28,1305.27 L1288.03,1317.52 L1290.66,1331.53 L1293.28,1343.78 L1295.91,1364.79 L1297.66,1380.55 L1300.29,1394.55 L1303.79,1403.31 L1307.29,1413.81 L1309.91,1422.56 L1311.67,1420.81 L1313.42,1427.82 L1316.04,1433.07 L1318.67,1438.32 L1321.29,1443.57 L1323.92,1450.57 L1326.55,1466.33 L1330.05,1476.83 L1333.55,1483.84 L1337.05,1489.09 L1341.43,1493.47 L1346.68,1496.97 L1354.56,1498.72 L1363.31,1499.07 L1450.30,1499.07" fill="none" stroke="#4a86c8" stroke-width="1.7"/>
<path d="M1222.40,1499.07 L1228.51,1498.37 L1233.76,1496.09 L1238.14,1490.84 L1242.51,1480.34 L1246.01,1466.33 L1249.52,1448.82 L1253.02,1431.32 L1256.52,1413.81 L1260.02,1391.05 L1263.52,1370.04 L1267.02,1349.03 L1269.65,1331.53 L1272.27,1317.52 L1274.90,1301.76 L1277.53,1287.76 L1279.28,1286.01 L1281.03,1291.26 L1282.78,1289.51 L1284.53,1294.76 L1286.28,1298.26 L1288.03,1314.02 L1290.66,1328.03 L1293.28,1343.78 L1295.91,1364.79 L1298.54,1387.55 L1302.04,1408.56 L1304.66,1426.06 L1307.29,1441.82 L1309.91,1443.57 L1312.54,1445.32 L1315.17,1447.07 L1317.79,1448.82 L1320.42,1450.57 L1322.17,1452.32 L1323.92,1459.33 L1326.55,1469.83 L1330.05,1478.59 L1333.55,1483.84 L1337.05,1487.34 L1340.55,1490.84 L1344.93,1494.34 L1349.31,1497.84 L1359.81,1499.07 L1450.30,1499.07" fill="none" stroke="#e0242c" stroke-width="1.7"/>
<rect x="1222.4" y="1272.4" width="227.9" height="227.2" fill="none" stroke="#333" stroke-width="1.2"/>
<line x1="1222.4" y1="1499.6" x2="1450.3" y2="1499.6" stroke="#222" stroke-width="1.8"/>
<g stroke="#111"><line x1="1216.2" y1="1282.5" x2="1222.4" y2="1282.5" stroke-width="2"/><line x1="1216.2" y1="1325.8" x2="1222.4" y2="1325.8" stroke-width="2"/><line x1="1216.2" y1="1369.1" x2="1222.4" y2="1369.1" stroke-width="2"/><line x1="1216.2" y1="1412.4" x2="1222.4" y2="1412.4" stroke-width="2"/><line x1="1216.2" y1="1455.7" x2="1222.4" y2="1455.7" stroke-width="2"/><line x1="1216.2" y1="1499.0" x2="1222.4" y2="1499.0" stroke-width="2"/><line x1="1219.1" y1="1293.3" x2="1222.4" y2="1293.3" stroke-width="1.3"/><line x1="1219.1" y1="1304.2" x2="1222.4" y2="1304.2" stroke-width="1.3"/><line x1="1219.1" y1="1315.0" x2="1222.4" y2="1315.0" stroke-width="1.3"/><line x1="1219.1" y1="1336.6" x2="1222.4" y2="1336.6" stroke-width="1.3"/><line x1="1219.1" y1="1347.5" x2="1222.4" y2="1347.5" stroke-width="1.3"/><line x1="1219.1" y1="1358.3" x2="1222.4" y2="1358.3" stroke-width="1.3"/><line x1="1219.1" y1="1379.9" x2="1222.4" y2="1379.9" stroke-width="1.3"/><line x1="1219.1" y1="1390.8" x2="1222.4" y2="1390.8" stroke-width="1.3"/><line x1="1219.1" y1="1401.6" x2="1222.4" y2="1401.6" stroke-width="1.3"/><line x1="1219.1" y1="1423.2" x2="1222.4" y2="1423.2" stroke-width="1.3"/><line x1="1219.1" y1="1434.0" x2="1222.4" y2="1434.0" stroke-width="1.3"/><line x1="1219.1" y1="1444.9" x2="1222.4" y2="1444.9" stroke-width="1.3"/><line x1="1219.1" y1="1466.5" x2="1222.4" y2="1466.5" stroke-width="1.3"/><line x1="1219.1" y1="1477.3" x2="1222.4" y2="1477.3" stroke-width="1.3"/><line x1="1219.1" y1="1488.2" x2="1222.4" y2="1488.2" stroke-width="1.3"/><line x1="1228.2" y1="1499.6" x2="1228.2" y2="1506.1" stroke-width="2"/><line x1="1251.3" y1="1499.6" x2="1251.3" y2="1506.1" stroke-width="2"/><line x1="1230.8" y1="1499.6" x2="1230.8" y2="1502.8" stroke-width="1.2"/><line x1="1233.3" y1="1499.6" x2="1233.3" y2="1502.8" stroke-width="1.2"/><line x1="1235.9" y1="1499.6" x2="1235.9" y2="1502.8" stroke-width="1.2"/><line x1="1238.5" y1="1499.6" x2="1238.5" y2="1502.8" stroke-width="1.2"/><line x1="1241.0" y1="1499.6" x2="1241.0" y2="1502.8" stroke-width="1.2"/><line x1="1243.6" y1="1499.6" x2="1243.6" y2="1502.8" stroke-width="1.2"/><line x1="1246.2" y1="1499.6" x2="1246.2" y2="1502.8" stroke-width="1.2"/><line x1="1248.7" y1="1499.6" x2="1248.7" y2="1502.8" stroke-width="1.2"/><line x1="1255.1" y1="1499.6" x2="1255.1" y2="1502.8" stroke-width="1.2"/><line x1="1258.9" y1="1499.6" x2="1258.9" y2="1502.8" stroke-width="1.2"/><line x1="1262.7" y1="1499.6" x2="1262.7" y2="1502.8" stroke-width="1.2"/><line x1="1266.4" y1="1499.6" x2="1266.4" y2="1502.8" stroke-width="1.2"/><line x1="1270.2" y1="1499.6" x2="1270.2" y2="1502.8" stroke-width="1.2"/><line x1="1274.0" y1="1499.6" x2="1274.0" y2="1506.1" stroke-width="2"/><line x1="1335.3" y1="1499.6" x2="1335.3" y2="1506.1" stroke-width="2"/><line x1="1395.7" y1="1499.6" x2="1395.7" y2="1506.1" stroke-width="2"/><line x1="1292.2" y1="1499.6" x2="1292.2" y2="1502.8" stroke-width="1.2"/><line x1="1302.8" y1="1499.6" x2="1302.8" y2="1502.8" stroke-width="1.2"/><line x1="1310.4" y1="1499.6" x2="1310.4" y2="1502.8" stroke-width="1.2"/><line x1="1316.2" y1="1499.6" x2="1316.2" y2="1502.8" stroke-width="1.2"/><line x1="1321.0" y1="1499.6" x2="1321.0" y2="1502.8" stroke-width="1.2"/><line x1="1325.0" y1="1499.6" x2="1325.0" y2="1502.8" stroke-width="1.2"/><line x1="1328.5" y1="1499.6" x2="1328.5" y2="1502.8" stroke-width="1.2"/><line x1="1331.6" y1="1499.6" x2="1331.6" y2="1502.8" stroke-width="1.2"/><line x1="1353.5" y1="1499.6" x2="1353.5" y2="1502.8" stroke-width="1.2"/><line x1="1364.1" y1="1499.6" x2="1364.1" y2="1502.8" stroke-width="1.2"/><line x1="1371.7" y1="1499.6" x2="1371.7" y2="1502.8" stroke-width="1.2"/><line x1="1377.5" y1="1499.6" x2="1377.5" y2="1502.8" stroke-width="1.2"/><line x1="1382.3" y1="1499.6" x2="1382.3" y2="1502.8" stroke-width="1.2"/><line x1="1386.3" y1="1499.6" x2="1386.3" y2="1502.8" stroke-width="1.2"/><line x1="1389.8" y1="1499.6" x2="1389.8" y2="1502.8" stroke-width="1.2"/><line x1="1392.9" y1="1499.6" x2="1392.9" y2="1502.8" stroke-width="1.2"/><line x1="1413.9" y1="1499.6" x2="1413.9" y2="1502.8" stroke-width="1.2"/><line x1="1424.5" y1="1499.6" x2="1424.5" y2="1502.8" stroke-width="1.2"/><line x1="1432.1" y1="1499.6" x2="1432.1" y2="1502.8" stroke-width="1.2"/><line x1="1437.9" y1="1499.6" x2="1437.9" y2="1502.8" stroke-width="1.2"/><line x1="1442.7" y1="1499.6" x2="1442.7" y2="1502.8" stroke-width="1.2"/><line x1="1446.7" y1="1499.6" x2="1446.7" y2="1502.8" stroke-width="1.2"/></g>
<text x="1251.3" y="1528.6" font-size="23" text-anchor="middle">0</text>
<text x="1322.8" y="1528.6" font-size="23">10<tspan font-size="14" dy="-8.5">3</tspan></text>
<text x="1383.2" y="1528.6" font-size="23">10<tspan font-size="14" dy="-8.5">4</tspan></text>
<text x="1223.2" y="1563.8" font-size="29.5">CXCR4-PE</text>
<path d="M1460.40,1499.07 L1484.01,1498.37 L1501.52,1497.49 L1519.03,1495.22 L1526.03,1493.47 L1533.03,1490.84 L1538.29,1483.84 L1543.54,1475.08 L1547.04,1466.33 L1550.54,1448.82 L1554.04,1431.32 L1555.79,1422.56 L1558.42,1405.06 L1561.04,1387.55 L1563.67,1361.29 L1566.30,1335.03 L1568.92,1310.52 L1570.67,1305.27 L1572.42,1287.76 L1573.82,1282.51 L1575.05,1291.26 L1576.80,1296.51 L1578.55,1301.76 L1579.43,1308.77 L1580.65,1326.27 L1582.05,1352.54 L1583.80,1378.80 L1585.55,1405.06 L1588.18,1426.06 L1590.81,1440.07 L1593.43,1450.57 L1596.06,1455.83 L1598.68,1461.08 L1601.31,1469.83 L1604.81,1478.59 L1608.31,1485.59 L1611.82,1490.84 L1615.32,1494.34 L1618.82,1496.97 L1622.32,1498.72 L1688.30,1499.07Z" fill="#d4d4d4" stroke="#8a8a8a" stroke-width="1.3"/>
<path d="M1460.40,1499.07 L1536.54,1499.07 L1554.04,1498.72 L1559.29,1496.44 L1564.55,1494.69 L1569.80,1489.09 L1574.18,1484.71 L1577.68,1475.96 L1581.18,1462.83 L1583.45,1448.82 L1585.90,1433.07 L1587.66,1419.06 L1589.41,1405.06 L1591.16,1387.55 L1592.91,1370.04 L1594.66,1352.54 L1596.41,1335.03 L1598.16,1317.52 L1599.91,1303.52 L1601.31,1287.76 L1602.54,1283.38 L1603.94,1284.26 L1606.04,1298.26 L1607.96,1312.27 L1610.41,1335.03 L1612.17,1352.54 L1613.92,1370.04 L1615.67,1391.05 L1617.42,1413.81 L1620.04,1436.57 L1622.32,1457.58 L1624.07,1466.33 L1627.57,1475.08 L1631.07,1481.21 L1634.57,1486.46 L1638.08,1491.72 L1643.33,1494.69 L1650.33,1497.14 L1659.08,1498.54 L1667.84,1499.07 L1688.30,1499.07" fill="none" stroke="#4a86c8" stroke-width="1.7"/>
<path d="M1460.40,1499.07 L1536.54,1499.07 L1554.04,1498.72 L1559.29,1496.09 L1564.55,1494.34 L1569.80,1487.34 L1573.30,1483.84 L1576.80,1475.08 L1580.30,1462.83 L1582.93,1448.82 L1585.55,1433.07 L1587.31,1419.06 L1589.06,1405.06 L1590.81,1387.55 L1592.56,1370.04 L1594.31,1352.54 L1596.06,1335.03 L1597.81,1317.52 L1599.56,1305.27 L1601.31,1291.26 L1602.54,1284.26 L1603.94,1286.01 L1605.69,1300.01 L1607.44,1314.02 L1610.06,1335.03 L1611.82,1352.54 L1613.57,1370.04 L1615.32,1391.05 L1617.07,1413.81 L1619.69,1436.57 L1622.32,1457.58 L1624.07,1466.33 L1627.57,1475.08 L1631.07,1480.34 L1634.57,1485.59 L1638.08,1490.84 L1643.33,1494.34 L1650.33,1496.97 L1659.08,1498.37 L1667.84,1499.07 L1688.30,1499.07" fill="none" stroke="#e0242c" stroke-width="1.7"/>
<rect x="1460.4" y="1272.4" width="227.9" height="227.2" fill="none" stroke="#333" stroke-width="1.2"/>
<line x1="1460.4" y1="1499.6" x2="1688.3" y2="1499.6" stroke="#222" stroke-width="1.8"/>
<g stroke="#111"><line x1="1454.2" y1="1282.5" x2="1460.4" y2="1282.5" stroke-width="2"/><line x1="1454.2" y1="1325.8" x2="1460.4" y2="1325.8" stroke-width="2"/><line x1="1454.2" y1="1369.1" x2="1460.4" y2="1369.1" stroke-width="2"/><line x1="1454.2" y1="1412.4" x2="1460.4" y2="1412.4" stroke-width="2"/><line x1="1454.2" y1="1455.7" x2="1460.4" y2="1455.7" stroke-width="2"/><line x1="1454.2" y1="1499.0" x2="1460.4" y2="1499.0" stroke-width="2"/><line x1="1457.1" y1="1293.3" x2="1460.4" y2="1293.3" stroke-width="1.3"/><line x1="1457.1" y1="1304.2" x2="1460.4" y2="1304.2" stroke-width="1.3"/><line x1="1457.1" y1="1315.0" x2="1460.4" y2="1315.0" stroke-width="1.3"/><line x1="1457.1" y1="1336.6" x2="1460.4" y2="1336.6" stroke-width="1.3"/><line x1="1457.1" y1="1347.5" x2="1460.4" y2="1347.5" stroke-width="1.3"/><line x1="1457.1" y1="1358.3" x2="1460.4" y2="1358.3" stroke-width="1.3"/><line x1="1457.1" y1="1379.9" x2="1460.4" y2="1379.9" stroke-width="1.3"/><line x1="1457.1" y1="1390.8" x2="1460.4" y2="1390.8" stroke-width="1.3"/><line x1="1457.1" y1="1401.6" x2="1460.4" y2="1401.6" stroke-width="1.3"/><line x1="1457.1" y1="1423.2" x2="1460.4" y2="1423.2" stroke-width="1.3"/><line x1="1457.1" y1="1434.0" x2="1460.4" y2="1434.0" stroke-width="1.3"/><line x1="1457.1" y1="1444.9" x2="1460.4" y2="1444.9" stroke-width="1.3"/><line x1="1457.1" y1="1466.5" x2="1460.4" y2="1466.5" stroke-width="1.3"/><line x1="1457.1" y1="1477.3" x2="1460.4" y2="1477.3" stroke-width="1.3"/><line x1="1457.1" y1="1488.2" x2="1460.4" y2="1488.2" stroke-width="1.3"/><line x1="1466.5" y1="1499.6" x2="1466.5" y2="1506.1" stroke-width="2"/><line x1="1489.3" y1="1499.6" x2="1489.3" y2="1506.1" stroke-width="2"/><line x1="1469.0" y1="1499.6" x2="1469.0" y2="1502.8" stroke-width="1.2"/><line x1="1471.6" y1="1499.6" x2="1471.6" y2="1502.8" stroke-width="1.2"/><line x1="1474.1" y1="1499.6" x2="1474.1" y2="1502.8" stroke-width="1.2"/><line x1="1476.6" y1="1499.6" x2="1476.6" y2="1502.8" stroke-width="1.2"/><line x1="1479.2" y1="1499.6" x2="1479.2" y2="1502.8" stroke-width="1.2"/><line x1="1481.7" y1="1499.6" x2="1481.7" y2="1502.8" stroke-width="1.2"/><line x1="1484.2" y1="1499.6" x2="1484.2" y2="1502.8" stroke-width="1.2"/><line x1="1486.8" y1="1499.6" x2="1486.8" y2="1502.8" stroke-width="1.2"/><line x1="1493.2" y1="1499.6" x2="1493.2" y2="1502.8" stroke-width="1.2"/><line x1="1497.0" y1="1499.6" x2="1497.0" y2="1502.8" stroke-width="1.2"/><line x1="1500.8" y1="1499.6" x2="1500.8" y2="1502.8" stroke-width="1.2"/><line x1="1504.7" y1="1499.6" x2="1504.7" y2="1502.8" stroke-width="1.2"/><line x1="1508.6" y1="1499.6" x2="1508.6" y2="1502.8" stroke-width="1.2"/><line x1="1512.4" y1="1499.6" x2="1512.4" y2="1506.1" stroke-width="2"/><line x1="1573.3" y1="1499.6" x2="1573.3" y2="1506.1" stroke-width="2"/><line x1="1634.0" y1="1499.6" x2="1634.0" y2="1506.1" stroke-width="2"/><line x1="1530.7" y1="1499.6" x2="1530.7" y2="1502.8" stroke-width="1.2"/><line x1="1541.4" y1="1499.6" x2="1541.4" y2="1502.8" stroke-width="1.2"/><line x1="1548.9" y1="1499.6" x2="1548.9" y2="1502.8" stroke-width="1.2"/><line x1="1554.8" y1="1499.6" x2="1554.8" y2="1502.8" stroke-width="1.2"/><line x1="1559.6" y1="1499.6" x2="1559.6" y2="1502.8" stroke-width="1.2"/><line x1="1563.7" y1="1499.6" x2="1563.7" y2="1502.8" stroke-width="1.2"/><line x1="1567.2" y1="1499.6" x2="1567.2" y2="1502.8" stroke-width="1.2"/><line x1="1570.3" y1="1499.6" x2="1570.3" y2="1502.8" stroke-width="1.2"/><line x1="1591.6" y1="1499.6" x2="1591.6" y2="1502.8" stroke-width="1.2"/><line x1="1602.3" y1="1499.6" x2="1602.3" y2="1502.8" stroke-width="1.2"/><line x1="1609.8" y1="1499.6" x2="1609.8" y2="1502.8" stroke-width="1.2"/><line x1="1615.7" y1="1499.6" x2="1615.7" y2="1502.8" stroke-width="1.2"/><line x1="1620.5" y1="1499.6" x2="1620.5" y2="1502.8" stroke-width="1.2"/><line x1="1624.6" y1="1499.6" x2="1624.6" y2="1502.8" stroke-width="1.2"/><line x1="1628.1" y1="1499.6" x2="1628.1" y2="1502.8" stroke-width="1.2"/><line x1="1631.2" y1="1499.6" x2="1631.2" y2="1502.8" stroke-width="1.2"/><line x1="1652.3" y1="1499.6" x2="1652.3" y2="1502.8" stroke-width="1.2"/><line x1="1663.0" y1="1499.6" x2="1663.0" y2="1502.8" stroke-width="1.2"/><line x1="1670.5" y1="1499.6" x2="1670.5" y2="1502.8" stroke-width="1.2"/><line x1="1676.4" y1="1499.6" x2="1676.4" y2="1502.8" stroke-width="1.2"/><line x1="1681.2" y1="1499.6" x2="1681.2" y2="1502.8" stroke-width="1.2"/><line x1="1685.3" y1="1499.6" x2="1685.3" y2="1502.8" stroke-width="1.2"/></g>
<text x="1489.3" y="1528.6" font-size="23" text-anchor="middle">0</text>
<text x="1560.8" y="1528.6" font-size="23">10<tspan font-size="14" dy="-8.5">3</tspan></text>
<text x="1621.5" y="1528.6" font-size="23">10<tspan font-size="14" dy="-8.5">4</tspan></text>
<text x="1461.2" y="1563.8" font-size="29.5">MPO-APC</text>
<path d="M1698.90,1499.07 L1708.01,1498.72 L1711.51,1494.34 L1714.14,1483.84 L1716.76,1457.58 L1719.39,1413.81 L1721.14,1378.80 L1722.89,1343.78 L1724.64,1300.01 L1725.87,1283.38 L1727.62,1296.51 L1729.89,1335.03 L1732.17,1378.80 L1734.62,1419.06 L1737.42,1454.08 L1740.40,1475.08 L1743.02,1485.59 L1746.52,1492.59 L1753.53,1496.97 L1764.03,1498.72 L1926.30,1499.07Z" fill="#d4d4d4" stroke="#8a8a8a" stroke-width="1.3"/>
<path d="M1698.90,1499.07 L1715.01,1498.89 L1725.52,1497.84 L1732.52,1495.22 L1739.52,1490.84 L1744.77,1485.59 L1748.27,1478.59 L1750.90,1469.83 L1753.53,1457.58 L1756.15,1443.57 L1757.90,1431.32 L1759.65,1419.06 L1761.40,1401.55 L1763.16,1384.05 L1764.91,1366.54 L1766.66,1343.78 L1768.41,1326.27 L1770.16,1308.77 L1771.91,1294.76 L1773.66,1287.76 L1775.41,1286.01 L1777.16,1293.01 L1778.91,1308.77 L1780.66,1321.02 L1782.41,1335.03 L1784.16,1352.54 L1785.91,1370.04 L1787.67,1387.55 L1789.42,1405.06 L1791.17,1422.56 L1792.92,1436.57 L1795.54,1454.08 L1798.17,1468.08 L1800.80,1478.59 L1804.30,1489.09 L1807.80,1494.34 L1813.05,1496.44 L1820.05,1496.97 L1827.06,1496.44 L1834.06,1496.44 L1839.31,1496.97 L1844.56,1498.37 L1849.82,1499.07 L1926.30,1499.07" fill="none" stroke="#4a86c8" stroke-width="1.7"/>
<path d="M1698.90,1499.07 L1711.51,1498.72 L1722.01,1496.09 L1727.27,1494.34 L1732.52,1490.84 L1736.02,1489.09 L1739.52,1485.59 L1743.02,1478.59 L1746.52,1466.33 L1749.15,1454.08 L1751.78,1440.07 L1754.40,1422.56 L1757.03,1405.06 L1758.78,1387.55 L1760.53,1370.04 L1762.28,1352.54 L1764.03,1335.03 L1766.66,1314.02 L1769.28,1296.51 L1771.03,1289.51 L1772.78,1286.01 L1774.54,1289.51 L1776.29,1300.01 L1778.04,1317.52 L1779.79,1335.03 L1781.54,1356.04 L1783.29,1378.80 L1785.04,1396.30 L1786.79,1413.81 L1788.54,1431.32 L1790.29,1440.07 L1792.92,1454.08 L1795.54,1466.33 L1798.17,1475.08 L1800.80,1483.84 L1804.30,1490.84 L1807.80,1496.09 L1813.05,1497.49 L1818.30,1497.84 L1823.55,1496.97 L1827.06,1495.22 L1832.31,1494.69 L1837.56,1494.34 L1841.06,1495.74 L1844.56,1496.97 L1848.06,1498.37 L1853.32,1499.07 L1926.30,1499.07" fill="none" stroke="#e0242c" stroke-width="1.7"/>
<rect x="1698.9" y="1272.4" width="227.4" height="227.2" fill="none" stroke="#333" stroke-width="1.2"/>
<line x1="1698.9" y1="1499.6" x2="1926.3" y2="1499.6" stroke="#222" stroke-width="1.8"/>
<g stroke="#111"><line x1="1692.7" y1="1282.5" x2="1698.9" y2="1282.5" stroke-width="2"/><line x1="1692.7" y1="1325.8" x2="1698.9" y2="1325.8" stroke-width="2"/><line x1="1692.7" y1="1369.1" x2="1698.9" y2="1369.1" stroke-width="2"/><line x1="1692.7" y1="1412.4" x2="1698.9" y2="1412.4" stroke-width="2"/><line x1="1692.7" y1="1455.7" x2="1698.9" y2="1455.7" stroke-width="2"/><line x1="1692.7" y1="1499.0" x2="1698.9" y2="1499.0" stroke-width="2"/><line x1="1695.6" y1="1293.3" x2="1698.9" y2="1293.3" stroke-width="1.3"/><line x1="1695.6" y1="1304.2" x2="1698.9" y2="1304.2" stroke-width="1.3"/><line x1="1695.6" y1="1315.0" x2="1698.9" y2="1315.0" stroke-width="1.3"/><line x1="1695.6" y1="1336.6" x2="1698.9" y2="1336.6" stroke-width="1.3"/><line x1="1695.6" y1="1347.5" x2="1698.9" y2="1347.5" stroke-width="1.3"/><line x1="1695.6" y1="1358.3" x2="1698.9" y2="1358.3" stroke-width="1.3"/><line x1="1695.6" y1="1379.9" x2="1698.9" y2="1379.9" stroke-width="1.3"/><line x1="1695.6" y1="1390.8" x2="1698.9" y2="1390.8" stroke-width="1.3"/><line x1="1695.6" y1="1401.6" x2="1698.9" y2="1401.6" stroke-width="1.3"/><line x1="1695.6" y1="1423.2" x2="1698.9" y2="1423.2" stroke-width="1.3"/><line x1="1695.6" y1="1434.0" x2="1698.9" y2="1434.0" stroke-width="1.3"/><line x1="1695.6" y1="1444.9" x2="1698.9" y2="1444.9" stroke-width="1.3"/><line x1="1695.6" y1="1466.5" x2="1698.9" y2="1466.5" stroke-width="1.3"/><line x1="1695.6" y1="1477.3" x2="1698.9" y2="1477.3" stroke-width="1.3"/><line x1="1695.6" y1="1488.2" x2="1698.9" y2="1488.2" stroke-width="1.3"/><line x1="1704.2" y1="1499.6" x2="1704.2" y2="1506.1" stroke-width="2"/><line x1="1724.6" y1="1499.6" x2="1724.6" y2="1506.1" stroke-width="2"/><line x1="1706.5" y1="1499.6" x2="1706.5" y2="1502.8" stroke-width="1.2"/><line x1="1708.7" y1="1499.6" x2="1708.7" y2="1502.8" stroke-width="1.2"/><line x1="1711.0" y1="1499.6" x2="1711.0" y2="1502.8" stroke-width="1.2"/><line x1="1713.3" y1="1499.6" x2="1713.3" y2="1502.8" stroke-width="1.2"/><line x1="1715.5" y1="1499.6" x2="1715.5" y2="1502.8" stroke-width="1.2"/><line x1="1717.8" y1="1499.6" x2="1717.8" y2="1502.8" stroke-width="1.2"/><line x1="1720.1" y1="1499.6" x2="1720.1" y2="1502.8" stroke-width="1.2"/><line x1="1722.3" y1="1499.6" x2="1722.3" y2="1502.8" stroke-width="1.2"/><line x1="1728.0" y1="1499.6" x2="1728.0" y2="1502.8" stroke-width="1.2"/><line x1="1731.3" y1="1499.6" x2="1731.3" y2="1502.8" stroke-width="1.2"/><line x1="1734.7" y1="1499.6" x2="1734.7" y2="1502.8" stroke-width="1.2"/><line x1="1738.1" y1="1499.6" x2="1738.1" y2="1502.8" stroke-width="1.2"/><line x1="1741.4" y1="1499.6" x2="1741.4" y2="1502.8" stroke-width="1.2"/><line x1="1744.8" y1="1499.6" x2="1744.8" y2="1506.1" stroke-width="2"/><line x1="1799.0" y1="1499.6" x2="1799.0" y2="1506.1" stroke-width="2"/><line x1="1852.4" y1="1499.6" x2="1852.4" y2="1506.1" stroke-width="2"/><line x1="1905.0" y1="1499.6" x2="1905.0" y2="1506.1" stroke-width="2"/><line x1="1760.6" y1="1499.6" x2="1760.6" y2="1502.8" stroke-width="1.2"/><line x1="1769.9" y1="1499.6" x2="1769.9" y2="1502.8" stroke-width="1.2"/><line x1="1776.5" y1="1499.6" x2="1776.5" y2="1502.8" stroke-width="1.2"/><line x1="1781.6" y1="1499.6" x2="1781.6" y2="1502.8" stroke-width="1.2"/><line x1="1785.7" y1="1499.6" x2="1785.7" y2="1502.8" stroke-width="1.2"/><line x1="1789.3" y1="1499.6" x2="1789.3" y2="1502.8" stroke-width="1.2"/><line x1="1792.3" y1="1499.6" x2="1792.3" y2="1502.8" stroke-width="1.2"/><line x1="1795.0" y1="1499.6" x2="1795.0" y2="1502.8" stroke-width="1.2"/><line x1="1814.8" y1="1499.6" x2="1814.8" y2="1502.8" stroke-width="1.2"/><line x1="1824.1" y1="1499.6" x2="1824.1" y2="1502.8" stroke-width="1.2"/><line x1="1830.7" y1="1499.6" x2="1830.7" y2="1502.8" stroke-width="1.2"/><line x1="1835.8" y1="1499.6" x2="1835.8" y2="1502.8" stroke-width="1.2"/><line x1="1839.9" y1="1499.6" x2="1839.9" y2="1502.8" stroke-width="1.2"/><line x1="1843.5" y1="1499.6" x2="1843.5" y2="1502.8" stroke-width="1.2"/><line x1="1846.5" y1="1499.6" x2="1846.5" y2="1502.8" stroke-width="1.2"/><line x1="1849.2" y1="1499.6" x2="1849.2" y2="1502.8" stroke-width="1.2"/><line x1="1868.2" y1="1499.6" x2="1868.2" y2="1502.8" stroke-width="1.2"/><line x1="1877.5" y1="1499.6" x2="1877.5" y2="1502.8" stroke-width="1.2"/><line x1="1884.1" y1="1499.6" x2="1884.1" y2="1502.8" stroke-width="1.2"/><line x1="1889.2" y1="1499.6" x2="1889.2" y2="1502.8" stroke-width="1.2"/><line x1="1893.3" y1="1499.6" x2="1893.3" y2="1502.8" stroke-width="1.2"/><line x1="1896.9" y1="1499.6" x2="1896.9" y2="1502.8" stroke-width="1.2"/><line x1="1899.9" y1="1499.6" x2="1899.9" y2="1502.8" stroke-width="1.2"/><line x1="1902.6" y1="1499.6" x2="1902.6" y2="1502.8" stroke-width="1.2"/><line x1="1920.8" y1="1499.6" x2="1920.8" y2="1502.8" stroke-width="1.2"/></g>
<text x="1724.6" y="1528.6" font-size="23" text-anchor="middle">0</text>
<text x="1786.5" y="1528.6" font-size="23">10<tspan font-size="14" dy="-8.5">3</tspan></text>
<text x="1839.9" y="1528.6" font-size="23">10<tspan font-size="14" dy="-8.5">4</tspan></text>
<text x="1892.5" y="1528.6" font-size="23">10<tspan font-size="14" dy="-8.5">5</tspan></text>
<text x="1699.7" y="1563.8" font-size="29.5">Elastase-APC</text>
<path d="M1937.41,1499.07 L1958.77,1498.89 L1961.39,1496.09 L1963.14,1489.09 L1964.89,1478.59 L1966.65,1461.08 L1968.40,1431.32 L1970.15,1396.30 L1971.37,1361.29 L1972.77,1326.27 L1974.52,1305.27 L1976.27,1297.39 L1977.68,1305.27 L1978.90,1291.26 L1980.30,1283.38 L1981.53,1293.01 L1983.28,1317.52 L1985.03,1343.78 L1986.78,1370.04 L1988.53,1396.30 L1990.28,1422.56 L1992.03,1440.07 L1993.78,1450.57 L1996.41,1464.58 L1999.03,1475.08 L2001.66,1483.84 L2004.29,1489.09 L2007.79,1492.59 L2013.04,1495.22 L2025.29,1496.09 L2037.55,1496.97 L2051.55,1497.84 L2063.81,1498.72 L2164.40,1499.07Z" fill="#d4d4d4" stroke="#8a8a8a" stroke-width="1.3"/>
<path d="M1937.41,1499.07 L1943.01,1498.72 L1950.01,1496.44 L1954.39,1491.72 L1958.77,1483.84 L1963.14,1473.33 L1967.52,1459.33 L1971.90,1445.32 L1976.27,1429.57 L1978.90,1417.31 L1981.53,1405.06 L1984.15,1391.05 L1986.78,1377.04 L1989.40,1363.04 L1992.03,1350.78 L1994.66,1342.03 L1996.41,1335.03 L1998.16,1321.02 L1999.91,1312.27 L2001.66,1315.77 L2003.41,1310.52 L2005.16,1307.02 L2006.91,1300.01 L2008.66,1296.51 L2010.41,1310.52 L2012.16,1317.52 L2013.91,1307.02 L2014.79,1302.64 L2016.54,1315.77 L2018.29,1317.52 L2020.04,1322.77 L2021.79,1324.52 L2023.54,1326.27 L2025.29,1338.53 L2027.04,1349.03 L2028.80,1357.79 L2031.42,1366.54 L2034.05,1370.04 L2035.80,1387.55 L2037.55,1405.06 L2041.05,1419.06 L2044.55,1433.07 L2048.05,1447.07 L2051.55,1461.08 L2055.06,1475.08 L2060.31,1485.59 L2065.56,1490.84 L2072.56,1494.34 L2081.32,1496.97 L2090.07,1498.54 L2098.82,1499.07 L2164.40,1499.07" fill="none" stroke="#4a86c8" stroke-width="1.7"/>
<path d="M1937.41,1499.07 L1943.01,1498.72 L1950.01,1496.09 L1954.39,1491.72 L1958.77,1483.84 L1963.14,1473.33 L1967.52,1461.08 L1971.90,1447.07 L1976.27,1431.32 L1978.90,1419.06 L1981.53,1401.55 L1984.15,1387.55 L1986.78,1373.54 L1989.40,1359.54 L1992.03,1349.03 L1994.66,1338.53 L1996.41,1331.53 L1998.16,1317.52 L1999.91,1304.39 L2001.66,1307.02 L2002.54,1308.77 L2004.29,1305.27 L2006.04,1301.76 L2007.79,1308.77 L2009.54,1317.52 L2012.16,1321.02 L2014.79,1321.02 L2016.54,1328.03 L2018.29,1335.03 L2020.04,1343.78 L2021.79,1342.03 L2023.54,1336.78 L2025.29,1343.78 L2027.04,1352.54 L2028.80,1370.04 L2030.55,1378.80 L2033.17,1387.55 L2035.80,1396.30 L2037.55,1413.81 L2040.18,1426.06 L2042.80,1438.32 L2046.30,1448.82 L2049.80,1461.08 L2053.31,1475.08 L2056.81,1482.09 L2062.06,1485.59 L2067.31,1489.09 L2072.56,1492.59 L2077.82,1494.34 L2083.07,1495.22 L2088.32,1496.97 L2093.57,1498.19 L2098.82,1499.07 L2164.40,1499.07" fill="none" stroke="#e0242c" stroke-width="1.7"/>
<rect x="1937.4" y="1272.4" width="227.0" height="227.2" fill="none" stroke="#333" stroke-width="1.2"/>
<line x1="1937.4" y1="1499.6" x2="2164.4" y2="1499.6" stroke="#222" stroke-width="1.8"/>
<g stroke="#111"><line x1="1931.2" y1="1282.5" x2="1937.4" y2="1282.5" stroke-width="2"/><line x1="1931.2" y1="1325.8" x2="1937.4" y2="1325.8" stroke-width="2"/><line x1="1931.2" y1="1369.1" x2="1937.4" y2="1369.1" stroke-width="2"/><line x1="1931.2" y1="1412.4" x2="1937.4" y2="1412.4" stroke-width="2"/><line x1="1931.2" y1="1455.7" x2="1937.4" y2="1455.7" stroke-width="2"/><line x1="1931.2" y1="1499.0" x2="1937.4" y2="1499.0" stroke-width="2"/><line x1="1934.1" y1="1293.3" x2="1937.4" y2="1293.3" stroke-width="1.3"/><line x1="1934.1" y1="1304.2" x2="1937.4" y2="1304.2" stroke-width="1.3"/><line x1="1934.1" y1="1315.0" x2="1937.4" y2="1315.0" stroke-width="1.3"/><line x1="1934.1" y1="1336.6" x2="1937.4" y2="1336.6" stroke-width="1.3"/><line x1="1934.1" y1="1347.5" x2="1937.4" y2="1347.5" stroke-width="1.3"/><line x1="1934.1" y1="1358.3" x2="1937.4" y2="1358.3" stroke-width="1.3"/><line x1="1934.1" y1="1379.9" x2="1937.4" y2="1379.9" stroke-width="1.3"/><line x1="1934.1" y1="1390.8" x2="1937.4" y2="1390.8" stroke-width="1.3"/><line x1="1934.1" y1="1401.6" x2="1937.4" y2="1401.6" stroke-width="1.3"/><line x1="1934.1" y1="1423.2" x2="1937.4" y2="1423.2" stroke-width="1.3"/><line x1="1934.1" y1="1434.0" x2="1937.4" y2="1434.0" stroke-width="1.3"/><line x1="1934.1" y1="1444.9" x2="1937.4" y2="1444.9" stroke-width="1.3"/><line x1="1934.1" y1="1466.5" x2="1937.4" y2="1466.5" stroke-width="1.3"/><line x1="1934.1" y1="1477.3" x2="1937.4" y2="1477.3" stroke-width="1.3"/><line x1="1934.1" y1="1488.2" x2="1937.4" y2="1488.2" stroke-width="1.3"/><line x1="1953.5" y1="1499.6" x2="1953.5" y2="1506.1" stroke-width="2"/><line x1="1975.9" y1="1499.6" x2="1975.9" y2="1506.1" stroke-width="2"/><line x1="1956.0" y1="1499.6" x2="1956.0" y2="1502.8" stroke-width="1.2"/><line x1="1958.5" y1="1499.6" x2="1958.5" y2="1502.8" stroke-width="1.2"/><line x1="1961.0" y1="1499.6" x2="1961.0" y2="1502.8" stroke-width="1.2"/><line x1="1963.5" y1="1499.6" x2="1963.5" y2="1502.8" stroke-width="1.2"/><line x1="1965.9" y1="1499.6" x2="1965.9" y2="1502.8" stroke-width="1.2"/><line x1="1968.4" y1="1499.6" x2="1968.4" y2="1502.8" stroke-width="1.2"/><line x1="1970.9" y1="1499.6" x2="1970.9" y2="1502.8" stroke-width="1.2"/><line x1="1973.4" y1="1499.6" x2="1973.4" y2="1502.8" stroke-width="1.2"/><line x1="1979.5" y1="1499.6" x2="1979.5" y2="1502.8" stroke-width="1.2"/><line x1="1983.0" y1="1499.6" x2="1983.0" y2="1502.8" stroke-width="1.2"/><line x1="1986.6" y1="1499.6" x2="1986.6" y2="1502.8" stroke-width="1.2"/><line x1="1990.2" y1="1499.6" x2="1990.2" y2="1502.8" stroke-width="1.2"/><line x1="1993.7" y1="1499.6" x2="1993.7" y2="1502.8" stroke-width="1.2"/><line x1="1997.3" y1="1499.6" x2="1997.3" y2="1506.1" stroke-width="2"/><line x1="2056.0" y1="1499.6" x2="2056.0" y2="1506.1" stroke-width="2"/><line x1="2112.8" y1="1499.6" x2="2112.8" y2="1506.1" stroke-width="2"/><line x1="2014.4" y1="1499.6" x2="2014.4" y2="1502.8" stroke-width="1.2"/><line x1="2024.4" y1="1499.6" x2="2024.4" y2="1502.8" stroke-width="1.2"/><line x1="2031.5" y1="1499.6" x2="2031.5" y2="1502.8" stroke-width="1.2"/><line x1="2037.0" y1="1499.6" x2="2037.0" y2="1502.8" stroke-width="1.2"/><line x1="2041.5" y1="1499.6" x2="2041.5" y2="1502.8" stroke-width="1.2"/><line x1="2045.3" y1="1499.6" x2="2045.3" y2="1502.8" stroke-width="1.2"/><line x1="2048.6" y1="1499.6" x2="2048.6" y2="1502.8" stroke-width="1.2"/><line x1="2051.5" y1="1499.6" x2="2051.5" y2="1502.8" stroke-width="1.2"/><line x1="2073.1" y1="1499.6" x2="2073.1" y2="1502.8" stroke-width="1.2"/><line x1="2083.1" y1="1499.6" x2="2083.1" y2="1502.8" stroke-width="1.2"/><line x1="2090.2" y1="1499.6" x2="2090.2" y2="1502.8" stroke-width="1.2"/><line x1="2095.7" y1="1499.6" x2="2095.7" y2="1502.8" stroke-width="1.2"/><line x1="2100.2" y1="1499.6" x2="2100.2" y2="1502.8" stroke-width="1.2"/><line x1="2104.0" y1="1499.6" x2="2104.0" y2="1502.8" stroke-width="1.2"/><line x1="2107.3" y1="1499.6" x2="2107.3" y2="1502.8" stroke-width="1.2"/><line x1="2110.2" y1="1499.6" x2="2110.2" y2="1502.8" stroke-width="1.2"/><line x1="2129.9" y1="1499.6" x2="2129.9" y2="1502.8" stroke-width="1.2"/><line x1="2139.9" y1="1499.6" x2="2139.9" y2="1502.8" stroke-width="1.2"/><line x1="2147.0" y1="1499.6" x2="2147.0" y2="1502.8" stroke-width="1.2"/><line x1="2152.5" y1="1499.6" x2="2152.5" y2="1502.8" stroke-width="1.2"/><line x1="2157.0" y1="1499.6" x2="2157.0" y2="1502.8" stroke-width="1.2"/><line x1="2160.8" y1="1499.6" x2="2160.8" y2="1502.8" stroke-width="1.2"/></g>
<text x="1975.9" y="1528.6" font-size="23" text-anchor="middle">0</text>
<text x="2043.5" y="1528.6" font-size="23">10<tspan font-size="14" dy="-8.5">3</tspan></text>
<text x="2100.3" y="1528.6" font-size="23">10<tspan font-size="14" dy="-8.5">4</tspan></text>
<text x="1938.2" y="1563.8" font-size="29.5">TLR4-PE</text>
</svg>
</body></html>
